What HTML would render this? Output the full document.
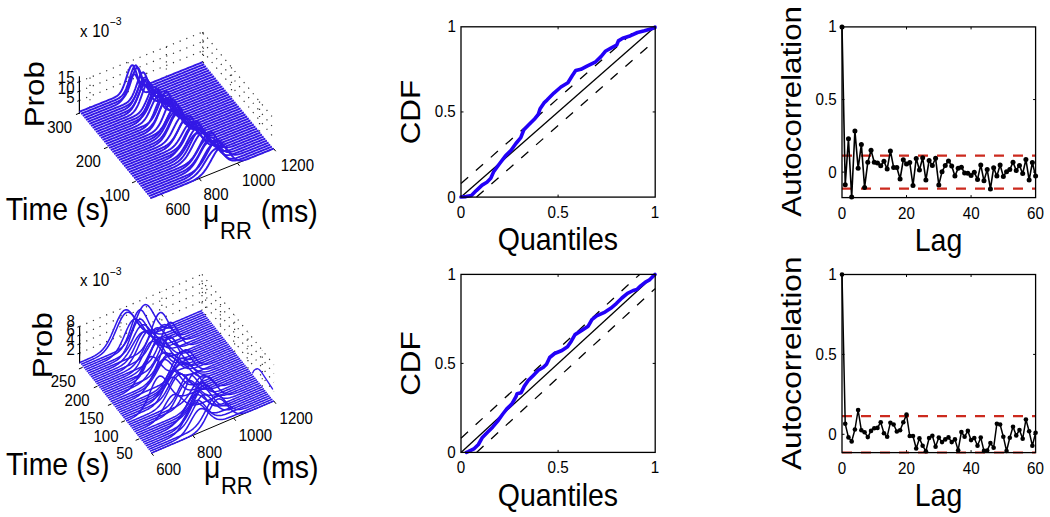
<!DOCTYPE html>
<html><head><meta charset="utf-8"><style>
html,body{margin:0;padding:0;background:#fff;width:1050px;height:517px;overflow:hidden}
svg{display:block}
text{font-family:"Liberation Sans", sans-serif}
</style></head><body>
<svg width="1050" height="517" viewBox="0 0 1050 517" font-family='"Liberation Sans", sans-serif'><line x1="558.1" y1="197.1" x2="558.1" y2="194.6" stroke="#000" stroke-width="1" stroke-linecap="butt"/>
<line x1="558.1" y1="26.8" x2="558.1" y2="29.3" stroke="#000" stroke-width="1" stroke-linecap="butt"/>
<line x1="461" y1="111.95" x2="463.5" y2="111.95" stroke="#000" stroke-width="1" stroke-linecap="butt"/>
<line x1="655.2" y1="111.95" x2="652.7" y2="111.95" stroke="#000" stroke-width="1" stroke-linecap="butt"/>
<line x1="461" y1="183.48" x2="639.66" y2="26.8" stroke="#000" stroke-width="1.3" stroke-linecap="butt" stroke-dasharray="9.5 10.3" stroke-dashoffset="0"/>
<line x1="476.54" y1="197.1" x2="655.2" y2="40.42" stroke="#000" stroke-width="1.3" stroke-linecap="butt" stroke-dasharray="9.5 10.3" stroke-dashoffset="0"/>
<line x1="461" y1="197.1" x2="655.2" y2="26.8" stroke="#000" stroke-width="1.3" stroke-linecap="butt"/>
<polyline points="461,197 466,196.6 471.4,195.6 476.3,190.6 482.1,185.1 486.9,182.2 490.8,178.3 493.7,171.6 499.5,163.8 505.3,156.1 511.1,150.3 515.9,143.5 520.8,137.7 523.7,130 528.5,125.1 534.3,119.3 538.2,114.5 540.1,108.7 544,102.9 547,100.1 553.9,93.1 560.9,87 567.9,82.7 572.2,75.7 575.7,70.5 580.9,69.3 587,66.1 595.7,61.8 601,56.6 605.3,51.3 611.4,47.9 616.6,45.2 618.4,40.9 622.7,38.3 630.6,35.7 637.5,32.5 644.5,30.8 654.9,27.8 655,27" fill="none" stroke="#2200f8" stroke-width="3.6" stroke-linejoin="round" stroke-linecap="round"/>
<rect x="461" y="26.8" width="194.2" height="170.3" fill="none" stroke="#000" stroke-width="1.3"/>
<text transform="translate(447.34,202.5) scale(1,1.08)" font-size="15.2" fill="#000">0</text>
<text transform="translate(434.71,117.35) scale(1,1.08)" font-size="15.2" fill="#000">0.5</text>
<text transform="translate(447.49,32.2) scale(1,1.08)" font-size="15.2" fill="#000">1</text>
<text transform="translate(456.77,218.1) scale(1,1.08)" font-size="15.2" fill="#000">0</text>
<text transform="translate(547.56,218.1) scale(1,1.08)" font-size="15.2" fill="#000">0.5</text>
<text transform="translate(650.77,218.1) scale(1,1.08)" font-size="15.2" fill="#000">1</text>
<text transform="translate(497.74,250.4) scale(1,1.08)" font-size="28.5" fill="#000">Quantiles</text>
<text transform="translate(419.8,144.33) rotate(-90) scale(1.1,1)" font-size="28.5" fill="#000">CDF</text>
<line x1="558.1" y1="452.4" x2="558.1" y2="449.9" stroke="#000" stroke-width="1" stroke-linecap="butt"/>
<line x1="558.1" y1="274.4" x2="558.1" y2="276.9" stroke="#000" stroke-width="1" stroke-linecap="butt"/>
<line x1="461" y1="363.4" x2="463.5" y2="363.4" stroke="#000" stroke-width="1" stroke-linecap="butt"/>
<line x1="655.2" y1="363.4" x2="652.7" y2="363.4" stroke="#000" stroke-width="1" stroke-linecap="butt"/>
<line x1="461" y1="438.16" x2="639.66" y2="274.4" stroke="#000" stroke-width="1.3" stroke-linecap="butt" stroke-dasharray="9.5 10.3" stroke-dashoffset="0"/>
<line x1="476.54" y1="452.4" x2="655.2" y2="288.64" stroke="#000" stroke-width="1.3" stroke-linecap="butt" stroke-dasharray="9.5 10.3" stroke-dashoffset="0"/>
<line x1="461" y1="452.4" x2="655.2" y2="274.4" stroke="#000" stroke-width="1.3" stroke-linecap="butt"/>
<polyline points="466.5,452.3 468.2,451.6 474.3,448.6 478.4,444.5 482.4,437.4 487.5,432.3 492.6,427.2 497.7,421.1 502.8,414 506.8,408.9 511.9,403.9 516,396.7 517,393.7 521.1,392.7 524.1,386.6 528.2,380.5 533.3,375.4 538.3,370.3 543.4,367.3 546.5,364.2 549.7,357.5 554.6,353.5 561.9,350.5 567.5,346.8 571.3,341.2 575,334.6 582.5,329.9 588.2,326.2 591.9,319.6 596.6,315.8 605,312.1 610.7,308.3 616.3,303.6 621.9,298 627.5,293.3 633.2,290.5 636.9,289.6 640.7,285.8 645.4,282.1 649.1,280.2 652.9,276.4 655,274.5" fill="none" stroke="#2200f8" stroke-width="3.6" stroke-linejoin="round" stroke-linecap="round"/>
<rect x="461" y="274.4" width="194.2" height="178" fill="none" stroke="#000" stroke-width="1.3"/>
<text transform="translate(447.34,457.8) scale(1,1.08)" font-size="15.2" fill="#000">0</text>
<text transform="translate(434.71,368.8) scale(1,1.08)" font-size="15.2" fill="#000">0.5</text>
<text transform="translate(447.49,279.8) scale(1,1.08)" font-size="15.2" fill="#000">1</text>
<text transform="translate(456.77,473.4) scale(1,1.08)" font-size="15.2" fill="#000">0</text>
<text transform="translate(547.56,473.4) scale(1,1.08)" font-size="15.2" fill="#000">0.5</text>
<text transform="translate(650.77,473.4) scale(1,1.08)" font-size="15.2" fill="#000">1</text>
<text transform="translate(497.74,505.7) scale(1,1.08)" font-size="28.5" fill="#000">Quantiles</text>
<text transform="translate(419.8,395.78) rotate(-90) scale(1.1,1)" font-size="28.5" fill="#000">CDF</text>
<line x1="906.53" y1="197.6" x2="906.53" y2="195.1" stroke="#000" stroke-width="1" stroke-linecap="butt"/>
<line x1="906.53" y1="26.9" x2="906.53" y2="29.4" stroke="#000" stroke-width="1" stroke-linecap="butt"/>
<line x1="971.07" y1="197.6" x2="971.07" y2="195.1" stroke="#000" stroke-width="1" stroke-linecap="butt"/>
<line x1="971.07" y1="26.9" x2="971.07" y2="29.4" stroke="#000" stroke-width="1" stroke-linecap="butt"/>
<line x1="842" y1="172.1" x2="844.5" y2="172.1" stroke="#000" stroke-width="1" stroke-linecap="butt"/>
<line x1="1035.6" y1="172.1" x2="1033.1" y2="172.1" stroke="#000" stroke-width="1" stroke-linecap="butt"/>
<line x1="842" y1="99.55" x2="844.5" y2="99.55" stroke="#000" stroke-width="1" stroke-linecap="butt"/>
<line x1="1035.6" y1="99.55" x2="1033.1" y2="99.55" stroke="#000" stroke-width="1" stroke-linecap="butt"/>
<line x1="842" y1="155.56" x2="1035.6" y2="155.56" stroke="#cc2a1e" stroke-width="2.2" stroke-linecap="butt" stroke-dasharray="10 9" stroke-dashoffset="0"/>
<line x1="842" y1="188.64" x2="1035.6" y2="188.64" stroke="#cc2a1e" stroke-width="2.2" stroke-linecap="butt" stroke-dasharray="10 9" stroke-dashoffset="0"/>
<polyline points="842,27 845.23,184.8 848.45,138.7 851.68,197 854.91,130.9 858.13,168.3 861.36,144.4 864.59,187.4 867.81,162.2 871.04,150.3 874.27,162.2 877.49,163 880.72,165.7 883.95,161.3 887.17,169.1 890.4,150.9 893.63,167.4 896.85,167.5 900.08,179 903.31,159.8 906.53,163.9 909.76,162.5 912.99,185.5 916.21,158.4 919.44,170 922.67,157.8 925.89,180.1 929.12,160.5 932.35,165.5 935.57,158.2 938.8,184.9 942.03,171.7 945.25,165.5 948.48,160.9 951.71,165.9 954.93,176.1 958.16,168.2 961.39,167.2 964.61,173.1 967.84,173.3 971.07,175.4 974.29,172.3 977.52,179.4 980.75,164.9 983.97,180.8 987.2,169.6 990.43,188.9 993.65,167.7 996.88,176.1 1000.11,165 1003.33,176.4 1006.56,171.8 1009.79,169.6 1013.01,162.2 1016.24,170.4 1019.47,165.5 1022.69,173.6 1025.92,159.5 1029.15,180.1 1032.37,162.5 1035.6,176.1" fill="none" stroke="#000" stroke-width="1.6" stroke-linejoin="round" stroke-linecap="round"/>
<circle cx="842" cy="27" r="2.5" fill="#000"/>
<circle cx="845.23" cy="184.8" r="2.5" fill="#000"/>
<circle cx="848.45" cy="138.7" r="2.5" fill="#000"/>
<circle cx="851.68" cy="197" r="2.5" fill="#000"/>
<circle cx="854.91" cy="130.9" r="2.5" fill="#000"/>
<circle cx="858.13" cy="168.3" r="2.5" fill="#000"/>
<circle cx="861.36" cy="144.4" r="2.5" fill="#000"/>
<circle cx="864.59" cy="187.4" r="2.5" fill="#000"/>
<circle cx="867.81" cy="162.2" r="2.5" fill="#000"/>
<circle cx="871.04" cy="150.3" r="2.5" fill="#000"/>
<circle cx="874.27" cy="162.2" r="2.5" fill="#000"/>
<circle cx="877.49" cy="163" r="2.5" fill="#000"/>
<circle cx="880.72" cy="165.7" r="2.5" fill="#000"/>
<circle cx="883.95" cy="161.3" r="2.5" fill="#000"/>
<circle cx="887.17" cy="169.1" r="2.5" fill="#000"/>
<circle cx="890.4" cy="150.9" r="2.5" fill="#000"/>
<circle cx="893.63" cy="167.4" r="2.5" fill="#000"/>
<circle cx="896.85" cy="167.5" r="2.5" fill="#000"/>
<circle cx="900.08" cy="179" r="2.5" fill="#000"/>
<circle cx="903.31" cy="159.8" r="2.5" fill="#000"/>
<circle cx="906.53" cy="163.9" r="2.5" fill="#000"/>
<circle cx="909.76" cy="162.5" r="2.5" fill="#000"/>
<circle cx="912.99" cy="185.5" r="2.5" fill="#000"/>
<circle cx="916.21" cy="158.4" r="2.5" fill="#000"/>
<circle cx="919.44" cy="170" r="2.5" fill="#000"/>
<circle cx="922.67" cy="157.8" r="2.5" fill="#000"/>
<circle cx="925.89" cy="180.1" r="2.5" fill="#000"/>
<circle cx="929.12" cy="160.5" r="2.5" fill="#000"/>
<circle cx="932.35" cy="165.5" r="2.5" fill="#000"/>
<circle cx="935.57" cy="158.2" r="2.5" fill="#000"/>
<circle cx="938.8" cy="184.9" r="2.5" fill="#000"/>
<circle cx="942.03" cy="171.7" r="2.5" fill="#000"/>
<circle cx="945.25" cy="165.5" r="2.5" fill="#000"/>
<circle cx="948.48" cy="160.9" r="2.5" fill="#000"/>
<circle cx="951.71" cy="165.9" r="2.5" fill="#000"/>
<circle cx="954.93" cy="176.1" r="2.5" fill="#000"/>
<circle cx="958.16" cy="168.2" r="2.5" fill="#000"/>
<circle cx="961.39" cy="167.2" r="2.5" fill="#000"/>
<circle cx="964.61" cy="173.1" r="2.5" fill="#000"/>
<circle cx="967.84" cy="173.3" r="2.5" fill="#000"/>
<circle cx="971.07" cy="175.4" r="2.5" fill="#000"/>
<circle cx="974.29" cy="172.3" r="2.5" fill="#000"/>
<circle cx="977.52" cy="179.4" r="2.5" fill="#000"/>
<circle cx="980.75" cy="164.9" r="2.5" fill="#000"/>
<circle cx="983.97" cy="180.8" r="2.5" fill="#000"/>
<circle cx="987.2" cy="169.6" r="2.5" fill="#000"/>
<circle cx="990.43" cy="188.9" r="2.5" fill="#000"/>
<circle cx="993.65" cy="167.7" r="2.5" fill="#000"/>
<circle cx="996.88" cy="176.1" r="2.5" fill="#000"/>
<circle cx="1000.11" cy="165" r="2.5" fill="#000"/>
<circle cx="1003.33" cy="176.4" r="2.5" fill="#000"/>
<circle cx="1006.56" cy="171.8" r="2.5" fill="#000"/>
<circle cx="1009.79" cy="169.6" r="2.5" fill="#000"/>
<circle cx="1013.01" cy="162.2" r="2.5" fill="#000"/>
<circle cx="1016.24" cy="170.4" r="2.5" fill="#000"/>
<circle cx="1019.47" cy="165.5" r="2.5" fill="#000"/>
<circle cx="1022.69" cy="173.6" r="2.5" fill="#000"/>
<circle cx="1025.92" cy="159.5" r="2.5" fill="#000"/>
<circle cx="1029.15" cy="180.1" r="2.5" fill="#000"/>
<circle cx="1032.37" cy="162.5" r="2.5" fill="#000"/>
<circle cx="1035.6" cy="176.1" r="2.5" fill="#000"/>
<rect x="842" y="26.9" width="193.6" height="170.7" fill="none" stroke="#000" stroke-width="1.3"/>
<text transform="translate(828.14,177.5) scale(1,1.08)" font-size="15.2" fill="#000">0</text>
<text transform="translate(815.51,104.95) scale(1,1.08)" font-size="15.2" fill="#000">0.5</text>
<text transform="translate(828.29,32.4) scale(1,1.08)" font-size="15.2" fill="#000">1</text>
<text transform="translate(837.77,218.8) scale(1,1.08)" font-size="15.2" fill="#000">0</text>
<text transform="translate(897.99,218.8) scale(1,1.08)" font-size="15.2" fill="#000">20</text>
<text transform="translate(962.74,218.8) scale(1,1.08)" font-size="15.2" fill="#000">40</text>
<text transform="translate(1027.06,218.8) scale(1,1.08)" font-size="15.2" fill="#000">60</text>
<text transform="translate(914.77,250.6) scale(1,1.08)" font-size="28.5" fill="#000">Lag</text>
<text transform="translate(801.2,216.69) rotate(-90) scale(1.1,1)" font-size="28.5" fill="#000">Autocorrelation</text>
<line x1="906.53" y1="452.6" x2="906.53" y2="450.1" stroke="#000" stroke-width="1" stroke-linecap="butt"/>
<line x1="906.53" y1="274.5" x2="906.53" y2="277" stroke="#000" stroke-width="1" stroke-linecap="butt"/>
<line x1="971.07" y1="452.6" x2="971.07" y2="450.1" stroke="#000" stroke-width="1" stroke-linecap="butt"/>
<line x1="971.07" y1="274.5" x2="971.07" y2="277" stroke="#000" stroke-width="1" stroke-linecap="butt"/>
<line x1="842" y1="434.3" x2="844.5" y2="434.3" stroke="#000" stroke-width="1" stroke-linecap="butt"/>
<line x1="1035.6" y1="434.3" x2="1033.1" y2="434.3" stroke="#000" stroke-width="1" stroke-linecap="butt"/>
<line x1="842" y1="354.4" x2="844.5" y2="354.4" stroke="#000" stroke-width="1" stroke-linecap="butt"/>
<line x1="1035.6" y1="354.4" x2="1033.1" y2="354.4" stroke="#000" stroke-width="1" stroke-linecap="butt"/>
<line x1="842" y1="416.08" x2="1035.6" y2="416.08" stroke="#cc2a1e" stroke-width="2.2" stroke-linecap="butt" stroke-dasharray="10 9" stroke-dashoffset="0"/>
<line x1="842" y1="452.52" x2="1035.6" y2="452.52" stroke="#cc2a1e" stroke-width="2.2" stroke-linecap="butt" stroke-dasharray="10 9" stroke-dashoffset="0"/>
<polyline points="842,274.5 845.23,423.8 848.45,437.4 851.68,441.4 854.91,429.5 858.13,410 861.36,430.3 864.59,432.2 867.81,437.1 871.04,430.9 874.27,428.2 877.49,427.9 880.72,422.2 883.95,433.3 887.17,436.7 890.4,422.7 893.63,424.5 896.85,431.5 900.08,430.3 903.31,422.2 906.53,414.6 909.76,436 912.99,436 916.21,448.5 919.44,438.4 922.67,445.8 925.89,451.2 929.12,438 932.35,435.7 935.57,446.8 938.8,437.6 942.03,442.1 945.25,439.4 948.48,437.4 951.71,442.1 954.93,439.4 958.16,450.2 961.39,432 964.61,436.7 967.84,430.9 971.07,440.1 974.29,438 977.52,445.8 980.75,437.6 983.97,450.9 987.2,450.6 990.43,443.1 993.65,447.7 996.88,423.7 1000.11,424.5 1003.33,436.7 1006.56,451 1009.79,437.7 1013.01,426.8 1016.24,435.4 1019.47,430 1022.69,438.8 1025.92,419.5 1029.15,431.3 1032.37,445.8 1035.6,432.7" fill="none" stroke="#000" stroke-width="1.5" stroke-linejoin="round" stroke-linecap="round"/>
<circle cx="842" cy="274.5" r="2.3" fill="#000"/>
<circle cx="845.23" cy="423.8" r="2.3" fill="#000"/>
<circle cx="848.45" cy="437.4" r="2.3" fill="#000"/>
<circle cx="851.68" cy="441.4" r="2.3" fill="#000"/>
<circle cx="854.91" cy="429.5" r="2.3" fill="#000"/>
<circle cx="858.13" cy="410" r="2.3" fill="#000"/>
<circle cx="861.36" cy="430.3" r="2.3" fill="#000"/>
<circle cx="864.59" cy="432.2" r="2.3" fill="#000"/>
<circle cx="867.81" cy="437.1" r="2.3" fill="#000"/>
<circle cx="871.04" cy="430.9" r="2.3" fill="#000"/>
<circle cx="874.27" cy="428.2" r="2.3" fill="#000"/>
<circle cx="877.49" cy="427.9" r="2.3" fill="#000"/>
<circle cx="880.72" cy="422.2" r="2.3" fill="#000"/>
<circle cx="883.95" cy="433.3" r="2.3" fill="#000"/>
<circle cx="887.17" cy="436.7" r="2.3" fill="#000"/>
<circle cx="890.4" cy="422.7" r="2.3" fill="#000"/>
<circle cx="893.63" cy="424.5" r="2.3" fill="#000"/>
<circle cx="896.85" cy="431.5" r="2.3" fill="#000"/>
<circle cx="900.08" cy="430.3" r="2.3" fill="#000"/>
<circle cx="903.31" cy="422.2" r="2.3" fill="#000"/>
<circle cx="906.53" cy="414.6" r="2.3" fill="#000"/>
<circle cx="909.76" cy="436" r="2.3" fill="#000"/>
<circle cx="912.99" cy="436" r="2.3" fill="#000"/>
<circle cx="916.21" cy="448.5" r="2.3" fill="#000"/>
<circle cx="919.44" cy="438.4" r="2.3" fill="#000"/>
<circle cx="922.67" cy="445.8" r="2.3" fill="#000"/>
<circle cx="925.89" cy="451.2" r="2.3" fill="#000"/>
<circle cx="929.12" cy="438" r="2.3" fill="#000"/>
<circle cx="932.35" cy="435.7" r="2.3" fill="#000"/>
<circle cx="935.57" cy="446.8" r="2.3" fill="#000"/>
<circle cx="938.8" cy="437.6" r="2.3" fill="#000"/>
<circle cx="942.03" cy="442.1" r="2.3" fill="#000"/>
<circle cx="945.25" cy="439.4" r="2.3" fill="#000"/>
<circle cx="948.48" cy="437.4" r="2.3" fill="#000"/>
<circle cx="951.71" cy="442.1" r="2.3" fill="#000"/>
<circle cx="954.93" cy="439.4" r="2.3" fill="#000"/>
<circle cx="958.16" cy="450.2" r="2.3" fill="#000"/>
<circle cx="961.39" cy="432" r="2.3" fill="#000"/>
<circle cx="964.61" cy="436.7" r="2.3" fill="#000"/>
<circle cx="967.84" cy="430.9" r="2.3" fill="#000"/>
<circle cx="971.07" cy="440.1" r="2.3" fill="#000"/>
<circle cx="974.29" cy="438" r="2.3" fill="#000"/>
<circle cx="977.52" cy="445.8" r="2.3" fill="#000"/>
<circle cx="980.75" cy="437.6" r="2.3" fill="#000"/>
<circle cx="983.97" cy="450.9" r="2.3" fill="#000"/>
<circle cx="987.2" cy="450.6" r="2.3" fill="#000"/>
<circle cx="990.43" cy="443.1" r="2.3" fill="#000"/>
<circle cx="993.65" cy="447.7" r="2.3" fill="#000"/>
<circle cx="996.88" cy="423.7" r="2.3" fill="#000"/>
<circle cx="1000.11" cy="424.5" r="2.3" fill="#000"/>
<circle cx="1003.33" cy="436.7" r="2.3" fill="#000"/>
<circle cx="1006.56" cy="451" r="2.3" fill="#000"/>
<circle cx="1009.79" cy="437.7" r="2.3" fill="#000"/>
<circle cx="1013.01" cy="426.8" r="2.3" fill="#000"/>
<circle cx="1016.24" cy="435.4" r="2.3" fill="#000"/>
<circle cx="1019.47" cy="430" r="2.3" fill="#000"/>
<circle cx="1022.69" cy="438.8" r="2.3" fill="#000"/>
<circle cx="1025.92" cy="419.5" r="2.3" fill="#000"/>
<circle cx="1029.15" cy="431.3" r="2.3" fill="#000"/>
<circle cx="1032.37" cy="445.8" r="2.3" fill="#000"/>
<circle cx="1035.6" cy="432.7" r="2.3" fill="#000"/>
<rect x="842" y="274.5" width="193.6" height="178.1" fill="none" stroke="#000" stroke-width="1.3"/>
<text transform="translate(828.14,439.7) scale(1,1.08)" font-size="15.2" fill="#000">0</text>
<text transform="translate(815.51,359.8) scale(1,1.08)" font-size="15.2" fill="#000">0.5</text>
<text transform="translate(828.29,279.9) scale(1,1.08)" font-size="15.2" fill="#000">1</text>
<text transform="translate(837.77,473.8) scale(1,1.08)" font-size="15.2" fill="#000">0</text>
<text transform="translate(897.99,473.8) scale(1,1.08)" font-size="15.2" fill="#000">20</text>
<text transform="translate(962.74,473.8) scale(1,1.08)" font-size="15.2" fill="#000">40</text>
<text transform="translate(1027.06,473.8) scale(1,1.08)" font-size="15.2" fill="#000">60</text>
<text transform="translate(914.77,505.6) scale(1,1.08)" font-size="28.5" fill="#000">Lag</text>
<text transform="translate(801.2,470.07) rotate(-90) scale(1.115,1)" font-size="28.5" fill="#000">Autocorrelation</text>
<line x1="79.4" y1="100.5" x2="202.6" y2="50.9" stroke="#333" stroke-width="1.2" stroke-dasharray="1.2 6"/>
<line x1="202.6" y1="50.9" x2="273.6" y2="137.3" stroke="#333" stroke-width="1.2" stroke-dasharray="1.2 6"/>
<line x1="79.4" y1="91.2" x2="202.6" y2="41.6" stroke="#333" stroke-width="1.2" stroke-dasharray="1.2 6"/>
<line x1="202.6" y1="41.6" x2="273.6" y2="128" stroke="#333" stroke-width="1.2" stroke-dasharray="1.2 6"/>
<line x1="79.4" y1="81.7" x2="202.6" y2="32.1" stroke="#333" stroke-width="1.2" stroke-dasharray="1.2 6"/>
<line x1="202.6" y1="32.1" x2="273.6" y2="118.5" stroke="#333" stroke-width="1.2" stroke-dasharray="1.2 6"/>
<line x1="90" y1="107.53" x2="90" y2="71.93" stroke="#333" stroke-width="1.2" stroke-dasharray="1.2 6"/>
<line x1="128.19" y1="92.16" x2="128.19" y2="56.56" stroke="#333" stroke-width="1.2" stroke-dasharray="1.2 6"/>
<line x1="166.38" y1="76.78" x2="166.38" y2="41.18" stroke="#333" stroke-width="1.2" stroke-dasharray="1.2 6"/>
<line x1="202.6" y1="62.2" x2="202.6" y2="26.6" stroke="#333" stroke-width="1.2" stroke-dasharray="1.2 6"/>
<line x1="259.54" y1="131.49" x2="259.54" y2="95.89" stroke="#333" stroke-width="1.2" stroke-dasharray="1.2 6"/>
<line x1="231.5" y1="97.36" x2="231.5" y2="61.76" stroke="#333" stroke-width="1.2" stroke-dasharray="1.2 6"/>
<line x1="203.45" y1="63.24" x2="203.45" y2="27.64" stroke="#333" stroke-width="1.2" stroke-dasharray="1.2 6"/>
<line x1="150.4" y1="198.2" x2="273.6" y2="148.6" stroke="#000" stroke-width="1.0"/>
<line x1="79.4" y1="113.8" x2="79.4" y2="76.2" stroke="#000" stroke-width="1.2"/>
<line x1="77.2" y1="101.3" x2="79.4" y2="100.5" stroke="#000" stroke-width="1"/>
<line x1="77.2" y1="92" x2="79.4" y2="91.2" stroke="#000" stroke-width="1"/>
<line x1="77.2" y1="82.5" x2="79.4" y2="81.7" stroke="#000" stroke-width="1"/>
<line x1="161" y1="193.93" x2="163.13" y2="196.53" stroke="#000" stroke-width="1.0"/>
<line x1="199.19" y1="178.56" x2="201.32" y2="181.15" stroke="#000" stroke-width="1.0"/>
<line x1="237.38" y1="163.18" x2="239.51" y2="165.77" stroke="#000" stroke-width="1.0"/>
<line x1="273.6" y1="148.6" x2="275.73" y2="151.19" stroke="#000" stroke-width="1.0"/>
<line x1="135.73" y1="181.34" x2="132.03" y2="182.83" stroke="#000" stroke-width="1.0"/>
<line x1="107.68" y1="147.21" x2="103.98" y2="148.7" stroke="#000" stroke-width="1.0"/>
<line x1="79.64" y1="113.08" x2="75.94" y2="114.57" stroke="#000" stroke-width="1.0"/>
<polyline points="79.4,111.8 80.77,111.25 82.14,110.7 83.51,110.15 84.88,109.6 86.24,109.04 87.61,108.49 88.98,107.94 90.35,107.39 91.72,106.84 93.09,106.29 94.46,105.74 95.83,105.19 97.2,104.64 98.56,104.08 99.93,103.53 101.3,102.98 102.67,102.43 104.04,101.88 105.41,101.33 106.78,100.78 108.15,100.22 109.52,99.67 110.88,99.11 112.25,98.53 113.62,97.92 114.99,97.25 116.36,96.46 117.73,95.46 119.1,94.15 120.47,92.39 121.84,90.05 123.2,87.02 124.57,83.34 125.94,79.16 127.31,74.81 128.68,70.75 130.05,67.51 131.42,65.51 132.79,65.14 134.16,66.95 135.52,70.42 136.89,74.59 138.26,78.53 139.63,81.62 141,83.67 142.37,84.74 143.74,85.1 145.11,85.01 146.48,84.67 147.84,84.2 149.21,83.68 150.58,83.14 151.95,82.59 153.32,82.04 154.69,81.49 156.06,80.94 157.43,80.39 158.8,79.84 160.16,79.28 161.53,78.73 162.9,78.18 164.27,77.63 165.64,77.08 167.01,76.53 168.38,75.98 169.75,75.43 171.12,74.88 172.48,74.32 173.85,73.77 175.22,73.22 176.59,72.67 177.96,72.12 179.33,71.57 180.7,71.02 182.07,70.47 183.44,69.92 184.8,69.36 186.17,68.81 187.54,68.26 188.91,67.71 190.28,67.16 191.65,66.61 193.02,66.06 194.39,65.51 195.76,64.96 197.12,64.4 198.49,63.85 199.86,63.3 201.23,62.75 202.6,62.2" fill="none" stroke="#3318e6" stroke-width="1.95" stroke-linejoin="round"/>
<polyline points="81.05,113.81 82.42,113.26 83.79,112.71 85.16,112.16 86.53,111.6 87.9,111.05 89.26,110.5 90.63,109.95 92,109.4 93.37,108.85 94.74,108.3 96.11,107.75 97.48,107.2 98.85,106.64 100.22,106.09 101.58,105.54 102.95,104.99 104.32,104.44 105.69,103.89 107.06,103.34 108.43,102.79 109.8,102.24 111.17,101.68 112.54,101.13 113.9,100.56 115.27,99.99 116.64,99.37 118.01,98.7 119.38,97.91 120.75,96.91 122.12,95.61 123.49,93.87 124.86,91.54 126.22,88.54 127.59,84.87 128.96,80.66 130.33,76.22 131.7,71.98 133.07,68.46 134.44,66.11 135.81,65.27 137.18,66.58 138.54,69.77 139.91,73.95 141.28,78.15 142.65,81.67 144.02,84.15 145.39,85.6 146.76,86.23 148.13,86.3 149.5,86.05 150.86,85.63 152.23,85.13 153.6,84.59 154.97,84.05 156.34,83.5 157.71,82.95 159.08,82.4 160.45,81.84 161.82,81.29 163.18,80.74 164.55,80.19 165.92,79.64 167.29,79.09 168.66,78.54 170.03,77.99 171.4,77.44 172.77,76.88 174.14,76.33 175.5,75.78 176.87,75.23 178.24,74.68 179.61,74.13 180.98,73.58 182.35,73.03 183.72,72.48 185.09,71.92 186.46,71.37 187.82,70.82 189.19,70.27 190.56,69.72 191.93,69.17 193.3,68.62 194.67,68.07 196.04,67.52 197.41,66.96 198.78,66.41 200.14,65.86 201.51,65.31 202.88,64.76 204.25,64.21" fill="none" stroke="#3318e6" stroke-width="1.95" stroke-linejoin="round"/>
<polyline points="82.7,115.82 84.07,115.27 85.44,114.72 86.81,114.17 88.18,113.61 89.55,113.06 90.92,112.51 92.28,111.96 93.65,111.41 95.02,110.86 96.39,110.31 97.76,109.76 99.13,109.21 100.5,108.65 101.87,108.1 103.24,107.55 104.6,107 105.97,106.45 107.34,105.9 108.71,105.35 110.08,104.8 111.45,104.24 112.82,103.69 114.19,103.13 115.56,102.57 116.92,101.98 118.29,101.36 119.66,100.67 121.03,99.85 122.4,98.83 123.77,97.48 125.14,95.69 126.51,93.33 127.88,90.32 129.24,86.66 130.61,82.51 131.98,78.17 133.35,74.04 134.72,70.61 136.09,68.31 137.46,67.46 138.83,68.66 140.2,71.69 141.56,75.72 142.93,79.84 144.3,83.34 145.67,85.87 147.04,87.4 148.41,88.1 149.78,88.23 151.15,88.02 152.52,87.62 153.88,87.13 155.25,86.6 156.62,86.06 157.99,85.51 159.36,84.96 160.73,84.41 162.1,83.85 163.47,83.3 164.84,82.75 166.2,82.2 167.57,81.65 168.94,81.1 170.31,80.55 171.68,80 173.05,79.45 174.42,78.89 175.79,78.34 177.16,77.79 178.52,77.24 179.89,76.69 181.26,76.14 182.63,75.59 184,75.04 185.37,74.49 186.74,73.93 188.11,73.38 189.48,72.83 190.84,72.28 192.21,71.73 193.58,71.18 194.95,70.63 196.32,70.08 197.69,69.53 199.06,68.97 200.43,68.42 201.8,67.87 203.16,67.32 204.53,66.77 205.9,66.22" fill="none" stroke="#3318e6" stroke-width="1.95" stroke-linejoin="round"/>
<polyline points="84.35,117.83 85.72,117.28 87.09,116.73 88.46,116.17 89.83,115.62 91.2,115.07 92.57,114.52 93.94,113.97 95.3,113.42 96.67,112.87 98.04,112.32 99.41,111.77 100.78,111.21 102.15,110.66 103.52,110.11 104.89,109.56 106.26,109.01 107.62,108.46 108.99,107.91 110.36,107.35 111.73,106.79 113.1,106.21 114.47,105.61 115.84,104.95 117.21,104.2 118.58,103.29 119.94,102.13 121.31,100.62 122.68,98.64 124.05,96.12 125.42,93.02 126.79,89.44 128.16,85.56 129.53,81.72 130.9,78.31 132.26,75.73 133.63,74.29 135,74.35 136.37,76.24 137.74,79.38 139.11,83.01 140.48,86.4 141.85,89.07 143.22,90.86 144.58,91.83 145.95,92.17 147.32,92.09 148.69,91.77 150.06,91.31 151.43,90.8 152.8,90.27 154.17,89.72 155.54,89.17 156.9,88.62 158.27,88.07 159.64,87.52 161.01,86.97 162.38,86.41 163.75,85.86 165.12,85.31 166.49,84.76 167.86,84.21 169.22,83.66 170.59,83.11 171.96,82.56 173.33,82.01 174.7,81.45 176.07,80.9 177.44,80.35 178.81,79.8 180.18,79.25 181.54,78.7 182.91,78.15 184.28,77.6 185.65,77.05 187.02,76.49 188.39,75.94 189.76,75.39 191.13,74.84 192.5,74.29 193.86,73.74 195.23,73.19 196.6,72.64 197.97,72.09 199.34,71.53 200.71,70.98 202.08,70.43 203.45,69.88 204.82,69.33 206.18,68.78 207.55,68.23" fill="none" stroke="#3318e6" stroke-width="1.95" stroke-linejoin="round"/>
<polyline points="86,119.84 87.37,119.29 88.74,118.73 90.11,118.18 91.48,117.63 92.85,117.08 94.22,116.53 95.59,115.98 96.96,115.43 98.32,114.88 99.69,114.33 101.06,113.77 102.43,113.22 103.8,112.67 105.17,112.12 106.54,111.57 107.91,111.02 109.28,110.47 110.64,109.92 112.01,109.37 113.38,108.81 114.75,108.26 116.12,107.71 117.49,107.16 118.86,106.6 120.23,106.04 121.6,105.46 122.96,104.86 124.33,104.2 125.7,103.45 127.07,102.54 128.44,101.39 129.81,99.89 131.18,97.93 132.55,95.43 133.92,92.35 135.28,88.76 136.65,84.83 138.02,80.88 139.39,77.27 140.76,74.43 142.13,72.67 143.5,72.3 144.87,73.78 146.24,76.72 147.6,80.38 148.97,84.01 150.34,87.04 151.71,89.21 153.08,90.5 154.45,91.09 155.82,91.17 157.19,90.93 158.56,90.53 159.92,90.04 161.29,89.51 162.66,88.97 164.03,88.42 165.4,87.87 166.77,87.32 168.14,86.77 169.51,86.22 170.88,85.67 172.24,85.12 173.61,84.57 174.98,84.01 176.35,83.46 177.72,82.91 179.09,82.36 180.46,81.81 181.83,81.26 183.2,80.71 184.56,80.16 185.93,79.61 187.3,79.05 188.67,78.5 190.04,77.95 191.41,77.4 192.78,76.85 194.15,76.3 195.52,75.75 196.88,75.2 198.25,74.65 199.62,74.09 200.99,73.54 202.36,72.99 203.73,72.44 205.1,71.89 206.47,71.34 207.84,70.79 209.2,70.24" fill="none" stroke="#3318e6" stroke-width="1.95" stroke-linejoin="round"/>
<polyline points="87.66,121.85 89.02,121.3 90.39,120.74 91.76,120.19 93.13,119.64 94.5,119.09 95.87,118.54 97.24,117.99 98.61,117.44 99.98,116.89 101.34,116.34 102.71,115.78 104.08,115.23 105.45,114.68 106.82,114.13 108.19,113.58 109.56,113.03 110.93,112.48 112.3,111.93 113.66,111.38 115.03,110.82 116.4,110.27 117.77,109.72 119.14,109.17 120.51,108.61 121.88,108.05 123.25,107.47 124.62,106.87 125.98,106.22 127.35,105.48 128.72,104.6 130.09,103.51 131.46,102.11 132.83,100.32 134.2,98.07 135.57,95.33 136.94,92.16 138.3,88.71 139.67,85.23 141.04,82.04 142.41,79.47 143.78,77.81 145.15,77.29 146.52,78.33 147.89,80.67 149.26,83.7 150.62,86.78 151.99,89.42 153.36,91.35 154.73,92.53 156.1,93.07 157.47,93.14 158.84,92.92 160.21,92.53 161.58,92.04 162.94,91.52 164.31,90.98 165.68,90.43 167.05,89.88 168.42,89.33 169.79,88.78 171.16,88.23 172.53,87.68 173.9,87.13 175.26,86.58 176.63,86.02 178,85.47 179.37,84.92 180.74,84.37 182.11,83.82 183.48,83.27 184.85,82.72 186.22,82.17 187.58,81.62 188.95,81.06 190.32,80.51 191.69,79.96 193.06,79.41 194.43,78.86 195.8,78.31 197.17,77.76 198.54,77.21 199.9,76.66 201.27,76.1 202.64,75.55 204.01,75 205.38,74.45 206.75,73.9 208.12,73.35 209.49,72.8 210.86,72.25" fill="none" stroke="#3318e6" stroke-width="1.95" stroke-linejoin="round"/>
<polyline points="89.31,123.86 90.68,123.3 92.04,122.75 93.41,122.2 94.78,121.65 96.15,121.1 97.52,120.55 98.89,120 100.26,119.45 101.63,118.9 103,118.34 104.36,117.79 105.73,117.24 107.1,116.69 108.47,116.14 109.84,115.59 111.21,115.04 112.58,114.49 113.95,113.94 115.32,113.38 116.68,112.83 118.05,112.28 119.42,111.72 120.79,111.15 122.16,110.57 123.53,109.96 124.9,109.29 126.27,108.52 127.64,107.59 129,106.44 130.37,104.97 131.74,103.08 133.11,100.73 134.48,97.9 135.85,94.64 137.22,91.13 138.59,87.62 139.96,84.42 141.32,81.86 142.69,80.22 144.06,79.72 145.43,80.79 146.8,83.16 148.17,86.23 149.54,89.38 150.91,92.11 152.28,94.13 153.64,95.41 155.01,96.03 156.38,96.17 157.75,95.99 159.12,95.61 160.49,95.14 161.86,94.63 163.23,94.09 164.6,93.54 165.96,92.99 167.33,92.44 168.7,91.89 170.07,91.34 171.44,90.79 172.81,90.24 174.18,89.69 175.55,89.14 176.92,88.58 178.28,88.03 179.65,87.48 181.02,86.93 182.39,86.38 183.76,85.83 185.13,85.28 186.5,84.73 187.87,84.18 189.24,83.62 190.6,83.07 191.97,82.52 193.34,81.97 194.71,81.42 196.08,80.87 197.45,80.32 198.82,79.77 200.19,79.22 201.56,78.66 202.92,78.11 204.29,77.56 205.66,77.01 207.03,76.46 208.4,75.91 209.77,75.36 211.14,74.81 212.51,74.26" fill="none" stroke="#3318e6" stroke-width="1.95" stroke-linejoin="round"/>
<polyline points="90.96,125.87 92.33,125.31 93.7,124.76 95.06,124.21 96.43,123.66 97.8,123.11 99.17,122.56 100.54,122.01 101.91,121.46 103.28,120.91 104.65,120.35 106.02,119.8 107.38,119.25 108.75,118.7 110.12,118.15 111.49,117.6 112.86,117.05 114.23,116.5 115.6,115.94 116.97,115.39 118.34,114.84 119.7,114.29 121.07,113.73 122.44,113.17 123.81,112.6 125.18,112 126.55,111.35 127.92,110.63 129.29,109.77 130.66,108.72 132.02,107.39 133.39,105.68 134.76,103.51 136.13,100.83 137.5,97.66 138.87,94.11 140.24,90.38 141.61,86.75 142.98,83.57 144.34,81.17 145.71,79.78 147.08,79.72 148.45,81.31 149.82,84.1 151.19,87.48 152.56,90.8 153.93,93.6 155.3,95.64 156.66,96.91 158.03,97.51 159.4,97.64 160.77,97.45 162.14,97.07 163.51,96.6 164.88,96.09 166.25,95.55 167.62,95 168.98,94.45 170.35,93.9 171.72,93.35 173.09,92.8 174.46,92.25 175.83,91.7 177.2,91.15 178.57,90.59 179.94,90.04 181.3,89.49 182.67,88.94 184.04,88.39 185.41,87.84 186.78,87.29 188.15,86.74 189.52,86.19 190.89,85.63 192.26,85.08 193.62,84.53 194.99,83.98 196.36,83.43 197.73,82.88 199.1,82.33 200.47,81.78 201.84,81.23 203.21,80.67 204.58,80.12 205.94,79.57 207.31,79.02 208.68,78.47 210.05,77.92 211.42,77.37 212.79,76.82 214.16,76.27" fill="none" stroke="#3318e6" stroke-width="1.95" stroke-linejoin="round"/>
<polyline points="92.61,127.87 93.98,127.32 95.35,126.77 96.72,126.22 98.08,125.67 99.45,125.12 100.82,124.57 102.19,124.02 103.56,123.47 104.93,122.91 106.3,122.36 107.67,121.81 109.04,121.26 110.4,120.71 111.77,120.16 113.14,119.61 114.51,119.06 115.88,118.5 117.25,117.95 118.62,117.4 119.99,116.84 121.36,116.27 122.72,115.68 124.09,115.05 125.46,114.37 126.83,113.58 128.2,112.63 129.57,111.45 130.94,109.96 132.31,108.08 133.68,105.77 135.04,103.01 136.41,99.86 137.78,96.48 139.15,93.09 140.52,89.98 141.89,87.44 143.26,85.73 144.63,85.02 146,85.73 147.36,87.74 148.73,90.54 150.1,93.56 151.47,96.31 152.84,98.47 154.21,99.93 155.58,100.74 156.95,101.04 158.32,100.96 159.68,100.66 161.05,100.23 162.42,99.73 163.79,99.2 165.16,98.66 166.53,98.11 167.9,97.56 169.27,97.01 170.64,96.46 172,95.91 173.37,95.36 174.74,94.81 176.11,94.26 177.48,93.71 178.85,93.15 180.22,92.6 181.59,92.05 182.96,91.5 184.32,90.95 185.69,90.4 187.06,89.85 188.43,89.3 189.8,88.75 191.17,88.19 192.54,87.64 193.91,87.09 195.28,86.54 196.64,85.99 198.01,85.44 199.38,84.89 200.75,84.34 202.12,83.79 203.49,83.23 204.86,82.68 206.23,82.13 207.6,81.58 208.96,81.03 210.33,80.48 211.7,79.93 213.07,79.38 214.44,78.83 215.81,78.27" fill="none" stroke="#3318e6" stroke-width="1.95" stroke-linejoin="round"/>
<polyline points="94.26,129.88 95.63,129.33 97,128.78 98.37,128.23 99.74,127.68 101.1,127.13 102.47,126.58 103.84,126.03 105.21,125.47 106.58,124.92 107.95,124.37 109.32,123.82 110.69,123.27 112.06,122.72 113.42,122.17 114.79,121.62 116.16,121.07 117.53,120.51 118.9,119.96 120.27,119.41 121.64,118.86 123.01,118.3 124.38,117.73 125.74,117.15 127.11,116.54 128.48,115.87 129.85,115.11 131.22,114.21 132.59,113.1 133.96,111.68 135.33,109.88 136.7,107.6 138.06,104.81 139.43,101.53 140.8,97.86 142.17,94 143.54,90.23 144.91,86.87 146.28,84.26 147.65,82.65 149.02,82.28 150.38,83.57 151.75,86.23 153.12,89.66 154.49,93.23 155.86,96.4 157.23,98.87 158.6,100.54 159.97,101.48 161.34,101.85 162.7,101.82 164.07,101.54 165.44,101.13 166.81,100.64 168.18,100.11 169.55,99.57 170.92,99.02 172.29,98.47 173.66,97.92 175.02,97.37 176.39,96.82 177.76,96.27 179.13,95.71 180.5,95.16 181.87,94.61 183.24,94.06 184.61,93.51 185.98,92.96 187.34,92.41 188.71,91.86 190.08,91.31 191.45,90.75 192.82,90.2 194.19,89.65 195.56,89.1 196.93,88.55 198.3,88 199.66,87.45 201.03,86.9 202.4,86.35 203.77,85.79 205.14,85.24 206.51,84.69 207.88,84.14 209.25,83.59 210.62,83.04 211.98,82.49 213.35,81.94 214.72,81.39 216.09,80.83 217.46,80.28" fill="none" stroke="#3318e6" stroke-width="1.95" stroke-linejoin="round"/>
<polyline points="95.91,131.89 97.28,131.34 98.65,130.79 100.02,130.24 101.39,129.69 102.76,129.14 104.12,128.59 105.49,128.04 106.86,127.48 108.23,126.93 109.6,126.38 110.97,125.83 112.34,125.28 113.71,124.73 115.08,124.18 116.44,123.63 117.81,123.08 119.18,122.52 120.55,121.97 121.92,121.42 123.29,120.87 124.66,120.32 126.03,119.77 127.4,119.21 128.76,118.65 130.13,118.09 131.5,117.5 132.87,116.89 134.24,116.23 135.61,115.48 136.98,114.6 138.35,113.53 139.72,112.21 141.08,110.55 142.45,108.5 143.82,106.04 145.19,103.19 146.56,100.04 147.93,96.77 149.3,93.6 150.67,90.8 152.04,88.62 153.4,87.26 154.77,86.93 156.14,87.95 157.51,90.06 158.88,92.79 160.25,95.61 161.62,98.13 162.99,100.08 164.36,101.38 165.72,102.09 167.09,102.33 168.46,102.23 169.83,101.92 171.2,101.49 172.57,100.99 173.94,100.47 175.31,99.92 176.68,99.38 178.04,98.83 179.41,98.28 180.78,97.72 182.15,97.17 183.52,96.62 184.89,96.07 186.26,95.52 187.63,94.97 189,94.42 190.36,93.87 191.73,93.32 193.1,92.76 194.47,92.21 195.84,91.66 197.21,91.11 198.58,90.56 199.95,90.01 201.32,89.46 202.68,88.91 204.05,88.36 205.42,87.8 206.79,87.25 208.16,86.7 209.53,86.15 210.9,85.6 212.27,85.05 213.64,84.5 215,83.95 216.37,83.4 217.74,82.84 219.11,82.29" fill="none" stroke="#3318e6" stroke-width="1.95" stroke-linejoin="round"/>
<polyline points="97.56,133.9 98.93,133.35 100.3,132.8 101.67,132.25 103.04,131.7 104.41,131.15 105.78,130.6 107.15,130.04 108.51,129.49 109.88,128.94 111.25,128.39 112.62,127.84 113.99,127.29 115.36,126.74 116.73,126.19 118.1,125.64 119.47,125.08 120.83,124.53 122.2,123.98 123.57,123.43 124.94,122.88 126.31,122.33 127.68,121.78 129.05,121.22 130.42,120.66 131.79,120.1 133.15,119.52 134.52,118.92 135.89,118.27 137.26,117.56 138.63,116.73 140,115.73 141.37,114.51 142.74,112.99 144.11,111.12 145.47,108.84 146.84,106.18 148.21,103.19 149.58,100 150.95,96.82 152.32,93.89 153.69,91.44 155.06,89.72 156.43,88.85 157.79,89.19 159.16,90.74 160.53,93.14 161.9,95.9 163.27,98.55 164.64,100.77 166.01,102.4 167.38,103.42 168.75,103.9 170.11,103.99 171.48,103.79 172.85,103.43 174.22,102.97 175.59,102.46 176.96,101.93 178.33,101.38 179.7,100.83 181.07,100.28 182.43,99.73 183.8,99.18 185.17,98.63 186.54,98.08 187.91,97.53 189.28,96.98 190.65,96.43 192.02,95.88 193.39,95.32 194.75,94.77 196.12,94.22 197.49,93.67 198.86,93.12 200.23,92.57 201.6,92.02 202.97,91.47 204.34,90.92 205.71,90.36 207.07,89.81 208.44,89.26 209.81,88.71 211.18,88.16 212.55,87.61 213.92,87.06 215.29,86.51 216.66,85.96 218.03,85.4 219.39,84.85 220.76,84.3" fill="none" stroke="#3318e6" stroke-width="1.95" stroke-linejoin="round"/>
<polyline points="99.21,135.91 100.58,135.36 101.95,134.81 103.32,134.26 104.69,133.71 106.06,133.16 107.43,132.6 108.8,132.05 110.17,131.5 111.53,130.95 112.9,130.4 114.27,129.85 115.64,129.3 117.01,128.75 118.38,128.2 119.75,127.64 121.12,127.09 122.49,126.54 123.85,125.99 125.22,125.44 126.59,124.89 127.96,124.34 129.33,123.78 130.7,123.23 132.07,122.66 133.44,122.09 134.81,121.49 136.17,120.85 137.54,120.15 138.91,119.34 140.28,118.39 141.65,117.22 143.02,115.78 144.39,114.01 145.76,111.85 147.13,109.32 148.49,106.45 149.86,103.35 151.23,100.2 152.6,97.22 153.97,94.64 155.34,92.7 156.71,91.54 158.08,91.4 159.45,92.52 160.81,94.6 162.18,97.2 163.55,99.88 164.92,102.25 166.29,104.1 167.66,105.35 169.03,106.04 170.4,106.28 171.77,106.2 173.13,105.91 174.5,105.49 175.87,105 177.24,104.48 178.61,103.94 179.98,103.39 181.35,102.84 182.72,102.29 184.09,101.74 185.45,101.19 186.82,100.64 188.19,100.09 189.56,99.54 190.93,98.99 192.3,98.44 193.67,97.88 195.04,97.33 196.41,96.78 197.77,96.23 199.14,95.68 200.51,95.13 201.88,94.58 203.25,94.03 204.62,93.48 205.99,92.92 207.36,92.37 208.73,91.82 210.09,91.27 211.46,90.72 212.83,90.17 214.2,89.62 215.57,89.07 216.94,88.52 218.31,87.96 219.68,87.41 221.05,86.86 222.41,86.31" fill="none" stroke="#3318e6" stroke-width="1.95" stroke-linejoin="round"/>
<polyline points="100.87,137.92 102.23,137.37 103.6,136.82 104.97,136.27 106.34,135.72 107.71,135.17 109.08,134.61 110.45,134.06 111.82,133.51 113.19,132.96 114.55,132.41 115.92,131.86 117.29,131.31 118.66,130.76 120.03,130.21 121.4,129.65 122.77,129.1 124.14,128.55 125.51,128 126.87,127.44 128.24,126.88 129.61,126.31 130.98,125.73 132.35,125.11 133.72,124.44 135.09,123.69 136.46,122.81 137.83,121.74 139.19,120.42 140.56,118.76 141.93,116.71 143.3,114.21 144.67,111.28 146.04,107.97 147.41,104.41 148.78,100.81 150.15,97.43 151.51,94.54 152.88,92.38 154.25,91.14 155.62,91.08 156.99,92.48 158.36,94.99 159.73,98.13 161.1,101.38 162.47,104.3 163.83,106.62 165.2,108.25 166.57,109.22 167.94,109.66 169.31,109.71 170.68,109.49 172.05,109.11 173.42,108.65 174.79,108.13 176.15,107.6 177.52,107.05 178.89,106.51 180.26,105.96 181.63,105.41 183,104.85 184.37,104.3 185.74,103.75 187.11,103.2 188.47,102.65 189.84,102.1 191.21,101.55 192.58,101 193.95,100.45 195.32,99.89 196.69,99.34 198.06,98.79 199.43,98.24 200.79,97.69 202.16,97.14 203.53,96.59 204.9,96.04 206.27,95.49 207.64,94.93 209.01,94.38 210.38,93.83 211.75,93.28 213.11,92.73 214.48,92.18 215.85,91.63 217.22,91.08 218.59,90.53 219.96,89.97 221.33,89.42 222.7,88.87 224.07,88.32" fill="none" stroke="#3318e6" stroke-width="1.95" stroke-linejoin="round"/>
<polyline points="102.52,139.93 103.89,139.38 105.25,138.83 106.62,138.28 107.99,137.73 109.36,137.17 110.73,136.62 112.1,136.07 113.47,135.52 114.84,134.97 116.21,134.42 117.57,133.87 118.94,133.32 120.31,132.77 121.68,132.21 123.05,131.66 124.42,131.11 125.79,130.56 127.16,130.01 128.53,129.46 129.89,128.9 131.26,128.34 132.63,127.78 134,127.2 135.37,126.6 136.74,125.96 138.11,125.26 139.48,124.46 140.85,123.52 142.21,122.38 143.58,120.98 144.95,119.27 146.32,117.2 147.69,114.75 149.06,111.98 150.43,108.95 151.8,105.83 153.17,102.8 154.53,100.09 155.9,97.91 157.27,96.44 158.64,95.82 160.01,96.37 161.38,98.02 162.75,100.38 164.12,103.03 165.49,105.58 166.85,107.72 168.22,109.32 169.59,110.35 170.96,110.87 172.33,111 173.7,110.84 175.07,110.51 176.44,110.07 177.81,109.58 179.17,109.05 180.54,108.51 181.91,107.96 183.28,107.41 184.65,106.86 186.02,106.31 187.39,105.76 188.76,105.21 190.13,104.66 191.49,104.11 192.86,103.56 194.23,103.01 195.6,102.45 196.97,101.9 198.34,101.35 199.71,100.8 201.08,100.25 202.45,99.7 203.81,99.15 205.18,98.6 206.55,98.05 207.92,97.49 209.29,96.94 210.66,96.39 212.03,95.84 213.4,95.29 214.77,94.74 216.13,94.19 217.5,93.64 218.87,93.09 220.24,92.53 221.61,91.98 222.98,91.43 224.35,90.88 225.72,90.33" fill="none" stroke="#3318e6" stroke-width="1.95" stroke-linejoin="round"/>
<polyline points="104.17,141.94 105.54,141.39 106.91,140.84 108.27,140.29 109.64,139.74 111.01,139.18 112.38,138.63 113.75,138.08 115.12,137.53 116.49,136.98 117.86,136.43 119.23,135.88 120.59,135.33 121.96,134.78 123.33,134.22 124.7,133.67 126.07,133.12 127.44,132.57 128.81,132.02 130.18,131.47 131.55,130.92 132.91,130.37 134.28,129.81 135.65,129.26 137.02,128.71 138.39,128.15 139.76,127.59 141.13,127.01 142.5,126.41 143.87,125.77 145.23,125.07 146.6,124.27 147.97,123.32 149.34,122.17 150.71,120.75 152.08,119 153.45,116.85 154.82,114.28 156.19,111.31 157.55,108.01 158.92,104.53 160.29,101.06 161.66,97.83 163.03,95.11 164.4,93.11 165.77,91.98 167.14,92 168.51,93.37 169.87,95.8 171.24,98.81 172.61,101.93 173.98,104.77 175.35,107.06 176.72,108.7 178.09,109.72 179.46,110.22 180.83,110.31 182.19,110.13 183.56,109.79 184.93,109.34 186.3,108.84 187.67,108.31 189.04,107.77 190.41,107.22 191.78,106.67 193.15,106.12 194.51,105.57 195.88,105.02 197.25,104.46 198.62,103.91 199.99,103.36 201.36,102.81 202.73,102.26 204.1,101.71 205.47,101.16 206.83,100.61 208.2,100.06 209.57,99.5 210.94,98.95 212.31,98.4 213.68,97.85 215.05,97.3 216.42,96.75 217.79,96.2 219.15,95.65 220.52,95.1 221.89,94.54 223.26,93.99 224.63,93.44 226,92.89 227.37,92.34" fill="none" stroke="#3318e6" stroke-width="1.95" stroke-linejoin="round"/>
<polyline points="105.82,143.95 107.19,143.4 108.56,142.85 109.93,142.3 111.29,141.74 112.66,141.19 114.03,140.64 115.4,140.09 116.77,139.54 118.14,138.99 119.51,138.44 120.88,137.89 122.25,137.34 123.61,136.78 124.98,136.23 126.35,135.68 127.72,135.13 129.09,134.58 130.46,134.03 131.83,133.48 133.2,132.92 134.57,132.37 135.93,131.8 137.3,131.23 138.67,130.64 140.04,130.02 141.41,129.34 142.78,128.58 144.15,127.69 145.52,126.63 146.89,125.32 148.25,123.71 149.62,121.73 150.99,119.35 152.36,116.55 153.73,113.39 155.1,109.97 156.47,106.45 157.84,103.06 159.21,100.04 160.57,97.62 161.94,95.99 163.31,95.29 164.68,95.9 166.05,97.76 167.42,100.47 168.79,103.59 170.16,106.66 171.53,109.33 172.89,111.42 174.26,112.86 175.63,113.71 177,114.08 178.37,114.09 179.74,113.86 181.11,113.48 182.48,113.01 183.85,112.5 185.21,111.97 186.58,111.43 187.95,110.88 189.32,110.33 190.69,109.78 192.06,109.23 193.43,108.68 194.8,108.13 196.17,107.58 197.53,107.02 198.9,106.47 200.27,105.92 201.64,105.37 203.01,104.82 204.38,104.27 205.75,103.72 207.12,103.17 208.49,102.62 209.85,102.06 211.22,101.51 212.59,100.96 213.96,100.41 215.33,99.86 216.7,99.31 218.07,98.76 219.44,98.21 220.81,97.66 222.17,97.1 223.54,96.55 224.91,96 226.28,95.45 227.65,94.9 229.02,94.35" fill="none" stroke="#3318e6" stroke-width="1.95" stroke-linejoin="round"/>
<polyline points="107.47,145.96 108.84,145.41 110.21,144.86 111.58,144.3 112.95,143.75 114.31,143.2 115.68,142.65 117.05,142.1 118.42,141.55 119.79,141 121.16,140.45 122.53,139.9 123.9,139.34 125.27,138.79 126.63,138.24 128,137.69 129.37,137.14 130.74,136.59 132.11,136.04 133.48,135.49 134.85,134.93 136.22,134.38 137.59,133.83 138.95,133.27 140.32,132.7 141.69,132.12 143.06,131.52 144.43,130.87 145.8,130.17 147.17,129.37 148.54,128.43 149.91,127.29 151.27,125.91 152.64,124.22 154.01,122.18 155.38,119.76 156.75,116.97 158.12,113.89 159.49,110.63 160.86,107.37 162.23,104.3 163.59,101.65 164.96,99.62 166.33,98.36 167.7,98.04 169.07,98.96 170.44,100.91 171.81,103.53 173.18,106.39 174.55,109.11 175.91,111.42 177.28,113.16 178.65,114.32 180.02,114.96 181.39,115.18 182.76,115.1 184.13,114.82 185.5,114.41 186.87,113.93 188.23,113.42 189.6,112.88 190.97,112.34 192.34,111.79 193.71,111.24 195.08,110.69 196.45,110.14 197.82,109.58 199.19,109.03 200.55,108.48 201.92,107.93 203.29,107.38 204.66,106.83 206.03,106.28 207.4,105.73 208.77,105.18 210.14,104.62 211.51,104.07 212.87,103.52 214.24,102.97 215.61,102.42 216.98,101.87 218.35,101.32 219.72,100.77 221.09,100.22 222.46,99.66 223.83,99.11 225.19,98.56 226.56,98.01 227.93,97.46 229.3,96.91 230.67,96.36" fill="none" stroke="#3318e6" stroke-width="1.95" stroke-linejoin="round"/>
<polyline points="109.12,147.97 110.49,147.42 111.86,146.87 113.23,146.31 114.6,145.76 115.97,145.21 117.33,144.66 118.7,144.11 120.07,143.56 121.44,143.01 122.81,142.46 124.18,141.91 125.55,141.35 126.92,140.8 128.29,140.25 129.65,139.7 131.02,139.15 132.39,138.6 133.76,138.05 135.13,137.49 136.5,136.94 137.87,136.38 139.24,135.82 140.61,135.24 141.97,134.64 143.34,134.01 144.71,133.32 146.08,132.54 147.45,131.63 148.82,130.55 150.19,129.22 151.56,127.61 152.93,125.64 154.29,123.29 155.66,120.55 157.03,117.48 158.4,114.16 159.77,110.76 161.14,107.46 162.51,104.5 163.88,102.07 165.25,100.37 166.61,99.51 167.98,99.83 169.35,101.36 170.72,103.79 172.09,106.72 173.46,109.7 174.83,112.41 176.2,114.61 177.57,116.22 178.93,117.23 180.3,117.75 181.67,117.88 183.04,117.74 184.41,117.42 185.78,116.99 187.15,116.5 188.52,115.98 189.89,115.44 191.25,114.9 192.62,114.35 193.99,113.8 195.36,113.25 196.73,112.7 198.1,112.15 199.47,111.59 200.84,111.04 202.21,110.49 203.57,109.94 204.94,109.39 206.31,108.84 207.68,108.29 209.05,107.74 210.42,107.19 211.79,106.63 213.16,106.08 214.53,105.53 215.89,104.98 217.26,104.43 218.63,103.88 220,103.33 221.37,102.78 222.74,102.23 224.11,101.67 225.48,101.12 226.85,100.57 228.21,100.02 229.58,99.47 230.95,98.92 232.32,98.37" fill="none" stroke="#3318e6" stroke-width="1.95" stroke-linejoin="round"/>
<polyline points="110.77,149.98 112.14,149.43 113.51,148.87 114.88,148.32 116.25,147.77 117.62,147.22 118.99,146.67 120.35,146.12 121.72,145.57 123.09,145.02 124.46,144.47 125.83,143.91 127.2,143.36 128.57,142.81 129.94,142.26 131.31,141.71 132.67,141.16 134.04,140.61 135.41,140.06 136.78,139.51 138.15,138.95 139.52,138.4 140.89,137.85 142.26,137.29 143.63,136.73 144.99,136.16 146.36,135.58 147.73,134.98 149.1,134.33 150.47,133.62 151.84,132.81 153.21,131.87 154.58,130.74 155.95,129.37 157.31,127.69 158.68,125.66 160.05,123.26 161.42,120.48 162.79,117.39 164.16,114.08 165.53,110.71 166.9,107.47 168.27,104.58 169.63,102.24 171,100.61 172.37,99.82 173.74,100.19 175.11,101.75 176.48,104.16 177.85,107.05 179.22,110 180.59,112.68 181.95,114.87 183.32,116.47 184.69,117.5 186.06,118.04 187.43,118.19 188.8,118.06 190.17,117.76 191.54,117.34 192.91,116.85 194.27,116.33 195.64,115.8 197.01,115.25 198.38,114.7 199.75,114.15 201.12,113.6 202.49,113.05 203.86,112.5 205.23,111.95 206.59,111.4 207.96,110.85 209.33,110.3 210.7,109.75 212.07,109.19 213.44,108.64 214.81,108.09 216.18,107.54 217.55,106.99 218.91,106.44 220.28,105.89 221.65,105.34 223.02,104.79 224.39,104.23 225.76,103.68 227.13,103.13 228.5,102.58 229.87,102.03 231.23,101.48 232.6,100.93 233.97,100.38" fill="none" stroke="#3318e6" stroke-width="1.95" stroke-linejoin="round"/>
<polyline points="112.42,151.99 113.79,151.43 115.16,150.88 116.53,150.33 117.9,149.78 119.27,149.23 120.64,148.68 122.01,148.13 123.37,147.58 124.74,147.03 126.11,146.47 127.48,145.92 128.85,145.37 130.22,144.82 131.59,144.27 132.96,143.72 134.33,143.17 135.69,142.62 137.06,142.07 138.43,141.51 139.8,140.96 141.17,140.41 142.54,139.86 143.91,139.31 145.28,138.75 146.65,138.19 148.01,137.63 149.38,137.06 150.75,136.46 152.12,135.84 153.49,135.16 154.86,134.42 156.23,133.56 157.6,132.57 158.97,131.37 160.33,129.94 161.7,128.23 163.07,126.21 164.44,123.87 165.81,121.26 167.18,118.43 168.55,115.5 169.92,112.62 171.29,109.97 172.65,107.72 174.02,106.01 175.39,104.96 176.76,104.75 178.13,105.57 179.5,107.24 180.87,109.45 182.24,111.86 183.61,114.17 184.97,116.15 186.34,117.67 187.71,118.7 189.08,119.28 190.45,119.49 191.82,119.41 193.19,119.15 194.56,118.76 195.93,118.29 197.29,117.78 198.66,117.25 200.03,116.71 201.4,116.16 202.77,115.61 204.14,115.06 205.51,114.51 206.88,113.96 208.25,113.41 209.61,112.86 210.98,112.31 212.35,111.75 213.72,111.2 215.09,110.65 216.46,110.1 217.83,109.55 219.2,109 220.57,108.45 221.93,107.9 223.3,107.35 224.67,106.79 226.04,106.24 227.41,105.69 228.78,105.14 230.15,104.59 231.52,104.04 232.89,103.49 234.25,102.94 235.62,102.39" fill="none" stroke="#3318e6" stroke-width="1.95" stroke-linejoin="round"/>
<polyline points="114.07,154 115.44,153.44 116.81,152.89 118.18,152.34 119.55,151.79 120.92,151.24 122.29,150.69 123.66,150.14 125.03,149.59 126.39,149.04 127.76,148.48 129.13,147.93 130.5,147.38 131.87,146.83 133.24,146.28 134.61,145.73 135.98,145.18 137.35,144.63 138.71,144.07 140.08,143.52 141.45,142.97 142.82,142.42 144.19,141.86 145.56,141.3 146.93,140.73 148.3,140.14 149.67,139.52 151.03,138.87 152.4,138.15 153.77,137.34 155.14,136.4 156.51,135.29 157.88,133.97 159.25,132.4 160.62,130.54 161.99,128.39 163.35,125.95 164.72,123.29 166.09,120.5 167.46,117.7 168.83,115.05 170.2,112.71 171.57,110.83 172.94,109.53 174.31,108.91 175.67,109.23 177.04,110.45 178.41,112.32 179.78,114.54 181.15,116.79 182.52,118.83 183.89,120.49 185.26,121.69 186.63,122.45 187.99,122.81 189.36,122.85 190.73,122.67 192.1,122.34 193.47,121.91 194.84,121.42 196.21,120.9 197.58,120.37 198.95,119.82 200.31,119.27 201.68,118.72 203.05,118.17 204.42,117.62 205.79,117.07 207.16,116.52 208.53,115.97 209.9,115.42 211.27,114.87 212.63,114.32 214,113.76 215.37,113.21 216.74,112.66 218.11,112.11 219.48,111.56 220.85,111.01 222.22,110.46 223.59,109.91 224.95,109.36 226.32,108.8 227.69,108.25 229.06,107.7 230.43,107.15 231.8,106.6 233.17,106.05 234.54,105.5 235.91,104.95 237.27,104.4" fill="none" stroke="#3318e6" stroke-width="1.95" stroke-linejoin="round"/>
<polyline points="115.73,156 117.09,155.45 118.46,154.9 119.83,154.35 121.2,153.8 122.57,153.25 123.94,152.7 125.31,152.15 126.68,151.6 128.05,151.04 129.41,150.49 130.78,149.94 132.15,149.39 133.52,148.84 134.89,148.29 136.26,147.74 137.63,147.19 139,146.64 140.37,146.08 141.73,145.53 143.1,144.98 144.47,144.42 145.84,143.86 147.21,143.28 148.58,142.7 149.95,142.08 151.32,141.43 152.69,140.71 154.05,139.91 155.42,138.98 156.79,137.89 158.16,136.6 159.53,135.07 160.9,133.27 162.27,131.19 163.64,128.85 165.01,126.28 166.37,123.59 167.74,120.88 169.11,118.3 170.48,115.99 171.85,114.11 173.22,112.76 174.59,112.03 175.96,112.17 177.33,113.18 178.69,114.86 180.06,116.92 181.43,119.07 182.8,121.06 184.17,122.72 185.54,123.97 186.91,124.77 188.28,125.19 189.65,125.29 191.01,125.16 192.38,124.85 193.75,124.44 195.12,123.97 196.49,123.46 197.86,122.92 199.23,122.38 200.6,121.83 201.97,121.28 203.33,120.73 204.7,120.18 206.07,119.63 207.44,119.08 208.81,118.53 210.18,117.98 211.55,117.43 212.92,116.88 214.29,116.32 215.65,115.77 217.02,115.22 218.39,114.67 219.76,114.12 221.13,113.57 222.5,113.02 223.87,112.47 225.24,111.92 226.61,111.36 227.97,110.81 229.34,110.26 230.71,109.71 232.08,109.16 233.45,108.61 234.82,108.06 236.19,107.51 237.56,106.96 238.93,106.4" fill="none" stroke="#3318e6" stroke-width="1.95" stroke-linejoin="round"/>
<polyline points="117.38,158.01 118.75,157.46 120.11,156.91 121.48,156.36 122.85,155.81 124.22,155.26 125.59,154.71 126.96,154.16 128.33,153.61 129.7,153.05 131.07,152.5 132.43,151.95 133.8,151.4 135.17,150.85 136.54,150.3 137.91,149.75 139.28,149.2 140.65,148.64 142.02,148.09 143.39,147.54 144.75,146.99 146.12,146.43 147.49,145.87 148.86,145.31 150.23,144.73 151.6,144.14 152.97,143.51 154.34,142.84 155.71,142.1 157.07,141.26 158.44,140.28 159.81,139.12 161.18,137.74 162.55,136.09 163.92,134.14 165.29,131.88 166.66,129.32 168.03,126.52 169.39,123.56 170.76,120.58 172.13,117.72 173.5,115.15 174.87,113.03 176.24,111.5 177.61,110.64 178.98,110.68 180.35,111.73 181.71,113.57 183.08,115.9 184.45,118.39 185.82,120.77 187.19,122.81 188.56,124.4 189.93,125.5 191.3,126.16 192.67,126.43 194.03,126.42 195.4,126.2 196.77,125.84 198.14,125.39 199.51,124.9 200.88,124.37 202.25,123.84 203.62,123.29 204.99,122.74 206.35,122.19 207.72,121.64 209.09,121.09 210.46,120.54 211.83,119.99 213.2,119.44 214.57,118.89 215.94,118.33 217.31,117.78 218.67,117.23 220.04,116.68 221.41,116.13 222.78,115.58 224.15,115.03 225.52,114.48 226.89,113.93 228.26,113.37 229.63,112.82 230.99,112.27 232.36,111.72 233.73,111.17 235.1,110.62 236.47,110.07 237.84,109.52 239.21,108.97 240.58,108.41" fill="none" stroke="#3318e6" stroke-width="1.95" stroke-linejoin="round"/>
<polyline points="119.03,160.02 120.4,159.47 121.77,158.92 123.13,158.37 124.5,157.82 125.87,157.27 127.24,156.72 128.61,156.17 129.98,155.61 131.35,155.06 132.72,154.51 134.09,153.96 135.45,153.41 136.82,152.86 138.19,152.31 139.56,151.76 140.93,151.2 142.3,150.65 143.67,150.1 145.04,149.55 146.41,148.99 147.77,148.43 149.14,147.86 150.51,147.27 151.88,146.66 153.25,146.01 154.62,145.31 155.99,144.52 157.36,143.62 158.73,142.56 160.09,141.3 161.46,139.8 162.83,138.02 164.2,135.94 165.57,133.55 166.94,130.89 168.31,128.01 169.68,125.02 171.05,122.06 172.41,119.28 173.78,116.84 175.15,114.9 176.52,113.56 177.89,112.93 179.26,113.28 180.63,114.57 182,116.57 183.37,118.97 184.73,121.47 186.1,123.79 187.47,125.75 188.84,127.24 190.21,128.26 191.58,128.85 192.95,129.07 194.32,129.02 195.69,128.78 197.05,128.41 198.42,127.96 199.79,127.46 201.16,126.93 202.53,126.4 203.9,125.85 205.27,125.3 206.64,124.75 208.01,124.2 209.37,123.65 210.74,123.1 212.11,122.55 213.48,122 214.85,121.45 216.22,120.89 217.59,120.34 218.96,119.79 220.33,119.24 221.69,118.69 223.06,118.14 224.43,117.59 225.8,117.04 227.17,116.49 228.54,115.93 229.91,115.38 231.28,114.83 232.65,114.28 234.01,113.73 235.38,113.18 236.75,112.63 238.12,112.08 239.49,111.53 240.86,110.97 242.23,110.42" fill="none" stroke="#3318e6" stroke-width="1.95" stroke-linejoin="round"/>
<polyline points="120.68,162.03 122.05,161.48 123.42,160.93 124.79,160.38 126.15,159.83 127.52,159.28 128.89,158.73 130.26,158.17 131.63,157.62 133,157.07 134.37,156.52 135.74,155.97 137.11,155.42 138.47,154.87 139.84,154.32 141.21,153.77 142.58,153.21 143.95,152.66 145.32,152.11 146.69,151.56 148.06,151.01 149.43,150.45 150.79,149.9 152.16,149.33 153.53,148.76 154.9,148.18 156.27,147.57 157.64,146.93 159.01,146.23 160.38,145.46 161.75,144.59 163.11,143.57 164.48,142.37 165.85,140.96 167.22,139.29 168.59,137.36 169.96,135.15 171.33,132.7 172.7,130.05 174.07,127.31 175.43,124.58 176.8,122 178.17,119.72 179.54,117.86 180.91,116.54 182.28,115.83 183.65,115.97 185.02,116.97 186.39,118.64 187.75,120.72 189.12,122.92 190.49,125 191.86,126.79 193.23,128.18 194.6,129.14 195.97,129.7 197.34,129.93 198.71,129.89 200.07,129.66 201.44,129.3 202.81,128.85 204.18,128.36 205.55,127.84 206.92,127.3 208.29,126.76 209.66,126.21 211.03,125.66 212.39,125.11 213.76,124.56 215.13,124.01 216.5,123.45 217.87,122.9 219.24,122.35 220.61,121.8 221.98,121.25 223.35,120.7 224.71,120.15 226.08,119.6 227.45,119.05 228.82,118.49 230.19,117.94 231.56,117.39 232.93,116.84 234.3,116.29 235.67,115.74 237.03,115.19 238.4,114.64 239.77,114.09 241.14,113.53 242.51,112.98 243.88,112.43" fill="none" stroke="#3318e6" stroke-width="1.95" stroke-linejoin="round"/>
<polyline points="122.33,164.04 123.7,163.49 125.07,162.94 126.44,162.39 127.81,161.84 129.17,161.29 130.54,160.74 131.91,160.18 133.28,159.63 134.65,159.08 136.02,158.53 137.39,157.98 138.76,157.43 140.13,156.88 141.49,156.33 142.86,155.78 144.23,155.22 145.6,154.67 146.97,154.12 148.34,153.57 149.71,153.02 151.08,152.47 152.45,151.92 153.81,151.36 155.18,150.81 156.55,150.25 157.92,149.68 159.29,149.11 160.66,148.52 162.03,147.9 163.4,147.24 164.77,146.52 166.13,145.71 167.5,144.79 168.87,143.71 170.24,142.45 171.61,140.95 172.98,139.2 174.35,137.16 175.72,134.86 177.09,132.31 178.45,129.58 179.82,126.77 181.19,124 182.56,121.4 183.93,119.12 185.3,117.29 186.67,116.01 188.04,115.37 189.41,115.6 190.77,116.7 192.14,118.46 193.51,120.61 194.88,122.89 196.25,125.04 197.62,126.88 198.99,128.33 200.36,129.34 201.73,129.94 203.09,130.2 204.46,130.19 205.83,129.98 207.2,129.63 208.57,129.2 209.94,128.71 211.31,128.19 212.68,127.65 214.05,127.11 215.41,126.56 216.78,126.01 218.15,125.46 219.52,124.91 220.89,124.36 222.26,123.81 223.63,123.26 225,122.71 226.37,122.16 227.73,121.61 229.1,121.06 230.47,120.5 231.84,119.95 233.21,119.4 234.58,118.85 235.95,118.3 237.32,117.75 238.69,117.2 240.05,116.65 241.42,116.1 242.79,115.54 244.16,114.99 245.53,114.44" fill="none" stroke="#3318e6" stroke-width="1.95" stroke-linejoin="round"/>
<polyline points="123.98,166.05 125.35,165.5 126.72,164.95 128.09,164.4 129.46,163.85 130.83,163.3 132.19,162.74 133.56,162.19 134.93,161.64 136.3,161.09 137.67,160.54 139.04,159.99 140.41,159.44 141.78,158.89 143.15,158.34 144.51,157.78 145.88,157.23 147.25,156.68 148.62,156.13 149.99,155.58 151.36,155.03 152.73,154.47 154.1,153.91 155.47,153.35 156.83,152.78 158.2,152.2 159.57,151.59 160.94,150.95 162.31,150.26 163.68,149.49 165.05,148.62 166.42,147.63 167.79,146.46 169.15,145.08 170.52,143.46 171.89,141.58 173.26,139.43 174.63,137.02 176,134.4 177.37,131.66 178.74,128.88 180.11,126.2 181.47,123.76 182.84,121.68 184.21,120.09 185.58,119.07 186.95,118.74 188.32,119.31 189.69,120.65 191.06,122.55 192.43,124.73 193.79,126.95 195.16,128.98 196.53,130.67 197.9,131.96 199.27,132.82 200.64,133.31 202.01,133.48 203.38,133.4 204.75,133.15 206.11,132.77 207.48,132.32 208.85,131.83 210.22,131.31 211.59,130.77 212.96,130.22 214.33,129.68 215.7,129.13 217.07,128.58 218.43,128.02 219.8,127.47 221.17,126.92 222.54,126.37 223.91,125.82 225.28,125.27 226.65,124.72 228.02,124.17 229.39,123.62 230.75,123.06 232.12,122.51 233.49,121.96 234.86,121.41 236.23,120.86 237.6,120.31 238.97,119.76 240.34,119.21 241.71,118.66 243.07,118.1 244.44,117.55 245.81,117 247.18,116.45" fill="none" stroke="#3318e6" stroke-width="1.95" stroke-linejoin="round"/>
<polyline points="125.63,168.06 127,167.51 128.37,166.96 129.74,166.41 131.11,165.86 132.48,165.3 133.85,164.75 135.21,164.2 136.58,163.65 137.95,163.1 139.32,162.55 140.69,162 142.06,161.45 143.43,160.9 144.8,160.34 146.17,159.79 147.53,159.24 148.9,158.69 150.27,158.14 151.64,157.59 153.01,157.04 154.38,156.49 155.75,155.93 157.12,155.38 158.49,154.82 159.85,154.26 161.22,153.7 162.59,153.12 163.96,152.52 165.33,151.9 166.7,151.23 168.07,150.51 169.44,149.7 170.81,148.78 172.17,147.72 173.54,146.49 174.91,145.05 176.28,143.39 177.65,141.49 179.02,139.36 180.39,137.04 181.76,134.57 183.13,132.05 184.49,129.57 185.86,127.25 187.23,125.22 188.6,123.57 189.97,122.4 191.34,121.75 192.71,121.86 194.08,122.71 195.45,124.14 196.81,125.92 198.18,127.83 199.55,129.66 200.92,131.26 202.29,132.52 203.66,133.41 205.03,133.95 206.4,134.18 207.77,134.16 209.13,133.96 210.5,133.62 211.87,133.19 213.24,132.71 214.61,132.2 215.98,131.67 217.35,131.13 218.72,130.58 220.09,130.03 221.45,129.48 222.82,128.93 224.19,128.38 225.56,127.83 226.93,127.28 228.3,126.73 229.67,126.18 231.04,125.62 232.41,125.07 233.77,124.52 235.14,123.97 236.51,123.42 237.88,122.87 239.25,122.32 240.62,121.77 241.99,121.22 243.36,120.66 244.73,120.11 246.09,119.56 247.46,119.01 248.83,118.46" fill="none" stroke="#3318e6" stroke-width="1.95" stroke-linejoin="round"/>
<polyline points="127.28,170.07 128.65,169.52 130.02,168.97 131.39,168.42 132.76,167.87 134.13,167.31 135.5,166.76 136.87,166.21 138.23,165.66 139.6,165.11 140.97,164.56 142.34,164.01 143.71,163.46 145.08,162.91 146.45,162.35 147.82,161.8 149.19,161.25 150.55,160.7 151.92,160.15 153.29,159.6 154.66,159.05 156.03,158.5 157.4,157.94 158.77,157.39 160.14,156.84 161.51,156.28 162.87,155.73 164.24,155.16 165.61,154.59 166.98,154.01 168.35,153.4 169.72,152.76 171.09,152.08 172.46,151.32 173.83,150.48 175.19,149.52 176.56,148.41 177.93,147.12 179.3,145.63 180.67,143.91 182.04,141.96 183.41,139.81 184.78,137.47 186.15,135.02 187.51,132.55 188.88,130.15 190.25,127.94 191.62,126.03 192.99,124.51 194.36,123.47 195.73,122.98 197.1,123.23 198.47,124.18 199.83,125.64 201.2,127.4 202.57,129.26 203.94,131.01 205.31,132.51 206.68,133.68 208.05,134.5 209.42,134.98 210.79,135.16 212.15,135.11 213.52,134.89 214.89,134.54 216.26,134.11 217.63,133.62 219,133.11 220.37,132.58 221.74,132.04 223.11,131.49 224.47,130.94 225.84,130.39 227.21,129.84 228.58,129.29 229.95,128.74 231.32,128.19 232.69,127.63 234.06,127.08 235.43,126.53 236.79,125.98 238.16,125.43 239.53,124.88 240.9,124.33 242.27,123.78 243.64,123.23 245.01,122.67 246.38,122.12 247.75,121.57 249.11,121.02 250.48,120.47" fill="none" stroke="#3318e6" stroke-width="1.95" stroke-linejoin="round"/>
<polyline points="128.93,172.08 130.3,171.53 131.67,170.98 133.04,170.43 134.41,169.87 135.78,169.32 137.15,168.77 138.52,168.22 139.89,167.67 141.25,167.12 142.62,166.57 143.99,166.02 145.36,165.47 146.73,164.91 148.1,164.36 149.47,163.81 150.84,163.26 152.21,162.71 153.57,162.16 154.94,161.61 156.31,161.06 157.68,160.5 159.05,159.95 160.42,159.4 161.79,158.84 163.16,158.28 164.53,157.72 165.89,157.14 167.26,156.54 168.63,155.92 170,155.26 171.37,154.54 172.74,153.73 174.11,152.82 175.48,151.76 176.85,150.53 178.21,149.08 179.58,147.38 180.95,145.41 182.32,143.18 183.69,140.69 185.06,138 186.43,135.16 187.8,132.3 189.17,129.52 190.53,126.96 191.9,124.74 193.27,123 194.64,121.8 196.01,121.24 197.38,121.56 198.75,122.72 200.12,124.52 201.49,126.73 202.85,129.07 204.22,131.32 205.59,133.3 206.96,134.9 208.33,136.08 209.7,136.85 211.07,137.26 212.44,137.38 213.81,137.26 215.17,136.99 216.54,136.6 217.91,136.15 219.28,135.65 220.65,135.13 222.02,134.59 223.39,134.05 224.76,133.5 226.13,132.95 227.49,132.4 228.86,131.85 230.23,131.3 231.6,130.75 232.97,130.19 234.34,129.64 235.71,129.09 237.08,128.54 238.45,127.99 239.81,127.44 241.18,126.89 242.55,126.34 243.92,125.79 245.29,125.23 246.66,124.68 248.03,124.13 249.4,123.58 250.77,123.03 252.13,122.48" fill="none" stroke="#3318e6" stroke-width="1.95" stroke-linejoin="round"/>
<polyline points="130.59,174.09 131.95,173.54 133.32,172.99 134.69,172.44 136.06,171.88 137.43,171.33 138.8,170.78 140.17,170.23 141.54,169.68 142.91,169.13 144.27,168.58 145.64,168.03 147.01,167.48 148.38,166.92 149.75,166.37 151.12,165.82 152.49,165.27 153.86,164.72 155.23,164.17 156.59,163.61 157.96,163.06 159.33,162.5 160.7,161.93 162.07,161.36 163.44,160.76 164.81,160.15 166.18,159.49 167.55,158.79 168.91,158.01 170.28,157.12 171.65,156.11 173.02,154.93 174.39,153.55 175.76,151.93 177.13,150.07 178.5,147.94 179.87,145.57 181.23,142.98 182.6,140.24 183.97,137.43 185.34,134.67 186.71,132.08 188.08,129.79 189.45,127.91 190.82,126.54 192.19,125.74 193.55,125.71 194.92,126.53 196.29,128.05 197.66,130.05 199.03,132.29 200.4,134.52 201.77,136.57 203.14,138.29 204.51,139.61 205.87,140.53 207.24,141.08 208.61,141.31 209.98,141.29 211.35,141.08 212.72,140.74 214.09,140.32 215.46,139.84 216.83,139.33 218.19,138.8 219.56,138.26 220.93,137.71 222.3,137.16 223.67,136.61 225.04,136.06 226.41,135.51 227.78,134.96 229.15,134.41 230.51,133.86 231.88,133.31 233.25,132.76 234.62,132.2 235.99,131.65 237.36,131.1 238.73,130.55 240.1,130 241.47,129.45 242.83,128.9 244.2,128.35 245.57,127.8 246.94,127.24 248.31,126.69 249.68,126.14 251.05,125.59 252.42,125.04 253.79,124.49" fill="none" stroke="#3318e6" stroke-width="1.95" stroke-linejoin="round"/>
<polyline points="132.24,176.1 133.61,175.55 134.97,175 136.34,174.44 137.71,173.89 139.08,173.34 140.45,172.79 141.82,172.24 143.19,171.69 144.56,171.14 145.93,170.59 147.29,170.04 148.66,169.48 150.03,168.93 151.4,168.38 152.77,167.83 154.14,167.28 155.51,166.73 156.88,166.18 158.25,165.63 159.61,165.07 160.98,164.52 162.35,163.96 163.72,163.4 165.09,162.84 166.46,162.26 167.83,161.67 169.2,161.06 170.57,160.41 171.93,159.71 173.3,158.94 174.67,158.08 176.04,157.1 177.41,155.96 178.78,154.64 180.15,153.1 181.52,151.33 182.89,149.32 184.25,147.07 185.62,144.62 186.99,142.02 188.36,139.35 189.73,136.72 191.1,134.22 192.47,131.98 193.84,130.12 195.21,128.71 196.57,127.82 197.94,127.59 199.31,128.17 200.68,129.43 202.05,131.19 203.42,133.23 204.79,135.32 206.16,137.27 207.53,138.95 208.89,140.27 210.26,141.21 211.63,141.8 213,142.07 214.37,142.09 215.74,141.91 217.11,141.6 218.48,141.2 219.85,140.73 221.21,140.23 222.58,139.7 223.95,139.16 225.32,138.62 226.69,138.07 228.06,137.52 229.43,136.97 230.8,136.42 232.17,135.87 233.53,135.32 234.9,134.76 236.27,134.21 237.64,133.66 239.01,133.11 240.38,132.56 241.75,132.01 243.12,131.46 244.49,130.91 245.85,130.36 247.22,129.8 248.59,129.25 249.96,128.7 251.33,128.15 252.7,127.6 254.07,127.05 255.44,126.5" fill="none" stroke="#3318e6" stroke-width="1.95" stroke-linejoin="round"/>
<polyline points="133.89,178.11 135.26,177.56 136.63,177 138,176.45 139.36,175.9 140.73,175.35 142.1,174.8 143.47,174.25 144.84,173.7 146.21,173.15 147.58,172.6 148.95,172.04 150.32,171.49 151.68,170.94 153.05,170.39 154.42,169.84 155.79,169.29 157.16,168.74 158.53,168.18 159.9,167.63 161.27,167.08 162.64,166.52 164,165.96 165.37,165.39 166.74,164.8 168.11,164.2 169.48,163.57 170.85,162.9 172.22,162.18 173.59,161.37 174.96,160.47 176.32,159.45 177.69,158.27 179.06,156.91 180.43,155.36 181.8,153.6 183.17,151.64 184.54,149.49 185.91,147.21 187.28,144.84 188.64,142.47 190.01,140.19 191.38,138.1 192.75,136.29 194.12,134.85 195.49,133.83 196.86,133.31 198.23,133.46 199.6,134.25 200.96,135.54 202.33,137.15 203.7,138.87 205.07,140.55 206.44,142.05 207.81,143.26 209.18,144.16 210.55,144.74 211.92,145.03 213.28,145.08 214.65,144.94 216.02,144.65 217.39,144.27 218.76,143.82 220.13,143.32 221.5,142.8 222.87,142.27 224.24,141.73 225.6,141.18 226.97,140.63 228.34,140.08 229.71,139.53 231.08,138.98 232.45,138.43 233.82,137.88 235.19,137.32 236.56,136.77 237.92,136.22 239.29,135.67 240.66,135.12 242.03,134.57 243.4,134.02 244.77,133.47 246.14,132.92 247.51,132.36 248.88,131.81 250.24,131.26 251.61,130.71 252.98,130.16 254.35,129.61 255.72,129.06 257.09,128.51" fill="none" stroke="#3318e6" stroke-width="1.95" stroke-linejoin="round"/>
<polyline points="135.54,180.12 136.91,179.57 138.28,179.01 139.65,178.46 141.02,177.91 142.38,177.36 143.75,176.81 145.12,176.26 146.49,175.71 147.86,175.16 149.23,174.61 150.6,174.05 151.97,173.5 153.34,172.95 154.7,172.4 156.07,171.85 157.44,171.3 158.81,170.75 160.18,170.19 161.55,169.64 162.92,169.09 164.29,168.53 165.66,167.97 167.02,167.41 168.39,166.83 169.76,166.24 171.13,165.63 172.5,164.98 173.87,164.29 175.24,163.53 176.61,162.67 177.98,161.7 179.34,160.58 180.71,159.27 182.08,157.76 183.45,156.01 184.82,154.01 186.19,151.76 187.56,149.28 188.93,146.63 190.3,143.86 191.66,141.08 193.03,138.38 194.4,135.88 195.77,133.71 197.14,131.96 198.51,130.72 199.88,130.04 201.25,130.14 202.62,131.04 203.98,132.6 205.35,134.6 206.72,136.82 208.09,139.04 209.46,141.08 210.83,142.82 212.2,144.18 213.57,145.15 214.94,145.75 216.3,146.04 217.67,146.07 219.04,145.9 220.41,145.6 221.78,145.2 223.15,144.74 224.52,144.24 225.89,143.72 227.26,143.18 228.62,142.63 229.99,142.09 231.36,141.54 232.73,140.99 234.1,140.44 235.47,139.89 236.84,139.33 238.21,138.78 239.58,138.23 240.94,137.68 242.31,137.13 243.68,136.58 245.05,136.03 246.42,135.48 247.79,134.93 249.16,134.37 250.53,133.82 251.9,133.27 253.26,132.72 254.63,132.17 256,131.62 257.37,131.07 258.74,130.52" fill="none" stroke="#3318e6" stroke-width="1.95" stroke-linejoin="round"/>
<polyline points="137.19,182.13 138.56,181.57 139.93,181.02 141.3,180.47 142.67,179.92 144.04,179.37 145.4,178.82 146.77,178.27 148.14,177.72 149.51,177.17 150.88,176.61 152.25,176.06 153.62,175.51 154.99,174.96 156.36,174.41 157.72,173.86 159.09,173.31 160.46,172.76 161.83,172.2 163.2,171.65 164.57,171.1 165.94,170.54 167.31,169.98 168.68,169.42 170.04,168.85 171.41,168.26 172.78,167.66 174.15,167.02 175.52,166.35 176.89,165.61 178.26,164.79 179.63,163.87 181,162.81 182.36,161.6 183.73,160.19 185.1,158.56 186.47,156.71 187.84,154.62 189.21,152.31 190.58,149.82 191.95,147.21 193.32,144.54 194.68,141.92 196.05,139.46 197.42,137.26 198.79,135.42 200.16,134.03 201.53,133.13 202.9,132.87 204.27,133.4 205.64,134.59 207,136.3 208.37,138.3 209.74,140.38 211.11,142.38 212.48,144.13 213.85,145.56 215.22,146.63 216.59,147.34 217.96,147.73 219.32,147.85 220.69,147.76 222.06,147.51 223.43,147.15 224.8,146.71 226.17,146.23 227.54,145.71 228.91,145.18 230.28,144.64 231.64,144.09 233.01,143.55 234.38,143 235.75,142.45 237.12,141.89 238.49,141.34 239.86,140.79 241.23,140.24 242.6,139.69 243.96,139.14 245.33,138.59 246.7,138.04 248.07,137.49 249.44,136.93 250.81,136.38 252.18,135.83 253.55,135.28 254.92,134.73 256.28,134.18 257.65,133.63 259.02,133.08 260.39,132.53" fill="none" stroke="#3318e6" stroke-width="1.95" stroke-linejoin="round"/>
<polyline points="138.84,184.13 140.21,183.58 141.58,183.03 142.95,182.48 144.32,181.93 145.69,181.38 147.06,180.83 148.42,180.28 149.79,179.73 151.16,179.17 152.53,178.62 153.9,178.07 155.27,177.52 156.64,176.97 158.01,176.42 159.38,175.87 160.74,175.32 162.11,174.77 163.48,174.21 164.85,173.66 166.22,173.11 167.59,172.56 168.96,172.01 170.33,171.46 171.7,170.9 173.06,170.35 174.43,169.79 175.8,169.22 177.17,168.65 178.54,168.07 179.91,167.46 181.28,166.82 182.65,166.15 184.02,165.41 185.38,164.59 186.75,163.67 188.12,162.62 189.49,161.4 190.86,159.99 192.23,158.37 193.6,156.51 194.97,154.42 196.34,152.1 197.7,149.58 199.07,146.93 200.44,144.21 201.81,141.52 203.18,138.96 204.55,136.64 205.92,134.67 207.29,133.13 208.66,132.09 210.02,131.63 211.39,131.96 212.76,133.02 214.13,134.64 215.5,136.64 216.87,138.79 218.24,140.91 219.61,142.82 220.98,144.43 222.34,145.69 223.71,146.57 225.08,147.11 226.45,147.35 227.82,147.35 229.19,147.18 230.56,146.86 231.93,146.46 233.3,146 234.66,145.5 236.03,144.98 237.4,144.44 238.77,143.9 240.14,143.35 241.51,142.8 242.88,142.25 244.25,141.7 245.62,141.15 246.98,140.6 248.35,140.05 249.72,139.49 251.09,138.94 252.46,138.39 253.83,137.84 255.2,137.29 256.57,136.74 257.94,136.19 259.3,135.64 260.67,135.09 262.04,134.53" fill="none" stroke="#3318e6" stroke-width="1.95" stroke-linejoin="round"/>
<polyline points="140.49,186.14 141.86,185.59 143.23,185.04 144.6,184.49 145.97,183.94 147.34,183.39 148.71,182.84 150.08,182.29 151.44,181.74 152.81,181.18 154.18,180.63 155.55,180.08 156.92,179.53 158.29,178.98 159.66,178.43 161.03,177.88 162.4,177.33 163.76,176.77 165.13,176.22 166.5,175.67 167.87,175.12 169.24,174.57 170.61,174.01 171.98,173.45 173.35,172.89 174.72,172.32 176.08,171.74 177.45,171.14 178.82,170.51 180.19,169.85 181.56,169.13 182.93,168.35 184.3,167.47 185.67,166.49 187.04,165.36 188.4,164.07 189.77,162.6 191.14,160.93 192.51,159.06 193.88,156.99 195.25,154.76 196.62,152.4 197.99,149.98 199.36,147.58 200.72,145.29 202.09,143.19 203.46,141.37 204.83,139.92 206.2,138.88 207.57,138.32 208.94,138.41 210.31,139.15 211.68,140.39 213.04,141.99 214.41,143.75 215.78,145.52 217.15,147.14 218.52,148.52 219.89,149.6 221.26,150.37 222.63,150.83 224,151.03 225.36,151.02 226.73,150.83 228.1,150.52 229.47,150.11 230.84,149.65 232.21,149.16 233.58,148.64 234.95,148.1 236.32,147.56 237.68,147.01 239.05,146.46 240.42,145.91 241.79,145.36 243.16,144.81 244.53,144.26 245.9,143.71 247.27,143.16 248.64,142.61 250,142.06 251.37,141.5 252.74,140.95 254.11,140.4 255.48,139.85 256.85,139.3 258.22,138.75 259.59,138.2 260.96,137.65 262.32,137.1 263.69,136.54" fill="none" stroke="#3318e6" stroke-width="1.95" stroke-linejoin="round"/>
<polyline points="142.14,188.15 143.51,187.6 144.88,187.05 146.25,186.5 147.62,185.95 148.99,185.4 150.36,184.85 151.73,184.3 153.1,183.74 154.46,183.19 155.83,182.64 157.2,182.09 158.57,181.54 159.94,180.99 161.31,180.44 162.68,179.89 164.05,179.34 165.42,178.78 166.78,178.23 168.15,177.68 169.52,177.13 170.89,176.58 172.26,176.02 173.63,175.47 175,174.91 176.37,174.35 177.74,173.77 179.1,173.19 180.47,172.58 181.84,171.95 183.21,171.28 184.58,170.56 185.95,169.76 187.32,168.87 188.69,167.86 190.06,166.71 191.42,165.38 192.79,163.85 194.16,162.12 195.53,160.16 196.9,158 198.27,155.65 199.64,153.15 201.01,150.58 202.38,148 203.74,145.51 205.11,143.21 206.48,141.2 207.85,139.56 209.22,138.35 210.59,137.62 211.96,137.55 213.33,138.2 214.7,139.45 216.06,141.13 217.43,143.06 218.8,145.05 220.17,146.94 221.54,148.6 222.91,149.95 224.28,150.97 225.65,151.65 227.02,152.03 228.38,152.15 229.75,152.07 231.12,151.83 232.49,151.49 233.86,151.06 235.23,150.58 236.6,150.08 237.97,149.55 239.34,149.01 240.7,148.47 242.07,147.92 243.44,147.37 244.81,146.82 246.18,146.27 247.55,145.72 248.92,145.17 250.29,144.62 251.66,144.06 253.02,143.51 254.39,142.96 255.76,142.41 257.13,141.86 258.5,141.31 259.87,140.76 261.24,140.21 262.61,139.66 263.98,139.1 265.34,138.55" fill="none" stroke="#3318e6" stroke-width="1.95" stroke-linejoin="round"/>
<polyline points="143.8,190.16 145.16,189.61 146.53,189.06 147.9,188.51 149.27,187.96 150.64,187.41 152.01,186.86 153.38,186.31 154.75,185.75 156.12,185.2 157.48,184.65 158.85,184.1 160.22,183.55 161.59,183 162.96,182.45 164.33,181.9 165.7,181.34 167.07,180.79 168.44,180.24 169.8,179.69 171.17,179.13 172.54,178.58 173.91,178.02 175.28,177.45 176.65,176.88 178.02,176.29 179.39,175.69 180.76,175.05 182.12,174.38 183.49,173.65 184.86,172.85 186.23,171.95 187.6,170.93 188.97,169.77 190.34,168.44 191.71,166.92 193.08,165.2 194.44,163.26 195.81,161.11 197.18,158.79 198.55,156.33 199.92,153.8 201.29,151.26 202.66,148.81 204.03,146.54 205.4,144.55 206.76,142.91 208.13,141.69 209.5,140.94 210.87,140.81 212.24,141.38 213.61,142.55 214.98,144.15 216.35,146.01 217.72,147.95 219.08,149.81 220.45,151.47 221.82,152.83 223.19,153.87 224.56,154.59 225.93,155 227.3,155.16 228.67,155.1 230.04,154.89 231.4,154.56 232.77,154.15 234.14,153.68 235.51,153.18 236.88,152.66 238.25,152.12 239.62,151.58 240.99,151.03 242.36,150.48 243.72,149.93 245.09,149.38 246.46,148.83 247.83,148.28 249.2,147.73 250.57,147.18 251.94,146.63 253.31,146.07 254.68,145.52 256.04,144.97 257.41,144.42 258.78,143.87 260.15,143.32 261.52,142.77 262.89,142.22 264.26,141.67 265.63,141.11 267,140.56" fill="none" stroke="#3318e6" stroke-width="1.95" stroke-linejoin="round"/>
<polyline points="145.45,192.17 146.82,191.62 148.18,191.07 149.55,190.52 150.92,189.97 152.29,189.42 153.66,188.87 155.03,188.31 156.4,187.76 157.77,187.21 159.14,186.66 160.5,186.11 161.87,185.56 163.24,185.01 164.61,184.46 165.98,183.91 167.35,183.35 168.72,182.8 170.09,182.25 171.46,181.7 172.82,181.15 174.19,180.6 175.56,180.05 176.93,179.49 178.3,178.94 179.67,178.38 181.04,177.82 182.41,177.25 183.78,176.68 185.14,176.09 186.51,175.47 187.88,174.83 189.25,174.15 190.62,173.4 191.99,172.59 193.36,171.67 194.73,170.63 196.1,169.44 197.46,168.08 198.83,166.53 200.2,164.77 201.57,162.8 202.94,160.62 204.31,158.27 205.68,155.78 207.05,153.22 208.42,150.67 209.78,148.2 211.15,145.91 212.52,143.9 213.89,142.25 215.26,141.02 216.63,140.25 218,140.09 219.37,140.64 220.74,141.79 222.1,143.39 223.47,145.27 224.84,147.24 226.21,149.14 227.58,150.85 228.95,152.27 230.32,153.38 231.69,154.15 233.06,154.62 234.42,154.82 235.79,154.81 237.16,154.63 238.53,154.32 239.9,153.92 241.27,153.47 242.64,152.97 244.01,152.45 245.38,151.92 246.74,151.38 248.11,150.83 249.48,150.29 250.85,149.74 252.22,149.18 253.59,148.63 254.96,148.08 256.33,147.53 257.7,146.98 259.06,146.43 260.43,145.88 261.8,145.33 263.17,144.78 264.54,144.23 265.91,143.67 267.28,143.12 268.65,142.57" fill="none" stroke="#3318e6" stroke-width="1.95" stroke-linejoin="round"/>
<polyline points="147.1,194.18 148.47,193.63 149.84,193.08 151.2,192.53 152.57,191.98 153.94,191.43 155.31,190.87 156.68,190.32 158.05,189.77 159.42,189.22 160.79,188.67 162.16,188.12 163.52,187.57 164.89,187.02 166.26,186.47 167.63,185.91 169,185.36 170.37,184.81 171.74,184.26 173.11,183.71 174.48,183.15 175.84,182.59 177.21,182.03 178.58,181.47 179.95,180.89 181.32,180.3 182.69,179.68 184.06,179.04 185.43,178.35 186.8,177.61 188.16,176.79 189.53,175.88 190.9,174.84 192.27,173.66 193.64,172.3 195.01,170.76 196.38,169.01 197.75,167.05 199.12,164.88 200.48,162.54 201.85,160.05 203.22,157.49 204.59,154.91 205.96,152.42 207.33,150.09 208.7,148.02 210.07,146.29 211.44,144.97 212.8,144.1 214.17,143.8 215.54,144.2 216.91,145.23 218.28,146.75 219.65,148.59 221.02,150.56 222.39,152.51 223.76,154.29 225.12,155.82 226.49,157.03 227.86,157.92 229.23,158.49 230.6,158.78 231.97,158.84 233.34,158.71 234.71,158.45 236.08,158.08 237.44,157.65 238.81,157.17 240.18,156.66 241.55,156.13 242.92,155.59 244.29,155.05 245.66,154.5 247.03,153.95 248.4,153.4 249.76,152.85 251.13,152.3 252.5,151.75 253.87,151.19 255.24,150.64 256.61,150.09 257.98,149.54 259.35,148.99 260.72,148.44 262.08,147.89 263.45,147.34 264.82,146.79 266.19,146.23 267.56,145.68 268.93,145.13 270.3,144.58" fill="none" stroke="#3318e6" stroke-width="1.95" stroke-linejoin="round"/>
<polyline points="148.75,196.19 150.12,195.64 151.49,195.09 152.86,194.54 154.22,193.99 155.59,193.44 156.96,192.88 158.33,192.33 159.7,191.78 161.07,191.23 162.44,190.68 163.81,190.13 165.18,189.58 166.54,189.03 167.91,188.48 169.28,187.92 170.65,187.37 172.02,186.82 173.39,186.27 174.76,185.72 176.13,185.16 177.5,184.61 178.86,184.05 180.23,183.49 181.6,182.92 182.97,182.33 184.34,181.74 185.71,181.12 187.08,180.47 188.45,179.77 189.82,179.02 191.18,178.19 192.55,177.27 193.92,176.24 195.29,175.07 196.66,173.74 198.03,172.24 199.4,170.57 200.77,168.72 202.14,166.7 203.5,164.55 204.87,162.3 206.24,160.01 207.61,157.74 208.98,155.58 210.35,153.59 211.72,151.85 213.09,150.43 214.46,149.37 215.82,148.71 217.19,148.61 218.56,149.09 219.93,150.07 221.3,151.41 222.67,152.96 224.04,154.58 225.41,156.14 226.78,157.53 228.14,158.69 229.51,159.57 230.88,160.17 232.25,160.51 233.62,160.63 234.99,160.56 236.36,160.34 237.73,160.01 239.1,159.6 240.46,159.14 241.83,158.65 243.2,158.13 244.57,157.59 245.94,157.05 247.31,156.51 248.68,155.96 250.05,155.41 251.42,154.86 252.78,154.31 254.15,153.76 255.52,153.2 256.89,152.65 258.26,152.1 259.63,151.55 261,151 262.37,150.45 263.74,149.9 265.1,149.35 266.47,148.8 267.84,148.24 269.21,147.69 270.58,147.14 271.95,146.59" fill="none" stroke="#3318e6" stroke-width="1.95" stroke-linejoin="round"/>
<polyline points="150.4,198.2 151.77,197.65 153.14,197.1 154.51,196.55 155.88,196 157.24,195.44 158.61,194.89 159.98,194.34 161.35,193.79 162.72,193.24 164.09,192.69 165.46,192.14 166.83,191.59 168.2,191.04 169.56,190.48 170.93,189.93 172.3,189.38 173.67,188.83 175.04,188.28 176.41,187.73 177.78,187.18 179.15,186.62 180.52,186.07 181.88,185.52 183.25,184.96 184.62,184.4 185.99,183.83 187.36,183.26 188.73,182.67 190.1,182.07 191.47,181.44 192.84,180.77 194.2,180.05 195.57,179.27 196.94,178.4 198.31,177.42 199.68,176.32 201.05,175.06 202.42,173.63 203.79,172.02 205.16,170.2 206.52,168.18 207.89,165.98 209.26,163.62 210.63,161.16 212,158.65 213.37,156.16 214.74,153.78 216.11,151.58 217.48,149.67 218.84,148.1 220.21,146.93 221.58,146.2 222.95,146.07 224.32,146.6 225.69,147.69 227.06,149.22 228.43,151.02 229.8,152.91 231.16,154.77 232.53,156.45 233.9,157.88 235.27,159.02 236.64,159.84 238.01,160.36 239.38,160.62 240.75,160.66 242.12,160.52 243.48,160.26 244.85,159.89 246.22,159.45 247.59,158.98 248.96,158.47 250.33,157.94 251.7,157.4 253.07,156.86 254.44,156.31 255.8,155.76 257.17,155.21 258.54,154.66 259.91,154.11 261.28,153.56 262.65,153.01 264.02,152.46 265.39,151.91 266.76,151.36 268.12,150.8 269.49,150.25 270.86,149.7 272.23,149.15 273.6,148.6" fill="none" stroke="#3318e6" stroke-width="1.95" stroke-linejoin="round"/>
<line x1="79.6" y1="353.1" x2="202" y2="301.1" stroke="#333" stroke-width="1.2" stroke-dasharray="1.2 6"/>
<line x1="202" y1="301.1" x2="273.8" y2="391.5" stroke="#333" stroke-width="1.2" stroke-dasharray="1.2 6"/>
<line x1="79.6" y1="343.9" x2="202" y2="291.9" stroke="#333" stroke-width="1.2" stroke-dasharray="1.2 6"/>
<line x1="202" y1="291.9" x2="273.8" y2="382.3" stroke="#333" stroke-width="1.2" stroke-dasharray="1.2 6"/>
<line x1="79.6" y1="335.2" x2="202" y2="283.2" stroke="#333" stroke-width="1.2" stroke-dasharray="1.2 6"/>
<line x1="202" y1="283.2" x2="273.8" y2="373.6" stroke="#333" stroke-width="1.2" stroke-dasharray="1.2 6"/>
<line x1="79.6" y1="326.4" x2="202" y2="274.4" stroke="#333" stroke-width="1.2" stroke-dasharray="1.2 6"/>
<line x1="202" y1="274.4" x2="273.8" y2="364.8" stroke="#333" stroke-width="1.2" stroke-dasharray="1.2 6"/>
<line x1="79.6" y1="362.6" x2="79.6" y2="326.4" stroke="#333" stroke-width="1.2" stroke-dasharray="1.2 6"/>
<line x1="120.97" y1="345.02" x2="120.97" y2="308.82" stroke="#333" stroke-width="1.2" stroke-dasharray="1.2 6"/>
<line x1="161.85" y1="327.66" x2="161.85" y2="291.46" stroke="#333" stroke-width="1.2" stroke-dasharray="1.2 6"/>
<line x1="202" y1="310.6" x2="202" y2="274.4" stroke="#333" stroke-width="1.2" stroke-dasharray="1.2 6"/>
<line x1="262.31" y1="386.54" x2="262.31" y2="350.34" stroke="#333" stroke-width="1.2" stroke-dasharray="1.2 6"/>
<line x1="247.95" y1="368.46" x2="247.95" y2="332.26" stroke="#333" stroke-width="1.2" stroke-dasharray="1.2 6"/>
<line x1="234.6" y1="351.64" x2="234.6" y2="315.44" stroke="#333" stroke-width="1.2" stroke-dasharray="1.2 6"/>
<line x1="220.52" y1="333.92" x2="220.52" y2="297.72" stroke="#333" stroke-width="1.2" stroke-dasharray="1.2 6"/>
<line x1="205.59" y1="315.12" x2="205.59" y2="278.92" stroke="#333" stroke-width="1.2" stroke-dasharray="1.2 6"/>
<line x1="151.4" y1="453" x2="273.8" y2="401" stroke="#000" stroke-width="1.0"/>
<line x1="79.6" y1="363.6" x2="79.6" y2="326.4" stroke="#000" stroke-width="1.2"/>
<line x1="77.4" y1="353.9" x2="79.6" y2="353.1" stroke="#000" stroke-width="1"/>
<line x1="77.4" y1="344.7" x2="79.6" y2="343.9" stroke="#000" stroke-width="1"/>
<line x1="77.4" y1="336" x2="79.6" y2="335.2" stroke="#000" stroke-width="1"/>
<line x1="77.4" y1="327.2" x2="79.6" y2="326.4" stroke="#000" stroke-width="1"/>
<line x1="151.4" y1="453" x2="153.55" y2="455.71" stroke="#000" stroke-width="1.0"/>
<line x1="192.77" y1="435.42" x2="194.93" y2="438.14" stroke="#000" stroke-width="1.0"/>
<line x1="233.65" y1="418.06" x2="235.81" y2="420.77" stroke="#000" stroke-width="1.0"/>
<line x1="273.8" y1="401" x2="275.95" y2="403.71" stroke="#000" stroke-width="1.0"/>
<line x1="139.3" y1="438.8" x2="135.63" y2="440.36" stroke="#000" stroke-width="1.0"/>
<line x1="124.94" y1="420.72" x2="121.27" y2="422.28" stroke="#000" stroke-width="1.0"/>
<line x1="111.59" y1="403.9" x2="107.91" y2="405.46" stroke="#000" stroke-width="1.0"/>
<line x1="97.51" y1="386.18" x2="93.84" y2="387.74" stroke="#000" stroke-width="1.0"/>
<line x1="82.58" y1="367.38" x2="78.91" y2="368.94" stroke="#000" stroke-width="1.0"/>
<polyline points="79.6,362.6 80.96,362.02 82.32,361.44 83.68,360.86 85.04,360.27 86.4,359.68 87.76,359.08 89.12,358.48 90.48,357.85 91.84,357.21 93.2,356.53 94.56,355.81 95.92,355.03 97.28,354.17 98.64,353.21 100,352.13 101.36,350.89 102.72,349.47 104.08,347.84 105.44,345.98 106.8,343.86 108.16,341.49 109.52,338.85 110.88,335.99 112.24,332.93 113.6,329.73 114.96,326.47 116.32,323.24 117.68,320.15 119.04,317.29 120.4,314.78 121.76,312.7 123.12,311.14 124.48,310.13 125.84,309.71 127.2,309.86 128.56,310.55 129.92,311.72 131.28,313.27 132.64,315.11 134,317.13 135.36,319.23 136.72,321.31 138.08,323.29 139.44,325.1 140.8,326.69 142.16,328.03 143.52,329.11 144.88,329.94 146.24,330.52 147.6,330.88 148.96,331.04 150.32,331.04 151.68,330.9 153.04,330.64 154.4,330.3 155.76,329.89 157.12,329.43 158.48,328.94 159.84,328.41 161.2,327.87 162.56,327.32 163.92,326.75 165.28,326.19 166.64,325.61 168,325.04 169.36,324.46 170.72,323.89 172.08,323.31 173.44,322.73 174.8,322.16 176.16,321.58 177.52,321 178.88,320.42 180.24,319.84 181.6,319.27 182.96,318.69 184.32,318.11 185.68,317.53 187.04,316.96 188.4,316.38 189.76,315.8 191.12,315.22 192.48,314.64 193.84,314.07 195.2,313.49 196.56,312.91 197.92,312.33 199.28,311.76 200.64,311.18 202,310.6" fill="none" stroke="#3018e8" stroke-width="1.55" stroke-linejoin="round"/>
<polyline points="81.01,364.37 82.37,363.79 83.73,363.21 85.09,362.63 86.45,362.05 87.81,361.46 89.17,360.87 90.53,360.26 91.89,359.65 93.25,359.01 94.61,358.35 95.97,357.64 97.33,356.89 98.69,356.06 100.05,355.15 101.41,354.11 102.77,352.94 104.13,351.59 105.49,350.05 106.85,348.28 108.21,346.27 109.57,344 110.93,341.48 112.29,338.72 113.65,335.75 115.01,332.64 116.37,329.44 117.73,326.25 119.09,323.16 120.45,320.29 121.81,317.73 123.17,315.57 124.53,313.91 125.89,312.78 127.25,312.23 128.61,312.25 129.97,312.81 131.33,313.85 132.69,315.29 134.05,317.04 135.41,318.98 136.77,321.02 138.13,323.06 139.49,325.01 140.85,326.8 142.21,328.38 143.57,329.73 144.93,330.81 146.29,331.65 147.65,332.24 149.01,332.61 150.37,332.78 151.73,332.78 153.09,332.65 154.45,332.4 155.81,332.06 157.17,331.66 158.53,331.2 159.89,330.71 161.25,330.18 162.61,329.64 163.97,329.09 165.33,328.53 166.69,327.96 168.05,327.39 169.41,326.81 170.77,326.24 172.13,325.66 173.49,325.08 174.85,324.51 176.21,323.93 177.57,323.35 178.93,322.77 180.29,322.19 181.65,321.62 183.01,321.04 184.37,320.46 185.73,319.88 187.09,319.31 188.45,318.73 189.81,318.15 191.17,317.57 192.53,316.99 193.89,316.42 195.25,315.84 196.61,315.26 197.97,314.68 199.33,314.11 200.69,313.53 202.05,312.95 203.41,312.37" fill="none" stroke="#3018e8" stroke-width="1.55" stroke-linejoin="round"/>
<polyline points="82.42,366.15 83.78,365.57 85.14,364.99 86.5,364.41 87.86,363.83 89.22,363.26 90.58,362.68 91.94,362.1 93.3,361.52 94.66,360.95 96.02,360.37 97.38,359.79 98.74,359.21 100.1,358.63 101.46,358.05 102.82,357.48 104.18,356.9 105.54,356.31 106.9,355.73 108.26,355.14 109.62,354.55 110.98,353.94 112.34,353.31 113.7,352.66 115.06,351.98 116.42,351.24 117.78,350.43 119.14,349.52 120.5,348.49 121.86,347.29 123.22,345.9 124.58,344.28 125.94,342.38 127.3,340.19 128.66,337.68 130.02,334.87 131.38,331.76 132.74,328.4 134.1,324.88 135.46,321.29 136.82,317.74 138.18,314.37 139.54,311.33 140.9,308.73 142.26,306.7 143.62,305.32 144.98,304.63 146.34,304.65 147.7,305.34 149.06,306.62 150.42,308.39 151.78,310.52 153.14,312.87 154.5,315.31 155.86,317.71 157.22,319.96 158.58,322 159.94,323.75 161.3,325.2 162.66,326.33 164.02,327.15 165.38,327.7 166.74,328 168.1,328.1 169.46,328.02 170.82,327.81 172.18,327.49 173.54,327.09 174.9,326.64 176.26,326.14 177.62,325.62 178.98,325.07 180.34,324.51 181.7,323.95 183.06,323.38 184.42,322.81 185.78,322.23 187.14,321.65 188.5,321.08 189.86,320.5 191.22,319.92 192.58,319.34 193.94,318.77 195.3,318.19 196.66,317.61 198.02,317.03 199.38,316.46 200.74,315.88 202.1,315.3 203.46,314.72 204.82,314.15" fill="none" stroke="#3018e8" stroke-width="1.55" stroke-linejoin="round"/>
<polyline points="83.82,367.92 85.18,367.34 86.54,366.76 87.9,366.18 89.26,365.61 90.62,365.03 91.98,364.45 93.34,363.87 94.7,363.3 96.06,362.72 97.42,362.14 98.78,361.56 100.14,360.98 101.5,360.41 102.86,359.83 104.22,359.25 105.58,358.67 106.94,358.08 108.3,357.49 109.66,356.89 111.02,356.27 112.38,355.63 113.74,354.94 115.1,354.19 116.46,353.34 117.82,352.36 119.18,351.21 120.54,349.82 121.9,348.14 123.26,346.12 124.62,343.71 125.98,340.89 127.34,337.66 128.7,334.07 130.06,330.21 131.42,326.21 132.78,322.25 134.14,318.54 135.5,315.27 136.86,312.66 138.22,310.85 139.58,309.94 140.94,309.96 142.3,310.86 143.66,312.53 145.02,314.79 146.38,317.44 147.74,320.28 149.1,323.09 150.46,325.74 151.82,328.07 153.18,330.03 154.54,331.58 155.9,332.71 157.26,333.47 158.62,333.9 159.98,334.06 161.34,334.01 162.7,333.79 164.06,333.44 165.42,333.02 166.78,332.54 168.14,332.02 169.5,331.48 170.86,330.92 172.22,330.35 173.58,329.78 174.94,329.2 176.3,328.63 177.66,328.05 179.02,327.47 180.38,326.9 181.74,326.32 183.1,325.74 184.46,325.16 185.82,324.58 187.18,324.01 188.54,323.43 189.9,322.85 191.26,322.27 192.62,321.7 193.98,321.12 195.34,320.54 196.7,319.96 198.06,319.38 199.42,318.81 200.78,318.23 202.14,317.65 203.5,317.07 204.86,316.5 206.22,315.92" fill="none" stroke="#3018e8" stroke-width="1.55" stroke-linejoin="round"/>
<polyline points="85.23,369.69 86.59,369.11 87.95,368.53 89.31,367.96 90.67,367.38 92.03,366.8 93.39,366.22 94.75,365.64 96.11,365.06 97.47,364.48 98.83,363.89 100.19,363.29 101.55,362.68 102.91,362.06 104.27,361.41 105.63,360.72 106.99,359.98 108.35,359.16 109.71,358.25 111.07,357.21 112.43,356.02 113.79,354.63 115.15,353.02 116.51,351.16 117.87,349.03 119.23,346.62 120.59,343.94 121.95,341.02 123.31,337.94 124.67,334.75 126.03,331.58 127.39,328.53 128.75,325.73 130.11,323.3 131.47,321.35 132.83,319.96 134.19,319.18 135.55,319.02 136.91,319.46 138.27,320.43 139.63,321.85 140.99,323.6 142.35,325.55 143.71,327.58 145.07,329.59 146.43,331.46 147.79,333.15 149.15,334.58 150.51,335.74 151.87,336.62 153.23,337.24 154.59,337.61 155.95,337.77 157.31,337.75 158.67,337.58 160.03,337.3 161.39,336.93 162.75,336.5 164.11,336.01 165.47,335.5 166.83,334.96 168.19,334.41 169.55,333.85 170.91,333.28 172.27,332.71 173.63,332.13 174.99,331.55 176.35,330.98 177.71,330.4 179.07,329.82 180.43,329.25 181.79,328.67 183.15,328.09 184.51,327.51 185.87,326.93 187.23,326.36 188.59,325.78 189.95,325.2 191.31,324.62 192.67,324.05 194.03,323.47 195.39,322.89 196.75,322.31 198.11,321.73 199.47,321.16 200.83,320.58 202.19,320 203.55,319.42 204.91,318.85 206.27,318.27 207.63,317.69" fill="none" stroke="#3018e8" stroke-width="1.55" stroke-linejoin="round"/>
<polyline points="86.64,371.46 88,370.88 89.36,370.31 90.72,369.73 92.08,369.15 93.44,368.57 94.8,368 96.16,367.42 97.52,366.84 98.88,366.26 100.24,365.68 101.6,365.11 102.96,364.53 104.32,363.95 105.68,363.37 107.04,362.79 108.4,362.21 109.76,361.62 111.12,361.03 112.48,360.43 113.84,359.81 115.2,359.17 116.56,358.49 117.92,357.75 119.28,356.94 120.64,356.03 122,354.98 123.36,353.76 124.72,352.33 126.08,350.67 127.44,348.76 128.8,346.58 130.16,344.15 131.52,341.52 132.88,338.75 134.24,335.94 135.6,333.2 136.96,330.66 138.32,328.44 139.68,326.67 141.04,325.42 142.4,324.76 143.76,324.68 145.12,325.15 146.48,326.08 147.84,327.38 149.2,328.92 150.56,330.57 151.92,332.21 153.28,333.74 154.64,335.07 156,336.17 157.36,337.01 158.72,337.59 160.08,337.93 161.44,338.05 162.8,337.99 164.16,337.78 165.52,337.47 166.88,337.07 168.24,336.61 169.6,336.11 170.96,335.57 172.32,335.02 173.68,334.46 175.04,333.9 176.4,333.32 177.76,332.75 179.12,332.17 180.48,331.6 181.84,331.02 183.2,330.44 184.56,329.86 185.92,329.28 187.28,328.71 188.64,328.13 190,327.55 191.36,326.97 192.72,326.4 194.08,325.82 195.44,325.24 196.8,324.66 198.16,324.08 199.52,323.51 200.88,322.93 202.24,322.35 203.6,321.77 204.96,321.2 206.32,320.62 207.68,320.04 209.04,319.46" fill="none" stroke="#3018e8" stroke-width="1.55" stroke-linejoin="round"/>
<polyline points="88.05,373.24 89.41,372.66 90.77,372.08 92.13,371.5 93.49,370.92 94.85,370.35 96.21,369.77 97.57,369.19 98.93,368.61 100.29,368.03 101.65,367.46 103.01,366.88 104.37,366.3 105.73,365.71 107.09,365.13 108.45,364.53 109.81,363.93 111.17,363.3 112.53,362.65 113.89,361.95 115.25,361.18 116.61,360.31 117.97,359.3 119.33,358.12 120.69,356.71 122.05,355.01 123.41,352.99 124.77,350.6 126.13,347.83 127.49,344.7 128.85,341.26 130.21,337.6 131.57,333.84 132.93,330.17 134.29,326.76 135.65,323.8 137.01,321.47 138.37,319.88 139.73,319.13 141.09,319.23 142.45,320.12 143.81,321.69 145.17,323.78 146.53,326.22 147.89,328.8 149.25,331.36 150.61,333.75 151.97,335.86 153.33,337.63 154.69,339.01 156.05,340.02 157.41,340.69 158.77,341.06 160.13,341.17 161.49,341.09 162.85,340.85 164.21,340.5 165.57,340.07 166.93,339.59 168.29,339.07 169.65,338.52 171.01,337.97 172.37,337.4 173.73,336.83 175.09,336.25 176.45,335.68 177.81,335.1 179.17,334.52 180.53,333.95 181.89,333.37 183.25,332.79 184.61,332.21 185.97,331.64 187.33,331.06 188.69,330.48 190.05,329.9 191.41,329.32 192.77,328.75 194.13,328.17 195.49,327.59 196.85,327.01 198.21,326.44 199.57,325.86 200.93,325.28 202.29,324.7 203.65,324.12 205.01,323.55 206.37,322.97 207.73,322.39 209.09,321.81 210.45,321.24" fill="none" stroke="#3018e8" stroke-width="1.55" stroke-linejoin="round"/>
<polyline points="89.45,375.01 90.81,374.43 92.17,373.85 93.53,373.27 94.89,372.7 96.25,372.12 97.61,371.54 98.97,370.96 100.33,370.39 101.69,369.81 103.05,369.23 104.41,368.65 105.77,368.07 107.13,367.5 108.49,366.92 109.85,366.34 111.21,365.76 112.57,365.19 113.93,364.61 115.29,364.03 116.65,363.45 118.01,362.87 119.37,362.3 120.73,361.72 122.09,361.14 123.45,360.56 124.81,359.98 126.17,359.4 127.53,358.81 128.89,358.22 130.25,357.62 131.61,357 132.97,356.35 134.33,355.66 135.69,354.9 137.05,354.05 138.41,353.07 139.77,351.92 141.13,350.54 142.49,348.88 143.85,346.9 145.21,344.54 146.57,341.81 147.93,338.69 149.29,335.25 150.65,331.57 152.01,327.78 153.37,324.04 154.73,320.55 156.09,317.5 157.45,315.07 158.81,313.39 160.17,312.56 161.53,312.59 162.89,313.44 164.25,314.99 165.61,317.09 166.97,319.55 168.33,322.17 169.69,324.78 171.05,327.22 172.41,329.38 173.77,331.19 175.13,332.61 176.49,333.65 177.85,334.34 179.21,334.72 180.57,334.85 181.93,334.77 183.29,334.53 184.65,334.19 186.01,333.76 187.37,333.27 188.73,332.75 190.09,332.21 191.45,331.65 192.81,331.08 194.17,330.51 195.53,329.94 196.89,329.36 198.25,328.78 199.61,328.21 200.97,327.63 202.33,327.05 203.69,326.47 205.05,325.9 206.41,325.32 207.77,324.74 209.13,324.16 210.49,323.59 211.85,323.01" fill="none" stroke="#3018e8" stroke-width="1.55" stroke-linejoin="round"/>
<polyline points="90.86,376.78 92.22,376.2 93.58,375.62 94.94,375.05 96.3,374.47 97.66,373.89 99.02,373.31 100.38,372.73 101.74,372.15 103.1,371.57 104.46,370.98 105.82,370.39 107.18,369.8 108.54,369.19 109.9,368.57 111.26,367.92 112.62,367.25 113.98,366.54 115.34,365.77 116.7,364.94 118.06,364.01 119.42,362.98 120.78,361.82 122.14,360.52 123.5,359.05 124.86,357.4 126.22,355.57 127.58,353.57 128.94,351.4 130.3,349.1 131.66,346.71 133.02,344.28 134.38,341.89 135.74,339.61 137.1,337.51 138.46,335.66 139.82,334.14 141.18,332.98 142.54,332.22 143.9,331.87 145.26,331.92 146.62,332.32 147.98,333.05 149.34,334.02 150.7,335.16 152.06,336.4 153.42,337.67 154.78,338.89 156.14,340.03 157.5,341.02 158.86,341.86 160.22,342.51 161.58,342.98 162.94,343.28 164.3,343.41 165.66,343.39 167.02,343.26 168.38,343.01 169.74,342.68 171.1,342.29 172.46,341.84 173.82,341.36 175.18,340.84 176.54,340.31 177.9,339.76 179.26,339.2 180.62,338.63 181.98,338.06 183.34,337.49 184.7,336.91 186.06,336.33 187.42,335.76 188.78,335.18 190.14,334.6 191.5,334.02 192.86,333.45 194.22,332.87 195.58,332.29 196.94,331.71 198.3,331.14 199.66,330.56 201.02,329.98 202.38,329.4 203.74,328.82 205.1,328.25 206.46,327.67 207.82,327.09 209.18,326.51 210.54,325.94 211.9,325.36 213.26,324.78" fill="none" stroke="#3018e8" stroke-width="1.55" stroke-linejoin="round"/>
<polyline points="92.27,378.55 93.63,377.98 94.99,377.4 96.35,376.82 97.71,376.24 99.07,375.66 100.43,375.09 101.79,374.51 103.15,373.93 104.51,373.35 105.87,372.77 107.23,372.2 108.59,371.62 109.95,371.03 111.31,370.45 112.67,369.86 114.03,369.26 115.39,368.65 116.75,368.02 118.11,367.35 119.47,366.64 120.83,365.86 122.19,364.98 123.55,363.97 124.91,362.8 126.27,361.43 127.63,359.82 128.99,357.94 130.35,355.78 131.71,353.34 133.07,350.64 134.43,347.76 135.79,344.76 137.15,341.78 138.51,338.93 139.87,336.37 141.23,334.22 142.59,332.6 143.95,331.59 145.31,331.21 146.67,331.46 148.03,332.27 149.39,333.53 150.75,335.14 152.11,336.93 153.47,338.78 154.83,340.56 156.19,342.18 157.55,343.56 158.91,344.68 160.27,345.5 161.63,346.05 162.99,346.35 164.35,346.44 165.71,346.35 167.07,346.11 168.43,345.77 169.79,345.35 171.15,344.88 172.51,344.37 173.87,343.83 175.23,343.28 176.59,342.71 177.95,342.14 179.31,341.57 180.67,340.99 182.03,340.42 183.39,339.84 184.75,339.26 186.11,338.69 187.47,338.11 188.83,337.53 190.19,336.95 191.55,336.38 192.91,335.8 194.27,335.22 195.63,334.64 196.99,334.06 198.35,333.49 199.71,332.91 201.07,332.33 202.43,331.75 203.79,331.18 205.15,330.6 206.51,330.02 207.87,329.44 209.23,328.86 210.59,328.29 211.95,327.71 213.31,327.13 214.67,326.55" fill="none" stroke="#3018e8" stroke-width="1.55" stroke-linejoin="round"/>
<polyline points="93.68,380.33 95.04,379.75 96.4,379.17 97.76,378.59 99.12,378.01 100.48,377.44 101.84,376.86 103.2,376.28 104.56,375.7 105.92,375.13 107.28,374.55 108.64,373.97 110,373.39 111.36,372.81 112.72,372.24 114.08,371.66 115.44,371.08 116.8,370.5 118.16,369.92 119.52,369.34 120.88,368.76 122.24,368.18 123.6,367.6 124.96,367.01 126.32,366.41 127.68,365.81 129.04,365.19 130.4,364.55 131.76,363.89 133.12,363.19 134.48,362.44 135.84,361.62 137.2,360.73 138.56,359.73 139.92,358.6 141.28,357.33 142.64,355.89 144,354.27 145.36,352.45 146.72,350.43 148.08,348.22 149.44,345.84 150.8,343.32 152.16,340.7 153.52,338.06 154.88,335.46 156.24,332.97 157.6,330.7 158.96,328.7 160.32,327.05 161.68,325.8 163.04,324.99 164.4,324.63 165.76,324.7 167.12,325.18 168.48,326.01 169.84,327.12 171.2,328.44 172.56,329.88 173.92,331.37 175.28,332.83 176.64,334.21 178,335.44 179.36,336.5 180.72,337.38 182.08,338.05 183.44,338.52 184.8,338.81 186.16,338.93 187.52,338.91 188.88,338.75 190.24,338.5 191.6,338.16 192.96,337.76 194.32,337.31 195.68,336.82 197.04,336.3 198.4,335.76 199.76,335.21 201.12,334.65 202.48,334.09 203.84,333.52 205.2,332.94 206.56,332.37 207.92,331.79 209.28,331.21 210.64,330.64 212,330.06 213.36,329.48 214.72,328.9 216.08,328.33" fill="none" stroke="#3018e8" stroke-width="1.55" stroke-linejoin="round"/>
<polyline points="95.09,382.1 96.45,381.52 97.81,380.94 99.17,380.36 100.53,379.79 101.89,379.21 103.25,378.63 104.61,378.05 105.97,377.47 107.33,376.89 108.69,376.31 110.05,375.73 111.41,375.14 112.77,374.55 114.13,373.95 115.49,373.34 116.85,372.71 118.21,372.05 119.57,371.35 120.93,370.59 122.29,369.76 123.65,368.83 125.01,367.78 126.37,366.57 127.73,365.18 129.09,363.58 130.45,361.74 131.81,359.65 133.17,357.3 134.53,354.72 135.89,351.92 137.25,348.97 138.61,345.94 139.97,342.92 141.33,340.01 142.69,337.33 144.05,334.99 145.41,333.07 146.77,331.67 148.13,330.82 149.49,330.54 150.85,330.82 152.21,331.6 153.57,332.81 154.93,334.35 156.29,336.11 157.65,337.97 159.01,339.85 160.37,341.64 161.73,343.27 163.09,344.69 164.45,345.86 165.81,346.79 167.17,347.46 168.53,347.89 169.89,348.12 171.25,348.16 172.61,348.05 173.97,347.82 175.33,347.49 176.69,347.09 178.05,346.63 179.41,346.13 180.77,345.61 182.13,345.07 183.49,344.51 184.85,343.95 186.21,343.38 187.57,342.8 188.93,342.23 190.29,341.65 191.65,341.07 193.01,340.5 194.37,339.92 195.73,339.34 197.09,338.76 198.45,338.19 199.81,337.61 201.17,337.03 202.53,336.45 203.89,335.88 205.25,335.3 206.61,334.72 207.97,334.14 209.33,333.56 210.69,332.99 212.05,332.41 213.41,331.83 214.77,331.25 216.13,330.68 217.49,330.1" fill="none" stroke="#3018e8" stroke-width="1.55" stroke-linejoin="round"/>
<polyline points="96.49,383.87 97.85,383.29 99.21,382.72 100.57,382.14 101.93,381.56 103.29,380.98 104.65,380.4 106.01,379.83 107.37,379.25 108.73,378.67 110.09,378.09 111.45,377.51 112.81,376.93 114.17,376.35 115.53,375.77 116.89,375.18 118.25,374.59 119.61,373.99 120.97,373.38 122.33,372.75 123.69,372.1 125.05,371.41 126.41,370.67 127.77,369.88 129.13,369 130.49,368.03 131.85,366.93 133.21,365.67 134.57,364.24 135.93,362.61 137.29,360.76 138.65,358.68 140.01,356.36 141.37,353.83 142.73,351.09 144.09,348.2 145.45,345.22 146.81,342.21 148.17,339.28 149.53,336.5 150.89,333.98 152.25,331.81 153.61,330.06 154.97,328.79 156.33,328.03 157.69,327.8 159.05,328.08 160.41,328.82 161.77,329.96 163.13,331.42 164.49,333.1 165.85,334.92 167.21,336.77 168.57,338.57 169.93,340.26 171.29,341.78 172.65,343.09 174.01,344.18 175.37,345.03 176.73,345.65 178.09,346.05 179.45,346.27 180.81,346.31 182.17,346.21 183.53,346 184.89,345.69 186.25,345.31 187.61,344.87 188.97,344.39 190.33,343.88 191.69,343.35 193.05,342.8 194.41,342.24 195.77,341.67 197.13,341.1 198.49,340.53 199.85,339.96 201.21,339.38 202.57,338.8 203.93,338.23 205.29,337.65 206.65,337.07 208.01,336.49 209.37,335.91 210.73,335.34 212.09,334.76 213.45,334.18 214.81,333.6 216.17,333.03 217.53,332.45 218.89,331.87" fill="none" stroke="#3018e8" stroke-width="1.55" stroke-linejoin="round"/>
<polyline points="97.9,385.64 99.26,385.07 100.62,384.49 101.98,383.91 103.34,383.33 104.7,382.75 106.06,382.18 107.42,381.6 108.78,381.02 110.14,380.44 111.5,379.87 112.86,379.29 114.22,378.71 115.58,378.13 116.94,377.55 118.3,376.98 119.66,376.4 121.02,375.82 122.38,375.24 123.74,374.67 125.1,374.09 126.46,373.51 127.82,372.93 129.18,372.35 130.54,371.78 131.9,371.2 133.26,370.62 134.62,370.03 135.98,369.45 137.34,368.85 138.7,368.25 140.06,367.63 141.42,366.98 142.78,366.28 144.14,365.53 145.5,364.69 146.86,363.74 148.22,362.62 149.58,361.3 150.94,359.74 152.3,357.89 153.66,355.7 155.02,353.17 156.38,350.28 157.74,347.07 159.1,343.59 160.46,339.95 161.82,336.28 163.18,332.74 164.54,329.48 165.9,326.69 167.26,324.51 168.62,323.05 169.98,322.38 171.34,322.5 172.7,323.36 174.06,324.86 175.42,326.86 176.78,329.2 178.14,331.7 179.5,334.2 180.86,336.57 182.22,338.7 183.58,340.51 184.94,341.98 186.3,343.09 187.66,343.86 189.02,344.34 190.38,344.55 191.74,344.56 193.1,344.39 194.46,344.1 195.82,343.72 197.18,343.26 198.54,342.77 199.9,342.24 201.26,341.69 202.62,341.13 203.98,340.56 205.34,339.99 206.7,339.42 208.06,338.84 209.42,338.26 210.78,337.69 212.14,337.11 213.5,336.53 214.86,335.95 216.22,335.38 217.58,334.8 218.94,334.22 220.3,333.64" fill="none" stroke="#3018e8" stroke-width="1.55" stroke-linejoin="round"/>
<polyline points="99.31,387.42 100.67,386.84 102.03,386.26 103.39,385.68 104.75,385.1 106.11,384.53 107.47,383.95 108.83,383.37 110.19,382.79 111.55,382.22 112.91,381.64 114.27,381.06 115.63,380.48 116.99,379.9 118.35,379.32 119.71,378.74 121.07,378.15 122.43,377.55 123.79,376.94 125.15,376.31 126.51,375.64 127.87,374.92 129.23,374.12 130.59,373.22 131.95,372.18 133.31,370.96 134.67,369.51 136.03,367.81 137.39,365.82 138.75,363.53 140.11,360.97 141.47,358.17 142.83,355.23 144.19,352.25 145.55,349.38 146.91,346.76 148.27,344.54 149.63,342.85 150.99,341.78 152.35,341.37 153.71,341.61 155.07,342.42 156.43,343.7 157.79,345.31 159.15,347.1 160.51,348.92 161.87,350.65 163.23,352.18 164.59,353.45 165.95,354.43 167.31,355.12 168.67,355.53 170.03,355.71 171.39,355.68 172.75,355.49 174.11,355.18 175.47,354.78 176.83,354.31 178.19,353.81 179.55,353.27 180.91,352.72 182.27,352.15 183.63,351.58 184.99,351.01 186.35,350.44 187.71,349.86 189.07,349.28 190.43,348.7 191.79,348.13 193.15,347.55 194.51,346.97 195.87,346.39 197.23,345.82 198.59,345.24 199.95,344.66 201.31,344.08 202.67,343.5 204.03,342.93 205.39,342.35 206.75,341.77 208.11,341.19 209.47,340.62 210.83,340.04 212.19,339.46 213.55,338.88 214.91,338.3 216.27,337.73 217.63,337.15 218.99,336.57 220.35,335.99 221.71,335.42" fill="none" stroke="#3018e8" stroke-width="1.55" stroke-linejoin="round"/>
<polyline points="100.72,389.19 102.08,388.61 103.44,388.03 104.8,387.45 106.16,386.88 107.52,386.3 108.88,385.72 110.24,385.14 111.6,384.57 112.96,383.99 114.32,383.41 115.68,382.83 117.04,382.25 118.4,381.67 119.76,381.09 121.12,380.51 122.48,379.93 123.84,379.34 125.2,378.75 126.56,378.14 127.92,377.52 129.28,376.88 130.64,376.2 132,375.48 133.36,374.7 134.72,373.83 136.08,372.85 137.44,371.74 138.8,370.47 140.16,369.01 141.52,367.33 142.88,365.42 144.24,363.28 145.6,360.92 146.96,358.35 148.32,355.65 149.68,352.86 151.04,350.08 152.4,347.4 153.76,344.93 155.12,342.76 156.48,341 157.84,339.71 159.2,338.93 160.56,338.67 161.92,338.92 163.28,339.63 164.64,340.72 166,342.09 167.36,343.64 168.72,345.28 170.08,346.9 171.44,348.43 172.8,349.79 174.16,350.95 175.52,351.88 176.88,352.58 178.24,353.05 179.6,353.31 180.96,353.39 182.32,353.31 183.68,353.1 185.04,352.8 186.4,352.41 187.76,351.96 189.12,351.48 190.48,350.96 191.84,350.42 193.2,349.86 194.56,349.3 195.92,348.73 197.28,348.16 198.64,347.58 200,347.01 201.36,346.43 202.72,345.85 204.08,345.28 205.44,344.7 206.8,344.12 208.16,343.54 209.52,342.97 210.88,342.39 212.24,341.81 213.6,341.23 214.96,340.65 216.32,340.08 217.68,339.5 219.04,338.92 220.4,338.34 221.76,337.77 223.12,337.19" fill="none" stroke="#3018e8" stroke-width="1.55" stroke-linejoin="round"/>
<polyline points="102.13,390.96 103.49,390.38 104.85,389.81 106.21,389.23 107.57,388.65 108.93,388.07 110.29,387.49 111.65,386.92 113.01,386.34 114.37,385.76 115.73,385.18 117.09,384.61 118.45,384.03 119.81,383.45 121.17,382.87 122.53,382.29 123.89,381.72 125.25,381.14 126.61,380.56 127.97,379.98 129.33,379.4 130.69,378.82 132.05,378.24 133.41,377.66 134.77,377.08 136.13,376.49 137.49,375.89 138.85,375.27 140.21,374.63 141.57,373.96 142.93,373.24 144.29,372.45 145.65,371.56 147.01,370.55 148.37,369.38 149.73,368.01 151.09,366.41 152.45,364.55 153.81,362.41 155.17,360 156.53,357.34 157.89,354.48 159.25,351.49 160.61,348.49 161.97,345.6 163.33,342.94 164.69,340.65 166.05,338.84 167.41,337.6 168.77,336.98 170.13,336.97 171.49,337.54 172.85,338.61 174.21,340.07 175.57,341.78 176.93,343.62 178.29,345.46 179.65,347.19 181.01,348.73 182.37,350.02 183.73,351.05 185.09,351.79 186.45,352.27 187.81,352.52 189.17,352.56 190.53,352.44 191.89,352.19 193.25,351.84 194.61,351.41 195.97,350.93 197.33,350.42 198.69,349.88 200.05,349.33 201.41,348.77 202.77,348.2 204.13,347.62 205.49,347.05 206.85,346.47 208.21,345.89 209.57,345.32 210.93,344.74 212.29,344.16 213.65,343.58 215.01,343.01 216.37,342.43 217.73,341.85 219.09,341.27 220.45,340.69 221.81,340.12 223.17,339.54 224.53,338.96" fill="none" stroke="#3018e8" stroke-width="1.55" stroke-linejoin="round"/>
<polyline points="103.53,392.73 104.89,392.16 106.25,391.58 107.61,391 108.97,390.42 110.33,389.84 111.69,389.27 113.05,388.69 114.41,388.11 115.77,387.53 117.13,386.95 118.49,386.38 119.85,385.8 121.21,385.22 122.57,384.63 123.93,384.05 125.29,383.45 126.65,382.85 128.01,382.23 129.37,381.58 130.73,380.9 132.09,380.17 133.45,379.37 134.81,378.47 136.17,377.44 137.53,376.24 138.89,374.84 140.25,373.21 141.61,371.29 142.97,369.09 144.33,366.57 145.69,363.76 147.05,360.69 148.41,357.42 149.77,354.04 151.13,350.66 152.49,347.43 153.85,344.48 155.21,341.94 156.57,339.94 157.93,338.56 159.29,337.87 160.65,337.85 162.01,338.49 163.37,339.7 164.73,341.37 166.09,343.37 167.45,345.55 168.81,347.79 170.17,349.95 171.53,351.95 172.89,353.7 174.25,355.16 175.61,356.32 176.97,357.18 178.33,357.75 179.69,358.07 181.05,358.18 182.41,358.1 183.77,357.89 185.13,357.57 186.49,357.17 187.85,356.71 189.21,356.21 190.57,355.68 191.93,355.13 193.29,354.57 194.65,354.01 196.01,353.44 197.37,352.86 198.73,352.29 200.09,351.71 201.45,351.13 202.81,350.56 204.17,349.98 205.53,349.4 206.89,348.82 208.25,348.24 209.61,347.67 210.97,347.09 212.33,346.51 213.69,345.93 215.05,345.36 216.41,344.78 217.77,344.2 219.13,343.62 220.49,343.04 221.85,342.47 223.21,341.89 224.57,341.31 225.93,340.73" fill="none" stroke="#3018e8" stroke-width="1.55" stroke-linejoin="round"/>
<polyline points="104.94,394.51 106.3,393.93 107.66,393.35 109.02,392.77 110.38,392.19 111.74,391.62 113.1,391.04 114.46,390.46 115.82,389.88 117.18,389.31 118.54,388.73 119.9,388.15 121.26,387.57 122.62,386.99 123.98,386.41 125.34,385.82 126.7,385.23 128.06,384.63 129.42,384 130.78,383.35 132.14,382.65 133.5,381.88 134.86,381.02 136.22,380.01 137.58,378.82 138.94,377.39 140.3,375.67 141.66,373.62 143.02,371.21 144.38,368.43 145.74,365.3 147.1,361.89 148.46,358.32 149.82,354.73 151.18,351.31 152.54,348.24 153.9,345.7 155.26,343.86 156.62,342.81 157.98,342.59 159.34,343.17 160.7,344.47 162.06,346.32 163.42,348.56 164.78,350.98 166.14,353.41 167.5,355.69 168.86,357.7 170.22,359.38 171.58,360.69 172.94,361.63 174.3,362.23 175.66,362.54 177.02,362.6 178.38,362.48 179.74,362.21 181.1,361.83 182.46,361.38 183.82,360.89 185.18,360.36 186.54,359.81 187.9,359.24 189.26,358.67 190.62,358.1 191.98,357.53 193.34,356.95 194.7,356.37 196.06,355.79 197.42,355.22 198.78,354.64 200.14,354.06 201.5,353.48 202.86,352.91 204.22,352.33 205.58,351.75 206.94,351.17 208.3,350.59 209.66,350.02 211.02,349.44 212.38,348.86 213.74,348.28 215.1,347.71 216.46,347.13 217.82,346.55 219.18,345.97 220.54,345.39 221.9,344.82 223.26,344.24 224.62,343.66 225.98,343.08 227.34,342.51" fill="none" stroke="#3018e8" stroke-width="1.55" stroke-linejoin="round"/>
<polyline points="106.35,396.28 107.71,395.7 109.07,395.12 110.43,394.55 111.79,393.97 113.15,393.39 114.51,392.81 115.87,392.23 117.23,391.66 118.59,391.08 119.95,390.5 121.31,389.92 122.67,389.35 124.03,388.77 125.39,388.19 126.75,387.61 128.11,387.03 129.47,386.46 130.83,385.88 132.19,385.3 133.55,384.72 134.91,384.14 136.27,383.56 137.63,382.98 138.99,382.39 140.35,381.79 141.71,381.17 143.07,380.52 144.43,379.83 145.79,379.08 147.15,378.22 148.51,377.23 149.87,376.05 151.23,374.62 152.59,372.89 153.95,370.81 155.31,368.32 156.67,365.41 158.03,362.11 159.39,358.46 160.75,354.59 162.11,350.66 163.47,346.85 164.83,343.38 166.19,340.47 167.55,338.3 168.91,337 170.27,336.64 171.63,337.19 172.99,338.56 174.35,340.6 175.71,343.09 177.07,345.83 178.43,348.61 179.79,351.24 181.15,353.58 182.51,355.55 183.87,357.11 185.23,358.26 186.59,359.02 187.95,359.45 189.31,359.6 190.67,359.53 192.03,359.3 193.39,358.95 194.75,358.51 196.11,358.02 197.47,357.5 198.83,356.95 200.19,356.39 201.55,355.82 202.91,355.25 204.27,354.68 205.63,354.1 206.99,353.52 208.35,352.94 209.71,352.37 211.07,351.79 212.43,351.21 213.79,350.63 215.15,350.06 216.51,349.48 217.87,348.9 219.23,348.32 220.59,347.75 221.95,347.17 223.31,346.59 224.67,346.01 226.03,345.43 227.39,344.86 228.75,344.28" fill="none" stroke="#3018e8" stroke-width="1.55" stroke-linejoin="round"/>
<polyline points="107.76,398.05 109.12,397.47 110.48,396.9 111.84,396.32 113.2,395.74 114.56,395.16 115.92,394.58 117.28,394.01 118.64,393.43 120,392.85 121.36,392.27 122.72,391.69 124.08,391.11 125.44,390.52 126.8,389.94 128.16,389.34 129.52,388.74 130.88,388.12 132.24,387.48 133.6,386.82 134.96,386.11 136.32,385.36 137.68,384.54 139.04,383.63 140.4,382.62 141.76,381.48 143.12,380.2 144.48,378.75 145.84,377.13 147.2,375.32 148.56,373.34 149.92,371.2 151.28,368.93 152.64,366.58 154,364.21 155.36,361.88 156.72,359.67 158.08,357.65 159.44,355.91 160.8,354.49 162.16,353.46 163.52,352.82 164.88,352.59 166.24,352.74 167.6,353.24 168.96,354.03 170.32,355.03 171.68,356.18 173.04,357.39 174.4,358.6 175.76,359.74 177.12,360.77 178.48,361.64 179.84,362.34 181.2,362.86 182.56,363.21 183.92,363.38 185.28,363.4 186.64,363.29 188,363.07 189.36,362.76 190.72,362.38 192.08,361.94 193.44,361.46 194.8,360.95 196.16,360.42 197.52,359.87 198.88,359.31 200.24,358.74 201.6,358.17 202.96,357.6 204.32,357.03 205.68,356.45 207.04,355.87 208.4,355.29 209.76,354.72 211.12,354.14 212.48,353.56 213.84,352.98 215.2,352.41 216.56,351.83 217.92,351.25 219.28,350.67 220.64,350.1 222,349.52 223.36,348.94 224.72,348.36 226.08,347.78 227.44,347.21 228.8,346.63 230.16,346.05" fill="none" stroke="#3018e8" stroke-width="1.55" stroke-linejoin="round"/>
<polyline points="109.16,399.82 110.52,399.24 111.88,398.66 113.24,398.08 114.6,397.49 115.96,396.9 117.32,396.31 118.68,395.69 120.04,395.06 121.4,394.41 122.76,393.71 124.12,392.96 125.48,392.14 126.84,391.22 128.2,390.18 129.56,388.98 130.92,387.61 132.28,386.03 133.64,384.23 135,382.19 136.36,379.91 137.72,377.43 139.08,374.76 140.44,371.98 141.8,369.17 143.16,366.42 144.52,363.83 145.88,361.51 147.24,359.56 148.6,358.06 149.96,357.06 151.32,356.6 152.68,356.66 154.04,357.2 155.4,358.17 156.76,359.46 158.12,360.97 159.48,362.61 160.84,364.26 162.2,365.85 163.56,367.29 164.92,368.53 166.28,369.55 167.64,370.34 169,370.89 170.36,371.22 171.72,371.35 173.08,371.32 174.44,371.15 175.8,370.87 177.16,370.51 178.52,370.08 179.88,369.6 181.24,369.09 182.6,368.56 183.96,368 185.32,367.44 186.68,366.88 188.04,366.3 189.4,365.73 190.76,365.15 192.12,364.58 193.48,364 194.84,363.42 196.2,362.85 197.56,362.27 198.92,361.69 200.28,361.11 201.64,360.53 203,359.96 204.36,359.38 205.72,358.8 207.08,358.22 208.44,357.65 209.8,357.07 211.16,356.49 212.52,355.91 213.88,355.33 215.24,354.76 216.6,354.18 217.96,353.6 219.32,353.02 220.68,352.45 222.04,351.87 223.4,351.29 224.76,350.71 226.12,350.13 227.48,349.56 228.84,348.98 230.2,348.4 231.56,347.82" fill="none" stroke="#3018e8" stroke-width="1.55" stroke-linejoin="round"/>
<polyline points="110.57,401.6 111.93,401.02 113.29,400.44 114.65,399.86 116.01,399.28 117.37,398.71 118.73,398.13 120.09,397.55 121.45,396.97 122.81,396.39 124.17,395.82 125.53,395.24 126.89,394.66 128.25,394.07 129.61,393.49 130.97,392.9 132.33,392.3 133.69,391.69 135.05,391.07 136.41,390.43 137.77,389.75 139.13,389.04 140.49,388.28 141.85,387.45 143.21,386.53 144.57,385.51 145.93,384.37 147.29,383.09 148.65,381.65 150.01,380.03 151.37,378.24 152.73,376.26 154.09,374.13 155.45,371.85 156.81,369.47 158.17,367.04 159.53,364.62 160.89,362.27 162.25,360.08 163.61,358.11 164.97,356.44 166.33,355.1 167.69,354.15 169.05,353.6 170.41,353.45 171.77,353.68 173.13,354.24 174.49,355.09 175.85,356.15 177.21,357.35 178.57,358.62 179.93,359.89 181.29,361.11 182.65,362.21 184.01,363.17 185.37,363.97 186.73,364.58 188.09,365.02 189.45,365.28 190.81,365.39 192.17,365.36 193.53,365.21 194.89,364.95 196.25,364.62 197.61,364.22 198.97,363.77 200.33,363.28 201.69,362.77 203.05,362.23 204.41,361.68 205.77,361.12 207.13,360.56 208.49,359.98 209.85,359.41 211.21,358.84 212.57,358.26 213.93,357.68 215.29,357.11 216.65,356.53 218.01,355.95 219.37,355.37 220.73,354.8 222.09,354.22 223.45,353.64 224.81,353.06 226.17,352.48 227.53,351.91 228.89,351.33 230.25,350.75 231.61,350.17 232.97,349.6" fill="none" stroke="#3018e8" stroke-width="1.55" stroke-linejoin="round"/>
<polyline points="111.98,403.37 113.34,402.79 114.7,402.21 116.06,401.64 117.42,401.06 118.78,400.48 120.14,399.9 121.5,399.32 122.86,398.75 124.22,398.17 125.58,397.59 126.94,397.01 128.3,396.43 129.66,395.84 131.02,395.26 132.38,394.67 133.74,394.06 135.1,393.45 136.46,392.82 137.82,392.16 139.18,391.47 140.54,390.72 141.9,389.91 143.26,389.02 144.62,388.02 145.98,386.89 147.34,385.6 148.7,384.15 150.06,382.51 151.42,380.67 152.78,378.63 154.14,376.41 155.5,374.03 156.86,371.55 158.22,369.02 159.58,366.51 160.94,364.11 162.3,361.9 163.66,359.95 165.02,358.36 166.38,357.16 167.74,356.4 169.1,356.08 170.46,356.2 171.82,356.7 173.18,357.54 174.54,358.64 175.9,359.91 177.26,361.27 178.62,362.64 179.98,363.96 181.34,365.15 182.7,366.19 184.06,367.03 185.42,367.68 186.78,368.14 188.14,368.41 189.5,368.5 190.86,368.45 192.22,368.28 193.58,368 194.94,367.64 196.3,367.22 197.66,366.76 199.02,366.25 200.38,365.73 201.74,365.18 203.1,364.62 204.46,364.06 205.82,363.49 207.18,362.92 208.54,362.34 209.9,361.77 211.26,361.19 212.62,360.61 213.98,360.03 215.34,359.46 216.7,358.88 218.06,358.3 219.42,357.72 220.78,357.15 222.14,356.57 223.5,355.99 224.86,355.41 226.22,354.84 227.58,354.26 228.94,353.68 230.3,353.1 231.66,352.52 233.02,351.95 234.38,351.37" fill="none" stroke="#3018e8" stroke-width="1.55" stroke-linejoin="round"/>
<polyline points="113.39,405.14 114.75,404.56 116.11,403.99 117.47,403.41 118.83,402.83 120.19,402.25 121.55,401.67 122.91,401.1 124.27,400.52 125.63,399.94 126.99,399.36 128.35,398.79 129.71,398.21 131.07,397.63 132.43,397.05 133.79,396.47 135.15,395.9 136.51,395.32 137.87,394.74 139.23,394.16 140.59,393.59 141.95,393.01 143.31,392.43 144.67,391.85 146.03,391.27 147.39,390.69 148.75,390.11 150.11,389.53 151.47,388.94 152.83,388.35 154.19,387.75 155.55,387.13 156.91,386.49 158.27,385.81 159.63,385.07 160.99,384.27 162.35,383.37 163.71,382.34 165.07,381.15 166.43,379.77 167.79,378.17 169.15,376.32 170.51,374.2 171.87,371.83 173.23,369.23 174.59,366.45 175.95,363.57 177.31,360.69 178.67,357.92 180.03,355.39 181.39,353.22 182.75,351.51 184.11,350.34 185.47,349.75 186.83,349.74 188.19,350.27 189.55,351.27 190.91,352.64 192.27,354.24 193.63,355.97 194.99,357.69 196.35,359.32 197.71,360.78 199.07,362 200.43,362.97 201.79,363.68 203.15,364.14 204.51,364.37 205.87,364.41 207.23,364.29 208.59,364.04 209.95,363.69 211.31,363.27 212.67,362.79 214.03,362.28 215.39,361.75 216.75,361.19 218.11,360.63 219.47,360.06 220.83,359.49 222.19,358.92 223.55,358.34 224.91,357.76 226.27,357.19 227.63,356.61 228.99,356.03 230.35,355.45 231.71,354.87 233.07,354.3 234.43,353.72 235.79,353.14" fill="none" stroke="#3018e8" stroke-width="1.55" stroke-linejoin="round"/>
<polyline points="114.8,406.91 116.16,406.34 117.52,405.76 118.88,405.18 120.24,404.6 121.6,404.02 122.96,403.44 124.32,402.86 125.68,402.27 127.04,401.68 128.4,401.08 129.76,400.47 131.12,399.84 132.48,399.18 133.84,398.48 135.2,397.74 136.56,396.93 137.92,396.03 139.28,395.02 140.64,393.88 142,392.57 143.36,391.08 144.72,389.38 146.08,387.46 147.44,385.31 148.8,382.94 150.16,380.39 151.52,377.68 152.88,374.88 154.24,372.08 155.6,369.34 156.96,366.78 158.32,364.49 159.68,362.54 161.04,361.03 162.4,359.99 163.76,359.46 165.12,359.43 166.48,359.87 167.84,360.73 169.2,361.92 170.56,363.36 171.92,364.96 173.28,366.62 174.64,368.25 176,369.77 177.36,371.14 178.72,372.32 180.08,373.27 181.44,373.99 182.8,374.5 184.16,374.8 185.52,374.92 186.88,374.89 188.24,374.72 189.6,374.44 190.96,374.09 192.32,373.66 193.68,373.2 195.04,372.69 196.4,372.16 197.76,371.62 199.12,371.06 200.48,370.49 201.84,369.92 203.2,369.35 204.56,368.78 205.92,368.2 207.28,367.62 208.64,367.05 210,366.47 211.36,365.89 212.72,365.31 214.08,364.74 215.44,364.16 216.8,363.58 218.16,363 219.52,362.42 220.88,361.85 222.24,361.27 223.6,360.69 224.96,360.11 226.32,359.54 227.68,358.96 229.04,358.38 230.4,357.8 231.76,357.22 233.12,356.65 234.48,356.07 235.84,355.49 237.2,354.91" fill="none" stroke="#3018e8" stroke-width="1.55" stroke-linejoin="round"/>
<polyline points="116.2,408.69 117.56,408.11 118.92,407.53 120.28,406.95 121.64,406.38 123,405.8 124.36,405.22 125.72,404.64 127.08,404.06 128.44,403.49 129.8,402.91 131.16,402.33 132.52,401.75 133.88,401.17 135.24,400.6 136.6,400.02 137.96,399.44 139.32,398.86 140.68,398.28 142.04,397.69 143.4,397.11 144.76,396.51 146.12,395.91 147.48,395.3 148.84,394.66 150.2,394 151.56,393.3 152.92,392.55 154.28,391.73 155.64,390.82 157,389.8 158.36,388.63 159.72,387.3 161.08,385.78 162.44,384.04 163.8,382.07 165.16,379.86 166.52,377.41 167.88,374.75 169.24,371.91 170.6,368.95 171.96,365.94 173.32,362.98 174.68,360.15 176.04,357.56 177.4,355.31 178.76,353.47 180.12,352.12 181.48,351.3 182.84,351.01 184.2,351.25 185.56,351.97 186.92,353.1 188.28,354.55 189.64,356.24 191,358.06 192.36,359.91 193.72,361.7 195.08,363.37 196.44,364.86 197.8,366.14 199.16,367.17 200.52,367.97 201.88,368.53 203.24,368.88 204.6,369.04 205.96,369.04 207.32,368.9 208.68,368.64 210.04,368.3 211.4,367.89 212.76,367.43 214.12,366.94 215.48,366.41 216.84,365.87 218.2,365.32 219.56,364.75 220.92,364.18 222.28,363.61 223.64,363.04 225,362.46 226.36,361.88 227.72,361.31 229.08,360.73 230.44,360.15 231.8,359.58 233.16,359 234.52,358.42 235.88,357.84 237.24,357.26 238.6,356.69" fill="none" stroke="#3018e8" stroke-width="1.55" stroke-linejoin="round"/>
<polyline points="117.61,410.46 118.97,409.88 120.33,409.3 121.69,408.73 123.05,408.15 124.41,407.57 125.77,406.99 127.13,406.41 128.49,405.84 129.85,405.26 131.21,404.68 132.57,404.1 133.93,403.52 135.29,402.95 136.65,402.37 138.01,401.79 139.37,401.21 140.73,400.63 142.09,400.04 143.45,399.46 144.81,398.86 146.17,398.26 147.53,397.65 148.89,397.01 150.25,396.36 151.61,395.67 152.97,394.94 154.33,394.15 155.69,393.29 157.05,392.34 158.41,391.28 159.77,390.1 161.13,388.77 162.49,387.29 163.85,385.65 165.21,383.85 166.57,381.89 167.93,379.79 169.29,377.6 170.65,375.34 172.01,373.08 173.37,370.87 174.73,368.79 176.09,366.9 177.45,365.25 178.81,363.91 180.17,362.91 181.53,362.27 182.89,362 184.25,362.08 185.61,362.47 186.97,363.14 188.33,364.01 189.69,365.03 191.05,366.13 192.41,367.23 193.77,368.3 195.13,369.27 196.49,370.12 197.85,370.83 199.21,371.36 200.57,371.74 201.93,371.96 203.29,372.03 204.65,371.97 206.01,371.8 207.37,371.53 208.73,371.19 210.09,370.78 211.45,370.33 212.81,369.84 214.17,369.32 215.53,368.78 216.89,368.23 218.25,367.67 219.61,367.11 220.97,366.54 222.33,365.96 223.69,365.39 225.05,364.81 226.41,364.24 227.77,363.66 229.13,363.08 230.49,362.5 231.85,361.93 233.21,361.35 234.57,360.77 235.93,360.19 237.29,359.61 238.65,359.04 240.01,358.46" fill="none" stroke="#3018e8" stroke-width="1.55" stroke-linejoin="round"/>
<polyline points="119.02,412.23 120.38,411.65 121.74,411.08 123.1,410.5 124.46,409.92 125.82,409.34 127.18,408.76 128.54,408.19 129.9,407.61 131.26,407.03 132.62,406.45 133.98,405.87 135.34,405.3 136.7,404.72 138.06,404.14 139.42,403.56 140.78,402.97 142.14,402.39 143.5,401.79 144.86,401.19 146.22,400.58 147.58,399.95 148.94,399.29 150.3,398.6 151.66,397.87 153.02,397.07 154.38,396.18 155.74,395.2 157.1,394.1 158.46,392.84 159.82,391.41 161.18,389.8 162.54,387.97 163.9,385.93 165.26,383.67 166.62,381.22 167.98,378.61 169.34,375.88 170.7,373.1 172.06,370.35 173.42,367.7 174.78,365.24 176.14,363.07 177.5,361.26 178.86,359.87 180.22,358.94 181.58,358.5 182.94,358.53 184.3,359 185.66,359.86 187.02,361.05 188.38,362.46 189.74,364.03 191.1,365.65 192.46,367.26 193.82,368.77 195.18,370.14 196.54,371.33 197.9,372.31 199.26,373.08 200.62,373.64 201.98,373.99 203.34,374.17 204.7,374.18 206.06,374.06 207.42,373.83 208.78,373.51 210.14,373.12 211.5,372.67 212.86,372.18 214.22,371.67 215.58,371.13 216.94,370.58 218.3,370.02 219.66,369.46 221.02,368.89 222.38,368.31 223.74,367.74 225.1,367.16 226.46,366.59 227.82,366.01 229.18,365.43 230.54,364.85 231.9,364.28 233.26,363.7 234.62,363.12 235.98,362.54 237.34,361.96 238.7,361.39 240.06,360.81 241.42,360.23" fill="none" stroke="#3018e8" stroke-width="1.55" stroke-linejoin="round"/>
<polyline points="120.43,414 121.79,413.43 123.15,412.85 124.51,412.27 125.87,411.69 127.23,411.11 128.59,410.54 129.95,409.96 131.31,409.38 132.67,408.8 134.03,408.23 135.39,407.65 136.75,407.07 138.11,406.49 139.47,405.91 140.83,405.32 142.19,404.73 143.55,404.14 144.91,403.54 146.27,402.92 147.63,402.29 148.99,401.63 150.35,400.93 151.71,400.19 153.07,399.39 154.43,398.51 155.79,397.52 157.15,396.42 158.51,395.18 159.87,393.78 161.23,392.2 162.59,390.44 163.95,388.48 165.31,386.34 166.67,384.04 168.03,381.61 169.39,379.11 170.75,376.58 172.11,374.11 173.47,371.76 174.83,369.62 176.19,367.76 177.55,366.24 178.91,365.11 180.27,364.4 181.63,364.12 182.99,364.25 184.35,364.75 185.71,365.57 187.07,366.65 188.43,367.89 189.79,369.24 191.15,370.61 192.51,371.94 193.87,373.17 195.23,374.25 196.59,375.17 197.95,375.89 199.31,376.43 200.67,376.78 202.03,376.97 203.39,377 204.75,376.89 206.11,376.68 207.47,376.37 208.83,376 210.19,375.56 211.55,375.09 212.91,374.58 214.27,374.05 215.63,373.5 216.99,372.95 218.35,372.38 219.71,371.81 221.07,371.24 222.43,370.67 223.79,370.09 225.15,369.51 226.51,368.94 227.87,368.36 229.23,367.78 230.59,367.2 231.95,366.63 233.31,366.05 234.67,365.47 236.03,364.89 237.39,364.32 238.75,363.74 240.11,363.16 241.47,362.58 242.83,362" fill="none" stroke="#3018e8" stroke-width="1.55" stroke-linejoin="round"/>
<polyline points="121.84,415.78 123.2,415.2 124.56,414.62 125.92,414.04 127.28,413.47 128.64,412.89 130,412.31 131.36,411.73 132.72,411.15 134.08,410.58 135.44,410 136.8,409.42 138.16,408.84 139.52,408.25 140.88,407.66 142.24,407.06 143.6,406.45 144.96,405.81 146.32,405.14 147.68,404.41 149.04,403.61 150.4,402.71 151.76,401.67 153.12,400.47 154.48,399.05 155.84,397.39 157.2,395.46 158.56,393.26 159.92,390.79 161.28,388.1 162.64,385.24 164,382.33 165.36,379.48 166.72,376.82 168.08,374.5 169.44,372.63 170.8,371.32 172.16,370.62 173.52,370.53 174.88,371.03 176.24,372.03 177.6,373.41 178.96,375.04 180.32,376.79 181.68,378.53 183.04,380.14 184.4,381.55 185.76,382.71 187.12,383.59 188.48,384.2 189.84,384.56 191.2,384.69 192.56,384.63 193.92,384.43 195.28,384.11 196.64,383.71 198,383.24 199.36,382.74 200.72,382.2 202.08,381.65 203.44,381.09 204.8,380.52 206.16,379.95 207.52,379.37 208.88,378.8 210.24,378.22 211.6,377.64 212.96,377.07 214.32,376.49 215.68,375.91 217.04,375.33 218.4,374.75 219.76,374.18 221.12,373.6 222.48,373.02 223.84,372.44 225.2,371.87 226.56,371.29 227.92,370.71 229.28,370.13 230.64,369.55 232,368.98 233.36,368.4 234.72,367.82 236.08,367.24 237.44,366.67 238.8,366.09 240.16,365.51 241.52,364.93 242.88,364.35 244.24,363.78" fill="none" stroke="#3018e8" stroke-width="1.55" stroke-linejoin="round"/>
<polyline points="123.24,417.55 124.6,416.97 125.96,416.39 127.32,415.82 128.68,415.24 130.04,414.66 131.4,414.08 132.76,413.5 134.12,412.93 135.48,412.35 136.84,411.77 138.2,411.19 139.56,410.62 140.92,410.04 142.28,409.46 143.64,408.88 145,408.29 146.36,407.71 147.72,407.11 149.08,406.51 150.44,405.89 151.8,405.24 153.16,404.55 154.52,403.8 155.88,402.97 157.24,402.03 158.6,400.95 159.96,399.69 161.32,398.22 162.68,396.52 164.04,394.57 165.4,392.37 166.76,389.96 168.12,387.38 169.48,384.73 170.84,382.09 172.2,379.6 173.56,377.37 174.92,375.53 176.28,374.17 177.64,373.35 179,373.09 180.36,373.36 181.72,374.1 183.08,375.22 184.44,376.58 185.8,378.07 187.16,379.57 188.52,380.97 189.88,382.2 191.24,383.21 192.6,383.98 193.96,384.49 195.32,384.77 196.68,384.85 198.04,384.75 199.4,384.52 200.76,384.18 202.12,383.77 203.48,383.3 204.84,382.79 206.2,382.25 207.56,381.7 208.92,381.13 210.28,380.56 211.64,379.99 213,379.41 214.36,378.84 215.72,378.26 217.08,377.68 218.44,377.1 219.8,376.53 221.16,375.95 222.52,375.37 223.88,374.79 225.24,374.22 226.6,373.64 227.96,373.06 229.32,372.48 230.68,371.9 232.04,371.33 233.4,370.75 234.76,370.17 236.12,369.59 237.48,369.02 238.84,368.44 240.2,367.86 241.56,367.28 242.92,366.7 244.28,366.13 245.64,365.55" fill="none" stroke="#3018e8" stroke-width="1.55" stroke-linejoin="round"/>
<polyline points="124.65,419.32 126.01,418.74 127.37,418.17 128.73,417.59 130.09,417.01 131.45,416.43 132.81,415.85 134.17,415.28 135.53,414.7 136.89,414.12 138.25,413.54 139.61,412.96 140.97,412.37 142.33,411.78 143.69,411.18 145.05,410.55 146.41,409.9 147.77,409.21 149.13,408.46 150.49,407.61 151.85,406.65 153.21,405.53 154.57,404.21 155.93,402.66 157.29,400.85 158.65,398.76 160.01,396.41 161.37,393.83 162.73,391.08 164.09,388.27 165.45,385.52 166.81,382.98 168.17,380.77 169.53,379.04 170.89,377.86 172.25,377.29 173.61,377.34 174.97,377.94 176.33,379 177.69,380.4 179.05,382 180.41,383.65 181.77,385.24 183.13,386.66 184.49,387.84 185.85,388.76 187.21,389.41 188.57,389.8 189.93,389.95 191.29,389.91 192.65,389.71 194.01,389.4 195.37,389 196.73,388.53 198.09,388.02 199.45,387.49 200.81,386.94 202.17,386.37 203.53,385.8 204.89,385.23 206.25,384.65 207.61,384.08 208.97,383.5 210.33,382.92 211.69,382.34 213.05,381.77 214.41,381.19 215.77,380.61 217.13,380.03 218.49,379.45 219.85,378.88 221.21,378.3 222.57,377.72 223.93,377.14 225.29,376.57 226.65,375.99 228.01,375.41 229.37,374.83 230.73,374.25 232.09,373.68 233.45,373.1 234.81,372.52 236.17,371.94 237.53,371.37 238.89,370.79 240.25,370.21 241.61,369.63 242.97,369.05 244.33,368.48 245.69,367.9 247.05,367.32" fill="none" stroke="#3018e8" stroke-width="1.55" stroke-linejoin="round"/>
<polyline points="126.06,421.04 127.42,420.43 128.78,419.8 130.14,419.14 131.5,418.44 132.86,417.67 134.22,416.83 135.58,415.88 136.94,414.78 138.3,413.51 139.66,412.03 141.02,410.31 142.38,408.31 143.74,406.02 145.1,403.44 146.46,400.59 147.82,397.5 149.18,394.26 150.54,390.96 151.9,387.7 153.26,384.63 154.62,381.87 155.98,379.55 157.34,377.76 158.7,376.6 160.06,376.09 161.42,376.23 162.78,376.97 164.14,378.24 165.5,379.92 166.86,381.89 168.22,384.01 169.58,386.15 170.94,388.21 172.3,390.1 173.66,391.74 175.02,393.11 176.38,394.18 177.74,394.96 179.1,395.48 180.46,395.76 181.82,395.83 183.18,395.74 184.54,395.51 185.9,395.18 187.26,394.78 188.62,394.32 189.98,393.81 191.34,393.29 192.7,392.74 194.06,392.18 195.42,391.61 196.78,391.04 198.14,390.47 199.5,389.89 200.86,389.32 202.22,388.74 203.58,388.16 204.94,387.58 206.3,387.01 207.66,386.43 209.02,385.85 210.38,385.27 211.74,384.69 213.1,384.12 214.46,383.54 215.82,382.96 217.18,382.38 218.54,381.81 219.9,381.23 221.26,380.65 222.62,380.07 223.98,379.49 225.34,378.92 226.7,378.34 228.06,377.76 229.42,377.18 230.78,376.61 232.14,376.03 233.5,375.45 234.86,374.87 236.22,374.29 237.58,373.72 238.94,373.14 240.3,372.56 241.66,371.98 243.02,371.41 244.38,370.83 245.74,370.25 247.1,369.67 248.46,369.09" fill="none" stroke="#3018e8" stroke-width="1.55" stroke-linejoin="round"/>
<polyline points="127.47,422.87 128.83,422.29 130.19,421.71 131.55,421.13 132.91,420.56 134.27,419.98 135.63,419.4 136.99,418.82 138.35,418.24 139.71,417.66 141.07,417.07 142.43,416.48 143.79,415.89 145.15,415.28 146.51,414.66 147.87,414.01 149.23,413.34 150.59,412.62 151.95,411.85 153.31,411 154.67,410.06 156.03,408.99 157.39,407.79 158.75,406.41 160.11,404.85 161.47,403.08 162.83,401.09 164.19,398.89 165.55,396.49 166.91,393.92 168.27,391.23 169.63,388.48 170.99,385.76 172.35,383.14 173.71,380.72 175.07,378.58 176.43,376.81 177.79,375.47 179.15,374.61 180.51,374.22 181.87,374.31 183.23,374.85 184.59,375.76 185.95,376.97 187.31,378.4 188.67,379.96 190.03,381.55 191.39,383.1 192.75,384.55 194.11,385.83 195.47,386.92 196.83,387.79 198.19,388.45 199.55,388.9 200.91,389.15 202.27,389.24 203.63,389.17 204.99,388.98 206.35,388.69 207.71,388.32 209.07,387.89 210.43,387.42 211.79,386.91 213.15,386.38 214.51,385.84 215.87,385.28 217.23,384.71 218.59,384.14 219.95,383.57 221.31,383 222.67,382.42 224.03,381.84 225.39,381.27 226.75,380.69 228.11,380.11 229.47,379.53 230.83,378.96 232.19,378.38 233.55,377.8 234.91,377.22 236.27,376.64 237.63,376.07 238.99,375.49 240.35,374.91 241.71,374.33 243.07,373.76 244.43,373.18 245.79,372.6 247.15,372.02 248.51,371.44 249.87,370.87" fill="none" stroke="#3018e8" stroke-width="1.55" stroke-linejoin="round"/>
<polyline points="128.87,424.64 130.23,424.06 131.59,423.48 132.95,422.91 134.31,422.33 135.67,421.75 137.03,421.17 138.39,420.59 139.75,420.02 141.11,419.44 142.47,418.86 143.83,418.28 145.19,417.71 146.55,417.13 147.91,416.55 149.27,415.97 150.63,415.39 151.99,414.81 153.35,414.23 154.71,413.64 156.07,413.04 157.43,412.44 158.79,411.81 160.15,411.16 161.51,410.48 162.87,409.74 164.23,408.92 165.59,408.01 166.95,406.97 168.31,405.78 169.67,404.4 171.03,402.79 172.39,400.95 173.75,398.86 175.11,396.52 176.47,393.97 177.83,391.24 179.19,388.42 180.55,385.59 181.91,382.86 183.27,380.36 184.63,378.19 185.99,376.45 187.35,375.22 188.71,374.55 190.07,374.44 191.43,374.85 192.79,375.73 194.15,376.98 195.51,378.49 196.87,380.14 198.23,381.82 199.59,383.44 200.95,384.9 202.31,386.16 203.67,387.18 205.03,387.95 206.39,388.48 207.75,388.77 209.11,388.87 210.47,388.81 211.83,388.6 213.19,388.29 214.55,387.9 215.91,387.44 217.27,386.95 218.63,386.42 219.99,385.88 221.35,385.32 222.71,384.76 224.07,384.19 225.43,383.61 226.79,383.04 228.15,382.46 229.51,381.88 230.87,381.31 232.23,380.73 233.59,380.15 234.95,379.57 236.31,378.99 237.67,378.42 239.03,377.84 240.39,377.26 241.75,376.68 243.11,376.11 244.47,375.53 245.83,374.95 247.19,374.37 248.55,373.79 249.91,373.22 251.27,372.64" fill="none" stroke="#3018e8" stroke-width="1.55" stroke-linejoin="round"/>
<polyline points="130.28,426.41 131.64,425.83 133,425.26 134.36,424.68 135.72,424.1 137.08,423.52 138.44,422.95 139.8,422.37 141.16,421.79 142.52,421.21 143.88,420.63 145.24,420.06 146.6,419.48 147.96,418.9 149.32,418.32 150.68,417.75 152.04,417.17 153.4,416.59 154.76,416.01 156.12,415.43 157.48,414.86 158.84,414.28 160.2,413.7 161.56,413.12 162.92,412.54 164.28,411.96 165.64,411.38 167,410.8 168.36,410.21 169.72,409.62 171.08,409.01 172.44,408.39 173.8,407.75 175.16,407.08 176.52,406.36 177.88,405.58 179.24,404.71 180.6,403.75 181.96,402.66 183.32,401.41 184.68,399.99 186.04,398.39 187.4,396.58 188.76,394.59 190.12,392.43 191.48,390.13 192.84,387.76 194.2,385.39 195.56,383.1 196.92,380.97 198.28,379.1 199.64,377.57 201,376.43 202.36,375.72 203.72,375.45 205.08,375.6 206.44,376.12 207.8,376.95 209.16,378 210.52,379.18 211.88,380.4 213.24,381.6 214.6,382.69 215.96,383.63 217.32,384.39 218.68,384.96 220.04,385.33 221.4,385.52 222.76,385.55 224.12,385.43 225.48,385.2 226.84,384.87 228.2,384.47 229.56,384.01 230.92,383.51 232.28,382.99 233.64,382.45 235,381.89 236.36,381.33 237.72,380.76 239.08,380.18 240.44,379.61 241.8,379.03 243.16,378.46 244.52,377.88 245.88,377.3 247.24,376.72 248.6,376.15 249.96,375.57 251.32,374.99 252.68,374.41" fill="none" stroke="#3018e8" stroke-width="1.55" stroke-linejoin="round"/>
<polyline points="131.69,428.18 133.05,427.61 134.41,427.03 135.77,426.45 137.13,425.87 138.49,425.3 139.85,424.72 141.21,424.14 142.57,423.56 143.93,422.98 145.29,422.41 146.65,421.83 148.01,421.25 149.37,420.67 150.73,420.1 152.09,419.52 153.45,418.94 154.81,418.36 156.17,417.78 157.53,417.2 158.89,416.62 160.25,416.04 161.61,415.46 162.97,414.87 164.33,414.27 165.69,413.65 167.05,413.01 168.41,412.33 169.77,411.59 171.13,410.76 172.49,409.82 173.85,408.72 175.21,407.42 176.57,405.87 177.93,404.03 179.29,401.86 180.65,399.35 182.01,396.51 183.37,393.39 184.73,390.06 186.09,386.65 187.45,383.3 188.81,380.19 190.17,377.49 191.53,375.34 192.89,373.87 194.25,373.16 195.61,373.2 196.97,373.96 198.33,375.32 199.69,377.15 201.05,379.28 202.41,381.52 203.77,383.74 205.13,385.79 206.49,387.59 207.85,389.06 209.21,390.2 210.57,391 211.93,391.5 213.29,391.73 214.65,391.74 216.01,391.58 217.37,391.29 218.73,390.9 220.09,390.44 221.45,389.94 222.81,389.41 224.17,388.86 225.53,388.3 226.89,387.73 228.25,387.16 229.61,386.58 230.97,386.01 232.33,385.43 233.69,384.85 235.05,384.27 236.41,383.7 237.77,383.12 239.13,382.54 240.49,381.96 241.85,381.38 243.21,380.81 244.57,380.23 245.93,379.65 247.29,379.07 248.65,378.5 250.01,377.92 251.37,377.34 252.73,376.76 254.09,376.18" fill="none" stroke="#3018e8" stroke-width="1.55" stroke-linejoin="round"/>
<polyline points="133.1,429.96 134.46,429.38 135.82,428.8 137.18,428.22 138.54,427.65 139.9,427.07 141.26,426.49 142.62,425.91 143.98,425.33 145.34,424.75 146.7,424.17 148.06,423.59 149.42,423.01 150.78,422.42 152.14,421.83 153.5,421.22 154.86,420.6 156.22,419.97 157.58,419.3 158.94,418.59 160.3,417.83 161.66,416.99 163.02,416.07 164.38,415.02 165.74,413.84 167.1,412.48 168.46,410.94 169.82,409.19 171.18,407.23 172.54,405.04 173.9,402.65 175.26,400.09 176.62,397.4 177.98,394.65 179.34,391.91 180.7,389.28 182.06,386.84 183.42,384.69 184.78,382.91 186.14,381.56 187.5,380.69 188.86,380.32 190.22,380.42 191.58,380.97 192.94,381.9 194.3,383.13 195.66,384.58 197.02,386.15 198.38,387.75 199.74,389.3 201.1,390.74 202.46,392.01 203.82,393.08 205.18,393.93 206.54,394.56 207.9,394.99 209.26,395.22 210.62,395.28 211.98,395.19 213.34,394.98 214.7,394.68 216.06,394.29 217.42,393.86 218.78,393.37 220.14,392.86 221.5,392.33 222.86,391.78 224.22,391.22 225.58,390.65 226.94,390.08 228.3,389.51 229.66,388.93 231.02,388.36 232.38,387.78 233.74,387.2 235.1,386.62 236.46,386.05 237.82,385.47 239.18,384.89 240.54,384.31 241.9,383.73 243.26,383.16 244.62,382.58 245.98,382 247.34,381.42 248.7,380.85 250.06,380.27 251.42,379.69 252.78,379.11 254.14,378.53 255.5,377.96" fill="none" stroke="#3018e8" stroke-width="1.55" stroke-linejoin="round"/>
<polyline points="134.51,431.73 135.87,431.15 137.23,430.57 138.59,429.98 139.95,429.4 141.31,428.8 142.67,428.2 144.03,427.58 145.39,426.94 146.75,426.26 148.11,425.54 149.47,424.75 150.83,423.88 152.19,422.9 153.55,421.79 154.91,420.51 156.27,419.05 157.63,417.39 158.99,415.52 160.35,413.46 161.71,411.22 163.07,408.84 164.43,406.39 165.79,403.96 167.15,401.62 168.51,399.48 169.87,397.62 171.23,396.14 172.59,395.08 173.95,394.48 175.31,394.35 176.67,394.64 178.03,395.31 179.39,396.27 180.75,397.44 182.11,398.72 183.47,400.01 184.83,401.24 186.19,402.34 187.55,403.27 188.91,404 190.27,404.52 191.63,404.84 192.99,404.98 194.35,404.95 195.71,404.78 197.07,404.51 198.43,404.15 199.79,403.72 201.15,403.24 202.51,402.73 203.87,402.2 205.23,401.65 206.59,401.08 207.95,400.52 209.31,399.94 210.67,399.37 212.03,398.79 213.39,398.22 214.75,397.64 216.11,397.06 217.47,396.48 218.83,395.91 220.19,395.33 221.55,394.75 222.91,394.17 224.27,393.6 225.63,393.02 226.99,392.44 228.35,391.86 229.71,391.28 231.07,390.71 232.43,390.13 233.79,389.55 235.15,388.97 236.51,388.4 237.87,387.82 239.23,387.24 240.59,386.66 241.95,386.08 243.31,385.51 244.67,384.93 246.03,384.35 247.39,383.77 248.75,383.2 250.11,382.62 251.47,382.04 252.83,381.46 254.19,380.88 255.55,380.31 256.91,379.73" fill="none" stroke="#3018e8" stroke-width="1.55" stroke-linejoin="round"/>
<polyline points="135.91,433.5 137.27,432.92 138.63,432.35 139.99,431.77 141.35,431.19 142.71,430.61 144.07,430.04 145.43,429.46 146.79,428.88 148.15,428.3 149.51,427.72 150.87,427.15 152.23,426.57 153.59,425.99 154.95,425.41 156.31,424.84 157.67,424.26 159.03,423.68 160.39,423.1 161.75,422.52 163.11,421.94 164.47,421.36 165.83,420.78 167.19,420.19 168.55,419.6 169.91,419 171.27,418.38 172.63,417.74 173.99,417.06 175.35,416.34 176.71,415.56 178.07,414.69 179.43,413.7 180.79,412.58 182.15,411.3 183.51,409.82 184.87,408.13 186.23,406.22 187.59,404.09 188.95,401.76 190.31,399.27 191.67,396.68 193.03,394.07 194.39,391.54 195.75,389.19 197.11,387.11 198.47,385.41 199.83,384.15 201.19,383.38 202.55,383.11 203.91,383.32 205.27,383.96 206.63,384.96 207.99,386.2 209.35,387.61 210.71,389.06 212.07,390.48 213.43,391.78 214.79,392.91 216.15,393.84 217.51,394.54 218.87,395.03 220.23,395.3 221.59,395.39 222.95,395.32 224.31,395.12 225.67,394.81 227.03,394.42 228.39,393.98 229.75,393.49 231.11,392.97 232.47,392.42 233.83,391.87 235.19,391.31 236.55,390.74 237.91,390.16 239.27,389.59 240.63,389.01 241.99,388.43 243.35,387.86 244.71,387.28 246.07,386.7 247.43,386.12 248.79,385.55 250.15,384.97 251.51,384.39 252.87,383.81 254.23,383.24 255.59,382.66 256.95,382.08 258.31,381.5" fill="none" stroke="#3018e8" stroke-width="1.55" stroke-linejoin="round"/>
<polyline points="137.32,435.27 138.68,434.7 140.04,434.12 141.4,433.54 142.76,432.96 144.12,432.39 145.48,431.81 146.84,431.23 148.2,430.65 149.56,430.07 150.92,429.5 152.28,428.92 153.64,428.34 155,427.76 156.36,427.19 157.72,426.61 159.08,426.03 160.44,425.45 161.8,424.87 163.16,424.29 164.52,423.71 165.88,423.13 167.24,422.54 168.6,421.95 169.96,421.35 171.32,420.74 172.68,420.11 174.04,419.46 175.4,418.77 176.76,418.03 178.12,417.23 179.48,416.35 180.84,415.36 182.2,414.23 183.56,412.94 184.92,411.47 186.28,409.79 187.64,407.88 189,405.72 190.36,403.33 191.72,400.72 193.08,397.92 194.44,394.99 195.8,391.99 197.16,389.01 198.52,386.15 199.88,383.5 201.24,381.17 202.6,379.23 203.96,377.77 205.32,376.83 206.68,376.43 208.04,376.56 209.4,377.18 210.76,378.23 212.12,379.62 213.48,381.27 214.84,383.06 216.2,384.91 217.56,386.72 218.92,388.41 220.28,389.94 221.64,391.25 223,392.34 224.36,393.18 225.72,393.78 227.08,394.17 228.44,394.36 229.8,394.38 231.16,394.26 232.52,394.03 233.88,393.7 235.24,393.3 236.6,392.85 237.96,392.36 239.32,391.84 240.68,391.3 242.04,390.75 243.4,390.18 244.76,389.62 246.12,389.04 247.48,388.47 248.84,387.89 250.2,387.32 251.56,386.74 252.92,386.16 254.28,385.59 255.64,385.01 257,384.43 258.36,383.85 259.72,383.27" fill="none" stroke="#3018e8" stroke-width="1.55" stroke-linejoin="round"/>
<polyline points="138.73,437.05 140.09,436.47 141.45,435.89 142.81,435.31 144.17,434.74 145.53,434.16 146.89,433.58 148.25,433 149.61,432.42 150.97,431.85 152.33,431.27 153.69,430.69 155.05,430.11 156.41,429.54 157.77,428.96 159.13,428.38 160.49,427.8 161.85,427.22 163.21,426.64 164.57,426.06 165.93,425.48 167.29,424.89 168.65,424.3 170.01,423.69 171.37,423.08 172.73,422.44 174.09,421.78 175.45,421.07 176.81,420.32 178.17,419.49 179.53,418.57 180.89,417.54 182.25,416.37 183.61,415.03 184.97,413.52 186.33,411.8 187.69,409.88 189.05,407.75 190.41,405.43 191.77,402.95 193.13,400.37 194.49,397.75 195.85,395.18 197.21,392.72 198.57,390.49 199.93,388.55 201.29,386.99 202.65,385.86 204.01,385.19 205.37,384.99 206.73,385.24 208.09,385.88 209.45,386.85 210.81,388.08 212.17,389.46 213.53,390.92 214.89,392.37 216.25,393.73 217.61,394.96 218.97,396.01 220.33,396.86 221.69,397.5 223.05,397.94 224.41,398.19 225.77,398.26 227.13,398.19 228.49,397.99 229.85,397.7 231.21,397.32 232.57,396.89 233.93,396.41 235.29,395.9 236.65,395.37 238.01,394.82 239.37,394.26 240.73,393.7 242.09,393.13 243.45,392.55 244.81,391.98 246.17,391.4 247.53,390.82 248.89,390.25 250.25,389.67 251.61,389.09 252.97,388.51 254.33,387.94 255.69,387.36 257.05,386.78 258.41,386.2 259.77,385.62 261.13,385.05" fill="none" stroke="#3018e8" stroke-width="1.55" stroke-linejoin="round"/>
<polyline points="140.14,438.82 141.5,438.24 142.86,437.66 144.22,437.09 145.58,436.51 146.94,435.93 148.3,435.35 149.66,434.78 151.02,434.2 152.38,433.62 153.74,433.04 155.1,432.46 156.46,431.89 157.82,431.31 159.18,430.73 160.54,430.15 161.9,429.56 163.26,428.98 164.62,428.38 165.98,427.78 167.34,427.16 168.7,426.51 170.06,425.83 171.42,425.08 172.78,424.27 174.14,423.34 175.5,422.29 176.86,421.06 178.22,419.64 179.58,417.98 180.94,416.07 182.3,413.9 183.66,411.47 185.02,408.84 186.38,406.05 187.74,403.2 189.1,400.4 190.46,397.77 191.82,395.43 193.18,393.5 194.54,392.07 195.9,391.21 197.26,390.93 198.62,391.22 199.98,392.01 201.34,393.2 202.7,394.69 204.06,396.34 205.42,398.03 206.78,399.66 208.14,401.13 209.5,402.39 210.86,403.4 212.22,404.15 213.58,404.65 214.94,404.91 216.3,404.97 217.66,404.87 219.02,404.63 220.38,404.29 221.74,403.87 223.1,403.4 224.46,402.89 225.82,402.36 227.18,401.81 228.54,401.24 229.9,400.68 231.26,400.1 232.62,399.53 233.98,398.95 235.34,398.37 236.7,397.8 238.06,397.22 239.42,396.64 240.78,396.06 242.14,395.49 243.5,394.91 244.86,394.33 246.22,393.75 247.58,393.18 248.94,392.6 250.3,392.02 251.66,391.44 253.02,390.86 254.38,390.29 255.74,389.71 257.1,389.13 258.46,388.55 259.82,387.98 261.18,387.4 262.54,386.82" fill="none" stroke="#3018e8" stroke-width="1.55" stroke-linejoin="round"/>
<polyline points="141.55,440.59 142.91,440.01 144.27,439.44 145.63,438.86 146.99,438.28 148.35,437.7 149.71,437.12 151.07,436.54 152.43,435.97 153.79,435.38 155.15,434.8 156.51,434.21 157.87,433.62 159.23,433.02 160.59,432.42 161.95,431.79 163.31,431.14 164.67,430.47 166.03,429.75 167.39,428.98 168.75,428.15 170.11,427.23 171.47,426.21 172.83,425.06 174.19,423.78 175.55,422.34 176.91,420.74 178.27,418.96 179.63,417.01 180.99,414.9 182.35,412.66 183.71,410.32 185.07,407.94 186.43,405.57 187.79,403.28 189.15,401.14 190.51,399.22 191.87,397.59 193.23,396.28 194.59,395.34 195.95,394.79 197.31,394.63 198.67,394.83 200.03,395.36 201.39,396.16 202.75,397.16 204.11,398.31 205.47,399.53 206.83,400.75 208.19,401.92 209.55,402.99 210.91,403.92 212.27,404.69 213.63,405.29 214.99,405.72 216.35,405.98 217.71,406.09 219.07,406.06 220.43,405.91 221.79,405.66 223.15,405.33 224.51,404.93 225.87,404.48 227.23,404 228.59,403.49 229.95,402.95 231.31,402.41 232.67,401.85 234.03,401.28 235.39,400.71 236.75,400.14 238.11,399.57 239.47,398.99 240.83,398.41 242.19,397.84 243.55,397.26 244.91,396.68 246.27,396.1 247.63,395.53 248.99,394.95 250.35,394.37 251.71,393.79 253.07,393.21 254.43,392.64 255.79,392.06 257.15,391.48 258.51,390.9 259.87,390.33 261.23,389.75 262.59,389.17 263.95,388.59" fill="none" stroke="#3018e8" stroke-width="1.55" stroke-linejoin="round"/>
<polyline points="142.95,442.36 144.31,441.79 145.67,441.21 147.03,440.63 148.39,440.05 149.75,439.48 151.11,438.9 152.47,438.32 153.83,437.74 155.19,437.16 156.55,436.59 157.91,436.01 159.27,435.43 160.63,434.85 161.99,434.27 163.35,433.69 164.71,433.11 166.07,432.52 167.43,431.93 168.79,431.33 170.15,430.72 171.51,430.09 172.87,429.43 174.23,428.73 175.59,427.97 176.95,427.14 178.31,426.2 179.67,425.14 181.03,423.92 182.39,422.51 183.75,420.89 185.11,419.02 186.47,416.89 187.83,414.51 189.19,411.88 190.55,409.05 191.91,406.07 193.27,403.01 194.63,399.99 195.99,397.11 197.35,394.48 198.71,392.21 200.07,390.41 201.43,389.13 202.79,388.43 204.15,388.31 205.51,388.75 206.87,389.68 208.23,391.01 209.59,392.65 210.95,394.47 212.31,396.36 213.67,398.23 215.03,399.98 216.39,401.54 217.75,402.88 219.11,403.96 220.47,404.78 221.83,405.35 223.19,405.69 224.55,405.83 225.91,405.79 227.27,405.62 228.63,405.34 229.99,404.97 231.35,404.54 232.71,404.06 234.07,403.54 235.43,403.01 236.79,402.46 238.15,401.9 239.51,401.33 240.87,400.76 242.23,400.18 243.59,399.61 244.95,399.03 246.31,398.45 247.67,397.88 249.03,397.3 250.39,396.72 251.75,396.14 253.11,395.56 254.47,394.99 255.83,394.41 257.19,393.83 258.55,393.25 259.91,392.68 261.27,392.1 262.63,391.52 263.99,390.94 265.35,390.36" fill="none" stroke="#3018e8" stroke-width="1.55" stroke-linejoin="round"/>
<polyline points="144.36,444.14 145.72,443.56 147.08,442.98 148.44,442.4 149.8,441.83 151.16,441.25 152.52,440.67 153.88,440.09 155.24,439.51 156.6,438.94 157.96,438.36 159.32,437.78 160.68,437.2 162.04,436.61 163.4,436.02 164.76,435.43 166.12,434.82 167.48,434.19 168.84,433.53 170.2,432.83 171.56,432.07 172.92,431.23 174.28,430.29 175.64,429.21 177,427.97 178.36,426.54 179.72,424.91 181.08,423.06 182.44,421 183.8,418.76 185.16,416.38 186.52,413.93 187.88,411.51 189.24,409.21 190.6,407.13 191.96,405.38 193.32,404.04 194.68,403.16 196.04,402.76 197.4,402.83 198.76,403.33 200.12,404.18 201.48,405.28 202.84,406.53 204.2,407.82 205.56,409.07 206.92,410.2 208.28,411.15 209.64,411.9 211,412.43 212.36,412.75 213.72,412.88 215.08,412.84 216.44,412.66 217.8,412.37 219.16,411.99 220.52,411.55 221.88,411.06 223.24,410.54 224.6,410 225.96,409.44 227.32,408.88 228.68,408.31 230.04,407.73 231.4,407.16 232.76,406.58 234.12,406 235.48,405.43 236.84,404.85 238.2,404.27 239.56,403.69 240.92,403.12 242.28,402.54 243.64,401.96 245,401.38 246.36,400.8 247.72,400.23 249.08,399.65 250.44,399.07 251.8,398.49 253.16,397.92 254.52,397.34 255.88,396.76 257.24,396.18 258.6,395.6 259.96,395.03 261.32,394.45 262.68,393.87 264.04,393.29 265.4,392.72 266.76,392.14" fill="none" stroke="#3018e8" stroke-width="1.55" stroke-linejoin="round"/>
<polyline points="145.77,445.91 147.13,445.33 148.49,444.75 149.85,444.18 151.21,443.6 152.57,443.02 153.93,442.44 155.29,441.87 156.65,441.29 158.01,440.71 159.37,440.13 160.73,439.55 162.09,438.97 163.45,438.39 164.81,437.8 166.17,437.21 167.53,436.61 168.89,436 170.25,435.38 171.61,434.73 172.97,434.05 174.33,433.32 175.69,432.53 177.05,431.67 178.41,430.71 179.77,429.62 181.13,428.4 182.49,427 183.85,425.41 185.21,423.62 186.57,421.62 187.93,419.4 189.29,416.99 190.65,414.42 192.01,411.73 193.37,409 194.73,406.28 196.09,403.68 197.45,401.28 198.81,399.16 200.17,397.4 201.53,396.07 202.89,395.2 204.25,394.81 205.61,394.89 206.97,395.4 208.33,396.29 209.69,397.49 211.05,398.9 212.41,400.44 213.77,402.02 215.13,403.57 216.49,405.01 217.85,406.3 219.21,407.41 220.57,408.31 221.93,408.99 223.29,409.46 224.65,409.74 226.01,409.85 227.37,409.81 228.73,409.64 230.09,409.37 231.45,409.01 232.81,408.59 234.17,408.13 235.53,407.63 236.89,407.1 238.25,406.56 239.61,406.01 240.97,405.44 242.33,404.87 243.69,404.3 245.05,403.73 246.41,403.15 247.77,402.58 249.13,402 250.49,401.42 251.85,400.84 253.21,400.27 254.57,399.69 255.93,399.11 257.29,398.53 258.65,397.95 260.01,397.38 261.37,396.8 262.73,396.22 264.09,395.64 265.45,395.07 266.81,394.49 268.17,393.91" fill="none" stroke="#3018e8" stroke-width="1.55" stroke-linejoin="round"/>
<polyline points="147.18,447.68 148.54,447.1 149.9,446.53 151.26,445.95 152.62,445.37 153.98,444.79 155.34,444.21 156.7,443.63 158.06,443.05 159.42,442.46 160.78,441.87 162.14,441.27 163.5,440.66 164.86,440.04 166.22,439.38 167.58,438.69 168.94,437.95 170.3,437.14 171.66,436.24 173.02,435.23 174.38,434.08 175.74,432.76 177.1,431.25 178.46,429.53 179.82,427.58 181.18,425.4 182.54,423 183.9,420.41 185.26,417.68 186.62,414.87 187.98,412.08 189.34,409.38 190.7,406.88 192.06,404.68 193.42,402.87 194.78,401.51 196.14,400.66 197.5,400.32 198.86,400.48 200.22,401.11 201.58,402.13 202.94,403.45 204.3,404.98 205.66,406.62 207.02,408.28 208.38,409.86 209.74,411.31 211.1,412.57 212.46,413.61 213.82,414.42 215.18,415 216.54,415.37 217.9,415.54 219.26,415.55 220.62,415.41 221.98,415.16 223.34,414.82 224.7,414.41 226.06,413.95 227.42,413.45 228.78,412.93 230.14,412.38 231.5,411.83 232.86,411.26 234.22,410.69 235.58,410.12 236.94,409.55 238.3,408.97 239.66,408.39 241.02,407.82 242.38,407.24 243.74,406.66 245.1,406.08 246.46,405.5 247.82,404.93 249.18,404.35 250.54,403.77 251.9,403.19 253.26,402.62 254.62,402.04 255.98,401.46 257.34,400.88 258.7,400.3 260.06,399.73 261.42,399.15 262.78,398.57 264.14,397.99 265.5,397.42 266.86,396.84 268.22,396.26 269.58,395.68" fill="none" stroke="#3018e8" stroke-width="1.55" stroke-linejoin="round"/>
<polyline points="148.58,449.45 149.94,448.88 151.3,448.3 152.66,447.72 154.02,447.14 155.38,446.57 156.74,445.99 158.1,445.41 159.46,444.83 160.82,444.25 162.18,443.68 163.54,443.1 164.9,442.52 166.26,441.94 167.62,441.37 168.98,440.79 170.34,440.21 171.7,439.63 173.06,439.05 174.42,438.47 175.78,437.89 177.14,437.31 178.5,436.73 179.86,436.14 181.22,435.54 182.58,434.93 183.94,434.31 185.3,433.66 186.66,432.98 188.02,432.25 189.38,431.46 190.74,430.59 192.1,429.62 193.46,428.53 194.82,427.28 196.18,425.87 197.54,424.25 198.9,422.43 200.26,420.4 201.62,418.16 202.98,415.74 204.34,413.18 205.7,410.52 207.06,407.85 208.42,405.25 209.78,402.8 211.14,400.59 212.5,398.71 213.86,397.24 215.22,396.21 216.58,395.65 217.94,395.57 219.3,395.94 220.66,396.69 222.02,397.77 223.38,399.09 224.74,400.55 226.1,402.07 227.46,403.56 228.82,404.96 230.18,406.2 231.54,407.27 232.9,408.12 234.26,408.77 235.62,409.2 236.98,409.45 238.34,409.52 239.7,409.44 241.06,409.25 242.42,408.95 243.78,408.58 245.14,408.14 246.5,407.67 247.86,407.16 249.22,406.62 250.58,406.07 251.94,405.52 253.3,404.95 254.66,404.38 256.02,403.8 257.38,403.23 258.74,402.65 260.1,402.08 261.46,401.5 262.82,400.92 264.18,400.34 265.54,399.77 266.9,399.19 268.26,398.61 269.62,398.03 270.98,397.45" fill="none" stroke="#3018e8" stroke-width="1.55" stroke-linejoin="round"/>
<polyline points="149.99,451.23 151.35,450.65 152.71,450.07 154.07,449.49 155.43,448.92 156.79,448.34 158.15,447.76 159.51,447.18 160.87,446.6 162.23,446.02 163.59,445.44 164.95,444.86 166.31,444.27 167.67,443.67 169.03,443.07 170.39,442.45 171.75,441.8 173.11,441.12 174.47,440.39 175.83,439.6 177.19,438.72 178.55,437.73 179.91,436.61 181.27,435.32 182.63,433.85 183.99,432.19 185.35,430.31 186.71,428.24 188.07,425.99 189.43,423.6 190.79,421.13 192.15,418.67 193.51,416.29 194.87,414.1 196.23,412.18 197.59,410.62 198.95,409.48 200.31,408.8 201.67,408.57 203.03,408.79 204.39,409.39 205.75,410.31 207.11,411.46 208.47,412.73 209.83,414.05 211.19,415.33 212.55,416.5 213.91,417.5 215.27,418.32 216.63,418.93 217.99,419.33 219.35,419.54 220.71,419.58 222.07,419.48 223.43,419.25 224.79,418.92 226.15,418.52 227.51,418.07 228.87,417.57 230.23,417.05 231.59,416.51 232.95,415.95 234.31,415.39 235.67,414.82 237.03,414.24 238.39,413.67 239.75,413.09 241.11,412.52 242.47,411.94 243.83,411.36 245.19,410.78 246.55,410.21 247.91,409.63 249.27,409.05 250.63,408.47 251.99,407.89 253.35,407.32 254.71,406.74 256.07,406.16 257.43,405.58 258.79,405.01 260.15,404.43 261.51,403.85 262.87,403.27 264.23,402.69 265.59,402.12 266.95,401.54 268.31,400.96 269.67,400.38 271.03,399.81 272.39,399.23" fill="none" stroke="#3018e8" stroke-width="1.55" stroke-linejoin="round"/>
<polyline points="151.4,453 152.76,452.42 154.12,451.84 155.48,451.27 156.84,450.69 158.2,450.11 159.56,449.53 160.92,448.96 162.28,448.38 163.64,447.8 165,447.22 166.36,446.64 167.72,446.07 169.08,445.49 170.44,444.91 171.8,444.33 173.16,443.75 174.52,443.18 175.88,442.6 177.24,442.02 178.6,441.44 179.96,440.85 181.32,440.27 182.68,439.67 184.04,439.07 185.4,438.46 186.76,437.82 188.12,437.16 189.48,436.45 190.84,435.7 192.2,434.86 193.56,433.94 194.92,432.89 196.28,431.7 197.64,430.33 199,428.77 200.36,426.99 201.72,424.98 203.08,422.76 204.44,420.32 205.8,417.71 207.16,414.98 208.52,412.21 209.88,409.47 211.24,406.87 212.6,404.5 213.96,402.45 215.32,400.81 216.68,399.64 218.04,398.97 219.4,398.81 220.76,399.13 222.12,399.88 223.48,400.99 224.84,402.37 226.2,403.91 227.56,405.53 228.92,407.13 230.28,408.63 231.64,409.98 233,411.13 234.36,412.06 235.72,412.76 237.08,413.25 238.44,413.52 239.8,413.62 241.16,413.56 242.52,413.37 243.88,413.08 245.24,412.71 246.6,412.27 247.96,411.8 249.32,411.28 250.68,410.75 252.04,410.2 253.4,409.64 254.76,409.07 256.12,408.5 257.48,407.93 258.84,407.35 260.2,406.78 261.56,406.2 262.92,405.62 264.28,405.04 265.64,404.47 267,403.89 268.36,403.31 269.72,402.73 271.08,402.16 272.44,401.58 273.8,401" fill="none" stroke="#3018e8" stroke-width="1.55" stroke-linejoin="round"/>
<polyline points="252.4,373.4 254,370.5 255.8,369 257.5,368.7 259.2,369.5 261,371.5 272.2,388.4 272.8,389.5" fill="none" stroke="#3418ee" stroke-width="1.3"/>
<text transform="translate(44.3,127.34) rotate(-90) scale(1.1,1)" font-size="28.5" fill="#000">Prob</text>
<text transform="translate(80.03,36.5) scale(1,1.08)" font-size="15" fill="#000">x</text>
<text transform="translate(92.33,36.5) scale(1,1.2)" font-size="15.3" fill="#000">10</text>
<text transform="translate(109.78,26.3) scale(1,1.08)" font-size="10.5" fill="#000">−</text>
<text transform="translate(115.8,25.2) scale(1,1.08)" font-size="10.5" fill="#000">3</text>
<text transform="translate(57.85,82.8) scale(1,1.08)" font-size="15" fill="#000">15</text>
<text transform="translate(57.8,94) scale(1,1.08)" font-size="15" fill="#000">10</text>
<text transform="translate(66.19,102.7) scale(1,1.08)" font-size="15" fill="#000">5</text>
<text transform="translate(47.16,132.5) scale(1,1.08)" font-size="15" fill="#000">300</text>
<text transform="translate(75.86,167.3) scale(1,1.08)" font-size="15" fill="#000">200</text>
<text transform="translate(104.76,201.2) scale(1,1.08)" font-size="15" fill="#000">100</text>
<text transform="translate(165.44,215.4) scale(1,1.08)" font-size="15" fill="#000">600</text>
<text transform="translate(203.45,200.4) scale(1,1.08)" font-size="15" fill="#000">800</text>
<text transform="translate(241.96,186.4) scale(1,1.08)" font-size="15" fill="#000">1000</text>
<text transform="translate(280.66,171) scale(1,1.08)" font-size="15" fill="#000">1200</text>
<text transform="translate(5.76,220.1) scale(1,1.08)" font-size="28.5" fill="#000">Time (s)</text>
<text transform="translate(202.98,222) scale(1,1.08)" font-size="28.5" fill="#000">μ</text>
<text transform="translate(220.1,238.5) scale(1,1.08)" font-size="22" fill="#000">RR</text>
<text transform="translate(260.73,222) scale(1,1.08)" font-size="28.5" fill="#000">(ms)</text>
<text transform="translate(52.4,378.24) rotate(-90) scale(1.1,1)" font-size="28.5" fill="#000">Prob</text>
<text transform="translate(80.03,285.8) scale(1,1.08)" font-size="15" fill="#000">x</text>
<text transform="translate(92.33,285.8) scale(1,1.2)" font-size="15.3" fill="#000">10</text>
<text transform="translate(109.78,275.6) scale(1,1.08)" font-size="10.5" fill="#000">−</text>
<text transform="translate(115.8,274.5) scale(1,1.08)" font-size="10.5" fill="#000">3</text>
<text transform="translate(66.51,327.3) scale(1,1.08)" font-size="15" fill="#000">8</text>
<text transform="translate(66.52,335.5) scale(1,1.08)" font-size="15" fill="#000">6</text>
<text transform="translate(66.3,345.4) scale(1,1.08)" font-size="15" fill="#000">4</text>
<text transform="translate(66.61,354.6) scale(1,1.08)" font-size="15" fill="#000">2</text>
<text transform="translate(50.76,387.4) scale(1,1.08)" font-size="15" fill="#000">250</text>
<text transform="translate(64.56,406.2) scale(1,1.08)" font-size="15" fill="#000">200</text>
<text transform="translate(78.86,423.9) scale(1,1.08)" font-size="15" fill="#000">150</text>
<text transform="translate(93.46,441.5) scale(1,1.08)" font-size="15" fill="#000">100</text>
<text transform="translate(116.2,459.1) scale(1,1.08)" font-size="15" fill="#000">50</text>
<text transform="translate(156.14,475.2) scale(1,1.08)" font-size="15" fill="#000">600</text>
<text transform="translate(197.05,458.2) scale(1,1.08)" font-size="15" fill="#000">800</text>
<text transform="translate(238.76,440.6) scale(1,1.08)" font-size="15" fill="#000">1000</text>
<text transform="translate(279.56,424.2) scale(1,1.08)" font-size="15" fill="#000">1200</text>
<text transform="translate(5.96,474.5) scale(1,1.08)" font-size="28.5" fill="#000">Time (s)</text>
<text transform="translate(203.88,477.5) scale(1,1.08)" font-size="28.5" fill="#000">μ</text>
<text transform="translate(221,494) scale(1,1.08)" font-size="22" fill="#000">RR</text>
<text transform="translate(261.63,477.5) scale(1,1.08)" font-size="28.5" fill="#000">(ms)</text></svg>
</body></html>
